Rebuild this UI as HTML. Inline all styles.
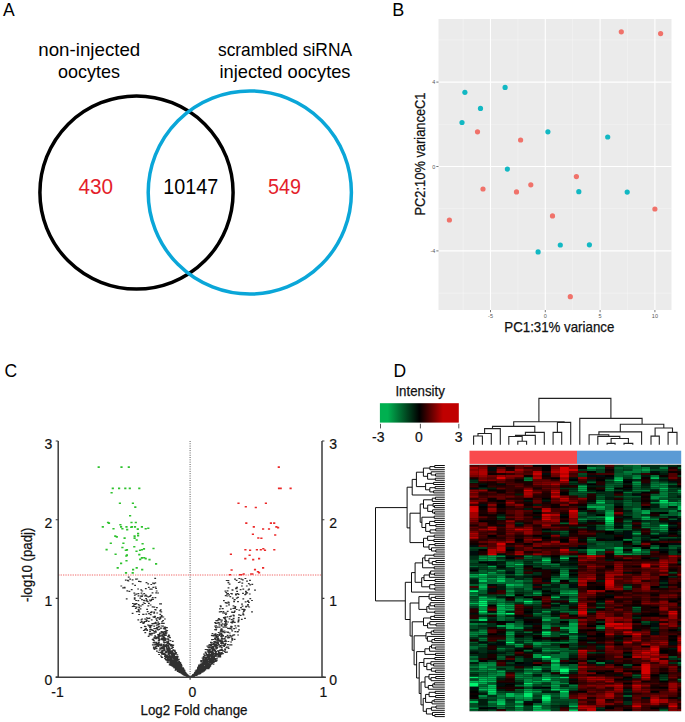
<!DOCTYPE html>
<html><head><meta charset="utf-8"><style>
html,body{margin:0;padding:0;background:#fff;}
svg{display:block;font-family:"Liberation Sans", sans-serif;}
</style></head><body>
<svg width="685" height="722" viewBox="0 0 685 722">
<rect width="685" height="722" fill="#fff"/>
<text x="3.0" y="15.8" font-size="17.5" fill="#000" text-anchor="start" >A</text>
<text x="89.3" y="55.7" font-size="19" fill="#000" text-anchor="middle" textLength="102" lengthAdjust="spacingAndGlyphs" >non-injected</text>
<text x="89.1" y="77.9" font-size="19" fill="#000" text-anchor="middle" textLength="62" lengthAdjust="spacingAndGlyphs" >oocytes</text>
<text x="285" y="55.6" font-size="19" fill="#000" text-anchor="middle" textLength="134" lengthAdjust="spacingAndGlyphs" >scrambled siRNA</text>
<text x="285" y="78.4" font-size="19" fill="#000" text-anchor="middle" textLength="131" lengthAdjust="spacingAndGlyphs" >injected oocytes</text>
<circle cx="136.5" cy="192.5" r="96.6" fill="none" stroke="#000" stroke-width="3.5"/>
<circle cx="249.8" cy="192.5" r="101.6" fill="none" stroke="#0AA6D8" stroke-width="3.5"/>
<text x="78.5" y="193.8" font-size="22" fill="#E41E2B" text-anchor="start" textLength="34.6" lengthAdjust="spacingAndGlyphs" >430</text>
<text x="163.2" y="193.9" font-size="22" fill="#000" text-anchor="start" textLength="55" lengthAdjust="spacingAndGlyphs" >10147</text>
<text x="268" y="193.8" font-size="22" fill="#E41E2B" text-anchor="start" textLength="33" lengthAdjust="spacingAndGlyphs" >549</text>
<text x="392.3" y="15.8" font-size="18" fill="#000" text-anchor="start" >B</text>
<rect x="438.5" y="19" width="233.0" height="291" fill="#EBEBEB"/>
<line x1="463.10" y1="19" x2="463.10" y2="310" stroke="#fff" stroke-width="0.55" opacity="0.5"/>
<line x1="517.90" y1="19" x2="517.90" y2="310" stroke="#fff" stroke-width="0.55" opacity="0.5"/>
<line x1="572.70" y1="19" x2="572.70" y2="310" stroke="#fff" stroke-width="0.55" opacity="0.5"/>
<line x1="627.50" y1="19" x2="627.50" y2="310" stroke="#fff" stroke-width="0.55" opacity="0.5"/>
<line x1="438.5" y1="293.10" x2="671.5" y2="293.10" stroke="#fff" stroke-width="0.55" opacity="0.5"/>
<line x1="438.5" y1="208.70" x2="671.5" y2="208.70" stroke="#fff" stroke-width="0.55" opacity="0.5"/>
<line x1="438.5" y1="124.30" x2="671.5" y2="124.30" stroke="#fff" stroke-width="0.55" opacity="0.5"/>
<line x1="438.5" y1="39.90" x2="671.5" y2="39.90" stroke="#fff" stroke-width="0.55" opacity="0.5"/>
<line x1="490.50" y1="19" x2="490.50" y2="310" stroke="#fff" stroke-width="1.1"/>
<line x1="490.50" y1="310" x2="490.50" y2="312.2" stroke="#555" stroke-width="0.8"/>
<text x="490.50" y="317.6" font-size="5.5" fill="#555" text-anchor="middle" >-5</text>
<line x1="545.30" y1="19" x2="545.30" y2="310" stroke="#fff" stroke-width="1.1"/>
<line x1="545.30" y1="310" x2="545.30" y2="312.2" stroke="#555" stroke-width="0.8"/>
<text x="545.30" y="317.6" font-size="5.5" fill="#555" text-anchor="middle" >0</text>
<line x1="600.10" y1="19" x2="600.10" y2="310" stroke="#fff" stroke-width="1.1"/>
<line x1="600.10" y1="310" x2="600.10" y2="312.2" stroke="#555" stroke-width="0.8"/>
<text x="600.10" y="317.6" font-size="5.5" fill="#555" text-anchor="middle" >5</text>
<line x1="654.90" y1="19" x2="654.90" y2="310" stroke="#fff" stroke-width="1.1"/>
<line x1="654.90" y1="310" x2="654.90" y2="312.2" stroke="#555" stroke-width="0.8"/>
<text x="654.90" y="317.6" font-size="5.5" fill="#555" text-anchor="middle" >10</text>
<line x1="438.5" y1="250.90" x2="671.5" y2="250.90" stroke="#fff" stroke-width="1.1"/>
<line x1="436.3" y1="250.90" x2="438.5" y2="250.90" stroke="#555" stroke-width="0.8"/>
<text x="435.3" y="252.90" font-size="5.5" fill="#555" text-anchor="end" >-4</text>
<line x1="438.5" y1="166.50" x2="671.5" y2="166.50" stroke="#fff" stroke-width="1.1"/>
<line x1="436.3" y1="166.50" x2="438.5" y2="166.50" stroke="#555" stroke-width="0.8"/>
<text x="435.3" y="168.50" font-size="5.5" fill="#555" text-anchor="end" >0</text>
<line x1="438.5" y1="82.10" x2="671.5" y2="82.10" stroke="#fff" stroke-width="1.1"/>
<line x1="436.3" y1="82.10" x2="438.5" y2="82.10" stroke="#555" stroke-width="0.8"/>
<text x="435.3" y="84.10" font-size="5.5" fill="#555" text-anchor="end" >4</text>
<circle cx="477.5" cy="131.8" r="2.6" fill="#F0726A"/>
<circle cx="520.6" cy="140.0" r="2.6" fill="#F0726A"/>
<circle cx="621.3" cy="31.8" r="2.6" fill="#F0726A"/>
<circle cx="660.6" cy="33.6" r="2.6" fill="#F0726A"/>
<circle cx="483.0" cy="189.0" r="2.6" fill="#F0726A"/>
<circle cx="516.5" cy="191.9" r="2.6" fill="#F0726A"/>
<circle cx="530.8" cy="184.8" r="2.6" fill="#F0726A"/>
<circle cx="449.4" cy="220.0" r="2.6" fill="#F0726A"/>
<circle cx="552.5" cy="215.9" r="2.6" fill="#F0726A"/>
<circle cx="576.4" cy="176.6" r="2.6" fill="#F0726A"/>
<circle cx="654.9" cy="209.0" r="2.6" fill="#F0726A"/>
<circle cx="570.3" cy="296.7" r="2.6" fill="#F0726A"/>
<circle cx="464.9" cy="92.3" r="2.6" fill="#12B8C3"/>
<circle cx="505.1" cy="87.4" r="2.6" fill="#12B8C3"/>
<circle cx="480.5" cy="108.4" r="2.6" fill="#12B8C3"/>
<circle cx="462.0" cy="122.5" r="2.6" fill="#12B8C3"/>
<circle cx="547.9" cy="131.8" r="2.6" fill="#12B8C3"/>
<circle cx="607.7" cy="137.0" r="2.6" fill="#12B8C3"/>
<circle cx="507.4" cy="169.1" r="2.6" fill="#12B8C3"/>
<circle cx="538.1" cy="251.9" r="2.6" fill="#12B8C3"/>
<circle cx="578.8" cy="191.7" r="2.6" fill="#12B8C3"/>
<circle cx="627.2" cy="192.1" r="2.6" fill="#12B8C3"/>
<circle cx="560.3" cy="245.0" r="2.6" fill="#12B8C3"/>
<circle cx="589.4" cy="244.8" r="2.6" fill="#12B8C3"/>
<text x="559.3" y="332.0" font-size="14.5" fill="#111" text-anchor="middle" textLength="110" lengthAdjust="spacingAndGlyphs" stroke="#111" stroke-width="0.25">PC1:31% variance</text>
<text transform="translate(425.0,154.0) rotate(-90)" x="0" y="0" font-size="14.5" fill="#111" stroke="#111" stroke-width="0.25" text-anchor="middle" textLength="123" lengthAdjust="spacingAndGlyphs">PC2:10% varianceC1</text>
<text x="4.6" y="376.7" font-size="17.5" fill="#000" text-anchor="start" >C</text>
<line x1="190.1" y1="441.0" x2="190.1" y2="677.2" stroke="#333" stroke-width="0.9" stroke-dasharray="0.9 1.4"/>
<line x1="58.2" y1="575.0" x2="322.0" y2="575.0" stroke="#F06A6A" stroke-width="1" stroke-dasharray="1.3 1.1"/>
<path d="M175.4 665.3h1.8v1.2h-1.8zM175.0 663.5h1.8v1.2h-1.8zM185.7 674.4h1.8v1.2h-1.8zM135.6 602.9h1.8v1.2h-1.8zM175.1 665.9h1.8v1.2h-1.8zM186.6 674.6h1.8v1.2h-1.8zM174.4 665.7h1.8v1.2h-1.8zM166.6 642.9h1.8v1.2h-1.8zM157.8 640.0h1.8v1.2h-1.8zM155.7 637.2h1.8v1.2h-1.8zM155.0 636.4h1.8v1.2h-1.8zM169.8 651.0h1.8v1.2h-1.8zM166.8 658.2h1.8v1.2h-1.8zM170.6 645.4h1.8v1.2h-1.8zM186.0 674.7h1.8v1.2h-1.8zM140.5 619.2h1.8v1.2h-1.8zM168.9 663.8h1.8v1.2h-1.8zM181.1 668.9h1.8v1.2h-1.8zM188.6 676.4h1.8v1.2h-1.8zM168.3 643.6h1.8v1.2h-1.8zM143.8 620.9h1.8v1.2h-1.8zM167.7 648.1h1.8v1.2h-1.8zM189.1 676.5h1.8v1.2h-1.8zM145.4 620.9h1.8v1.2h-1.8zM178.2 663.5h1.8v1.2h-1.8zM181.8 673.4h1.8v1.2h-1.8zM165.7 655.1h1.8v1.2h-1.8zM126.4 590.2h1.8v1.2h-1.8zM181.1 671.2h1.8v1.2h-1.8zM179.4 669.2h1.8v1.2h-1.8zM151.4 629.8h1.8v1.2h-1.8zM187.6 675.6h1.8v1.2h-1.8zM143.1 599.8h1.8v1.2h-1.8zM181.6 669.1h1.8v1.2h-1.8zM157.6 626.6h1.8v1.2h-1.8zM148.5 634.4h1.8v1.2h-1.8zM172.4 664.9h1.8v1.2h-1.8zM159.1 603.2h1.8v1.2h-1.8zM180.9 671.9h1.8v1.2h-1.8zM167.4 653.9h1.8v1.2h-1.8zM158.4 628.7h1.8v1.2h-1.8zM165.3 651.5h1.8v1.2h-1.8zM175.7 664.0h1.8v1.2h-1.8zM186.7 676.0h1.8v1.2h-1.8zM181.5 671.0h1.8v1.2h-1.8zM164.0 655.7h1.8v1.2h-1.8zM180.0 668.3h1.8v1.2h-1.8zM157.6 636.9h1.8v1.2h-1.8zM175.2 659.3h1.8v1.2h-1.8zM175.2 667.9h1.8v1.2h-1.8zM185.8 674.3h1.8v1.2h-1.8zM159.9 616.4h1.8v1.2h-1.8zM150.8 619.3h1.8v1.2h-1.8zM178.4 664.6h1.8v1.2h-1.8zM187.7 676.0h1.8v1.2h-1.8zM123.7 586.7h1.8v1.2h-1.8zM187.4 675.3h1.8v1.2h-1.8zM180.9 667.9h1.8v1.2h-1.8zM185.6 673.8h1.8v1.2h-1.8zM133.5 605.9h1.8v1.2h-1.8zM184.5 674.5h1.8v1.2h-1.8zM178.4 668.7h1.8v1.2h-1.8zM176.7 665.8h1.8v1.2h-1.8zM178.3 670.9h1.8v1.2h-1.8zM156.0 607.0h1.8v1.2h-1.8zM159.8 627.5h1.8v1.2h-1.8zM173.1 664.5h1.8v1.2h-1.8zM176.8 664.3h1.8v1.2h-1.8zM181.8 668.0h1.8v1.2h-1.8zM164.4 645.3h1.8v1.2h-1.8zM182.1 671.6h1.8v1.2h-1.8zM147.5 596.2h1.8v1.2h-1.8zM179.0 670.0h1.8v1.2h-1.8zM176.0 661.9h1.8v1.2h-1.8zM154.6 637.9h1.8v1.2h-1.8zM178.8 671.8h1.8v1.2h-1.8zM148.6 617.5h1.8v1.2h-1.8zM149.6 627.4h1.8v1.2h-1.8zM151.9 644.3h1.8v1.2h-1.8zM178.8 663.7h1.8v1.2h-1.8zM153.6 648.7h1.8v1.2h-1.8zM162.1 638.1h1.8v1.2h-1.8zM161.6 639.3h1.8v1.2h-1.8zM178.5 669.9h1.8v1.2h-1.8zM169.8 657.9h1.8v1.2h-1.8zM186.0 674.2h1.8v1.2h-1.8zM172.2 652.7h1.8v1.2h-1.8zM176.9 666.6h1.8v1.2h-1.8zM156.8 617.1h1.8v1.2h-1.8zM137.6 595.2h1.8v1.2h-1.8zM179.5 669.7h1.8v1.2h-1.8zM182.7 672.4h1.8v1.2h-1.8zM178.1 668.9h1.8v1.2h-1.8zM168.8 664.4h1.8v1.2h-1.8zM164.4 626.8h1.8v1.2h-1.8zM177.3 666.7h1.8v1.2h-1.8zM177.4 667.2h1.8v1.2h-1.8zM135.2 599.9h1.8v1.2h-1.8zM132.8 605.2h1.8v1.2h-1.8zM167.2 659.4h1.8v1.2h-1.8zM154.8 609.3h1.8v1.2h-1.8zM158.5 639.1h1.8v1.2h-1.8zM182.0 671.2h1.8v1.2h-1.8zM131.7 579.2h1.8v1.2h-1.8zM178.1 664.5h1.8v1.2h-1.8zM144.1 618.4h1.8v1.2h-1.8zM174.1 663.0h1.8v1.2h-1.8zM182.0 672.6h1.8v1.2h-1.8zM176.9 661.9h1.8v1.2h-1.8zM187.9 675.9h1.8v1.2h-1.8zM144.2 628.8h1.8v1.2h-1.8zM182.2 671.7h1.8v1.2h-1.8zM169.3 659.1h1.8v1.2h-1.8zM175.0 668.2h1.8v1.2h-1.8zM165.3 655.4h1.8v1.2h-1.8zM188.0 676.2h1.8v1.2h-1.8zM125.8 598.2h1.8v1.2h-1.8zM166.5 645.0h1.8v1.2h-1.8zM182.5 669.1h1.8v1.2h-1.8zM178.4 670.1h1.8v1.2h-1.8zM141.6 594.4h1.8v1.2h-1.8zM162.8 636.8h1.8v1.2h-1.8zM179.4 669.2h1.8v1.2h-1.8zM157.2 592.4h1.8v1.2h-1.8zM152.6 639.7h1.8v1.2h-1.8zM173.7 662.9h1.8v1.2h-1.8zM149.5 600.2h1.8v1.2h-1.8zM164.8 629.4h1.8v1.2h-1.8zM177.6 670.3h1.8v1.2h-1.8zM149.1 630.7h1.8v1.2h-1.8zM146.0 599.4h1.8v1.2h-1.8zM182.0 667.2h1.8v1.2h-1.8zM150.3 599.7h1.8v1.2h-1.8zM180.6 670.7h1.8v1.2h-1.8zM167.0 650.1h1.8v1.2h-1.8zM184.9 674.1h1.8v1.2h-1.8zM185.8 675.5h1.8v1.2h-1.8zM165.1 656.8h1.8v1.2h-1.8zM167.9 649.1h1.8v1.2h-1.8zM183.5 672.8h1.8v1.2h-1.8zM179.4 668.3h1.8v1.2h-1.8zM145.6 582.1h1.8v1.2h-1.8zM153.3 583.1h1.8v1.2h-1.8zM156.3 612.4h1.8v1.2h-1.8zM137.5 593.0h1.8v1.2h-1.8zM175.1 659.5h1.8v1.2h-1.8zM178.7 669.4h1.8v1.2h-1.8zM156.0 650.6h1.8v1.2h-1.8zM164.6 644.6h1.8v1.2h-1.8zM171.0 653.9h1.8v1.2h-1.8zM179.6 671.3h1.8v1.2h-1.8zM146.8 601.0h1.8v1.2h-1.8zM162.9 622.7h1.8v1.2h-1.8zM137.4 619.3h1.8v1.2h-1.8zM163.1 647.6h1.8v1.2h-1.8zM174.3 666.9h1.8v1.2h-1.8zM155.0 631.6h1.8v1.2h-1.8zM172.5 662.4h1.8v1.2h-1.8zM168.2 655.7h1.8v1.2h-1.8zM162.4 616.4h1.8v1.2h-1.8zM168.9 648.7h1.8v1.2h-1.8zM154.9 646.2h1.8v1.2h-1.8zM175.4 657.3h1.8v1.2h-1.8zM179.0 670.8h1.8v1.2h-1.8zM182.4 673.7h1.8v1.2h-1.8zM183.7 674.0h1.8v1.2h-1.8zM167.1 656.5h1.8v1.2h-1.8zM124.9 579.5h1.8v1.2h-1.8zM173.3 657.2h1.8v1.2h-1.8zM180.3 671.5h1.8v1.2h-1.8zM168.6 656.4h1.8v1.2h-1.8zM135.7 606.5h1.8v1.2h-1.8zM182.6 673.0h1.8v1.2h-1.8zM162.0 653.5h1.8v1.2h-1.8zM163.8 648.5h1.8v1.2h-1.8zM168.5 652.1h1.8v1.2h-1.8zM167.2 638.6h1.8v1.2h-1.8zM123.8 587.3h1.8v1.2h-1.8zM163.3 649.5h1.8v1.2h-1.8zM188.0 675.8h1.8v1.2h-1.8zM177.2 669.2h1.8v1.2h-1.8zM173.4 658.1h1.8v1.2h-1.8zM184.3 673.6h1.8v1.2h-1.8zM182.2 667.7h1.8v1.2h-1.8zM168.1 647.3h1.8v1.2h-1.8zM160.8 615.0h1.8v1.2h-1.8zM184.5 674.8h1.8v1.2h-1.8zM163.8 650.0h1.8v1.2h-1.8zM185.0 675.1h1.8v1.2h-1.8zM172.5 659.3h1.8v1.2h-1.8zM176.3 664.8h1.8v1.2h-1.8zM179.4 667.6h1.8v1.2h-1.8zM175.3 667.6h1.8v1.2h-1.8zM188.1 676.1h1.8v1.2h-1.8zM160.6 638.4h1.8v1.2h-1.8zM149.8 614.1h1.8v1.2h-1.8zM168.9 658.4h1.8v1.2h-1.8zM175.3 665.9h1.8v1.2h-1.8zM184.6 672.0h1.8v1.2h-1.8zM167.7 639.3h1.8v1.2h-1.8zM143.8 629.6h1.8v1.2h-1.8zM186.1 675.5h1.8v1.2h-1.8zM162.0 648.3h1.8v1.2h-1.8zM176.9 669.9h1.8v1.2h-1.8zM174.7 667.0h1.8v1.2h-1.8zM160.9 656.5h1.8v1.2h-1.8zM171.0 660.1h1.8v1.2h-1.8zM174.6 669.5h1.8v1.2h-1.8zM167.5 657.2h1.8v1.2h-1.8zM170.5 656.9h1.8v1.2h-1.8zM155.6 643.0h1.8v1.2h-1.8zM175.8 662.1h1.8v1.2h-1.8zM180.6 668.8h1.8v1.2h-1.8zM161.8 647.2h1.8v1.2h-1.8zM165.7 646.0h1.8v1.2h-1.8zM176.0 658.8h1.8v1.2h-1.8zM182.9 671.7h1.8v1.2h-1.8zM180.3 671.4h1.8v1.2h-1.8zM184.8 673.4h1.8v1.2h-1.8zM171.6 660.2h1.8v1.2h-1.8zM179.6 662.4h1.8v1.2h-1.8zM164.7 656.7h1.8v1.2h-1.8zM170.4 661.7h1.8v1.2h-1.8zM164.1 638.1h1.8v1.2h-1.8zM157.6 635.3h1.8v1.2h-1.8zM169.1 659.2h1.8v1.2h-1.8zM150.4 634.4h1.8v1.2h-1.8zM172.0 659.2h1.8v1.2h-1.8zM179.4 670.7h1.8v1.2h-1.8zM151.6 592.2h1.8v1.2h-1.8zM147.4 605.2h1.8v1.2h-1.8zM165.9 641.2h1.8v1.2h-1.8zM166.9 661.4h1.8v1.2h-1.8zM179.1 661.9h1.8v1.2h-1.8zM178.5 664.1h1.8v1.2h-1.8zM171.7 655.2h1.8v1.2h-1.8zM181.8 672.5h1.8v1.2h-1.8zM170.1 653.1h1.8v1.2h-1.8zM146.3 629.7h1.8v1.2h-1.8zM183.1 672.6h1.8v1.2h-1.8zM188.6 676.4h1.8v1.2h-1.8zM173.0 657.9h1.8v1.2h-1.8zM146.2 608.7h1.8v1.2h-1.8zM188.3 676.1h1.8v1.2h-1.8zM185.4 673.4h1.8v1.2h-1.8zM183.6 671.7h1.8v1.2h-1.8zM163.8 645.5h1.8v1.2h-1.8zM145.5 619.3h1.8v1.2h-1.8zM173.7 657.1h1.8v1.2h-1.8zM161.4 656.9h1.8v1.2h-1.8zM169.9 658.5h1.8v1.2h-1.8zM182.8 674.2h1.8v1.2h-1.8zM153.9 644.3h1.8v1.2h-1.8zM166.2 648.8h1.8v1.2h-1.8zM170.5 655.3h1.8v1.2h-1.8zM177.1 666.5h1.8v1.2h-1.8zM167.8 646.6h1.8v1.2h-1.8zM161.3 634.2h1.8v1.2h-1.8zM188.6 676.3h1.8v1.2h-1.8zM158.7 633.6h1.8v1.2h-1.8zM167.1 644.4h1.8v1.2h-1.8zM183.1 673.4h1.8v1.2h-1.8zM146.2 629.2h1.8v1.2h-1.8zM175.6 660.8h1.8v1.2h-1.8zM184.6 674.9h1.8v1.2h-1.8zM175.3 652.2h1.8v1.2h-1.8zM130.8 589.0h1.8v1.2h-1.8zM183.1 669.6h1.8v1.2h-1.8zM185.8 673.8h1.8v1.2h-1.8zM183.6 670.5h1.8v1.2h-1.8zM169.6 640.0h1.8v1.2h-1.8zM134.9 607.7h1.8v1.2h-1.8zM166.3 629.9h1.8v1.2h-1.8zM151.4 623.3h1.8v1.2h-1.8zM173.2 660.0h1.8v1.2h-1.8zM161.3 647.3h1.8v1.2h-1.8zM134.7 603.9h1.8v1.2h-1.8zM133.4 592.5h1.8v1.2h-1.8zM128.5 590.8h1.8v1.2h-1.8zM155.4 618.3h1.8v1.2h-1.8zM162.2 631.3h1.8v1.2h-1.8zM164.0 618.4h1.8v1.2h-1.8zM173.0 652.4h1.8v1.2h-1.8zM153.3 612.6h1.8v1.2h-1.8zM177.4 670.1h1.8v1.2h-1.8zM160.4 644.7h1.8v1.2h-1.8zM163.0 633.3h1.8v1.2h-1.8zM178.5 668.9h1.8v1.2h-1.8zM182.8 670.5h1.8v1.2h-1.8zM163.6 652.9h1.8v1.2h-1.8zM162.6 633.8h1.8v1.2h-1.8zM188.0 675.9h1.8v1.2h-1.8zM163.4 634.7h1.8v1.2h-1.8zM151.8 597.1h1.8v1.2h-1.8zM176.4 659.0h1.8v1.2h-1.8zM152.1 598.8h1.8v1.2h-1.8zM160.1 645.4h1.8v1.2h-1.8zM152.1 582.6h1.8v1.2h-1.8zM166.0 627.1h1.8v1.2h-1.8zM154.7 586.5h1.8v1.2h-1.8zM164.2 644.8h1.8v1.2h-1.8zM182.0 672.7h1.8v1.2h-1.8zM172.3 644.7h1.8v1.2h-1.8zM137.6 608.7h1.8v1.2h-1.8zM149.3 629.1h1.8v1.2h-1.8zM184.3 674.8h1.8v1.2h-1.8zM177.2 667.6h1.8v1.2h-1.8zM177.6 664.8h1.8v1.2h-1.8zM183.7 673.0h1.8v1.2h-1.8zM178.4 670.0h1.8v1.2h-1.8zM159.5 616.6h1.8v1.2h-1.8zM187.1 676.0h1.8v1.2h-1.8zM148.1 613.0h1.8v1.2h-1.8zM147.7 635.7h1.8v1.2h-1.8zM162.4 650.0h1.8v1.2h-1.8zM152.6 642.1h1.8v1.2h-1.8zM153.0 639.7h1.8v1.2h-1.8zM172.3 664.8h1.8v1.2h-1.8zM145.4 613.5h1.8v1.2h-1.8zM155.8 627.9h1.8v1.2h-1.8zM188.5 676.4h1.8v1.2h-1.8zM153.6 641.5h1.8v1.2h-1.8zM170.0 662.7h1.8v1.2h-1.8zM165.0 655.0h1.8v1.2h-1.8zM181.6 668.2h1.8v1.2h-1.8zM160.0 655.4h1.8v1.2h-1.8zM165.9 657.1h1.8v1.2h-1.8zM180.5 672.3h1.8v1.2h-1.8zM165.1 638.3h1.8v1.2h-1.8zM173.0 655.3h1.8v1.2h-1.8zM181.9 668.6h1.8v1.2h-1.8zM162.1 625.5h1.8v1.2h-1.8zM159.7 648.2h1.8v1.2h-1.8zM167.2 656.5h1.8v1.2h-1.8zM163.5 644.6h1.8v1.2h-1.8zM170.4 660.3h1.8v1.2h-1.8zM143.6 600.0h1.8v1.2h-1.8zM183.2 671.9h1.8v1.2h-1.8zM179.3 666.7h1.8v1.2h-1.8zM161.3 649.9h1.8v1.2h-1.8zM170.7 658.9h1.8v1.2h-1.8zM180.1 668.5h1.8v1.2h-1.8zM187.9 676.2h1.8v1.2h-1.8zM171.1 657.2h1.8v1.2h-1.8zM183.8 671.5h1.8v1.2h-1.8zM170.6 662.4h1.8v1.2h-1.8zM151.0 598.8h1.8v1.2h-1.8zM150.7 625.1h1.8v1.2h-1.8zM162.7 636.9h1.8v1.2h-1.8zM181.5 672.6h1.8v1.2h-1.8zM172.6 652.4h1.8v1.2h-1.8zM176.3 662.8h1.8v1.2h-1.8zM172.0 662.3h1.8v1.2h-1.8zM148.1 625.2h1.8v1.2h-1.8zM179.8 672.0h1.8v1.2h-1.8zM172.4 665.3h1.8v1.2h-1.8zM188.4 676.2h1.8v1.2h-1.8zM158.2 635.4h1.8v1.2h-1.8zM165.7 644.1h1.8v1.2h-1.8zM132.0 602.9h1.8v1.2h-1.8zM176.4 661.8h1.8v1.2h-1.8zM171.6 657.5h1.8v1.2h-1.8zM183.2 671.1h1.8v1.2h-1.8zM181.1 673.1h1.8v1.2h-1.8zM166.1 656.1h1.8v1.2h-1.8zM169.6 650.4h1.8v1.2h-1.8zM175.6 661.3h1.8v1.2h-1.8zM179.2 670.2h1.8v1.2h-1.8zM166.0 654.9h1.8v1.2h-1.8zM185.0 673.2h1.8v1.2h-1.8zM173.8 649.7h1.8v1.2h-1.8zM174.7 664.0h1.8v1.2h-1.8zM167.9 651.8h1.8v1.2h-1.8zM148.3 617.8h1.8v1.2h-1.8zM182.6 668.2h1.8v1.2h-1.8zM175.9 666.1h1.8v1.2h-1.8zM177.8 668.5h1.8v1.2h-1.8zM147.8 620.7h1.8v1.2h-1.8zM176.5 663.8h1.8v1.2h-1.8zM182.8 673.0h1.8v1.2h-1.8zM183.2 672.7h1.8v1.2h-1.8zM185.8 675.5h1.8v1.2h-1.8zM183.6 673.7h1.8v1.2h-1.8zM155.9 627.2h1.8v1.2h-1.8zM179.5 669.8h1.8v1.2h-1.8zM179.6 667.8h1.8v1.2h-1.8zM161.1 621.3h1.8v1.2h-1.8zM161.6 635.6h1.8v1.2h-1.8zM178.6 662.4h1.8v1.2h-1.8zM167.5 653.1h1.8v1.2h-1.8zM179.6 665.8h1.8v1.2h-1.8zM166.7 661.7h1.8v1.2h-1.8zM186.4 675.6h1.8v1.2h-1.8zM162.5 646.2h1.8v1.2h-1.8zM184.7 673.0h1.8v1.2h-1.8zM179.4 662.8h1.8v1.2h-1.8zM149.1 626.8h1.8v1.2h-1.8zM154.6 644.1h1.8v1.2h-1.8zM147.1 624.4h1.8v1.2h-1.8zM165.0 633.3h1.8v1.2h-1.8zM167.0 638.2h1.8v1.2h-1.8zM160.2 643.5h1.8v1.2h-1.8zM185.2 674.9h1.8v1.2h-1.8zM181.1 672.6h1.8v1.2h-1.8zM133.9 594.6h1.8v1.2h-1.8zM174.3 663.8h1.8v1.2h-1.8zM155.5 642.2h1.8v1.2h-1.8zM170.5 659.7h1.8v1.2h-1.8zM173.9 664.9h1.8v1.2h-1.8zM164.8 658.9h1.8v1.2h-1.8zM177.9 663.7h1.8v1.2h-1.8zM183.5 673.0h1.8v1.2h-1.8zM186.6 674.3h1.8v1.2h-1.8zM172.8 653.0h1.8v1.2h-1.8zM176.4 654.2h1.8v1.2h-1.8zM138.3 606.9h1.8v1.2h-1.8zM186.3 675.7h1.8v1.2h-1.8zM155.7 647.8h1.8v1.2h-1.8zM145.2 628.1h1.8v1.2h-1.8zM176.4 665.4h1.8v1.2h-1.8zM182.4 668.6h1.8v1.2h-1.8zM153.6 642.3h1.8v1.2h-1.8zM180.3 671.6h1.8v1.2h-1.8zM181.5 671.3h1.8v1.2h-1.8zM171.9 640.7h1.8v1.2h-1.8zM175.0 660.7h1.8v1.2h-1.8zM178.3 664.6h1.8v1.2h-1.8zM182.6 671.3h1.8v1.2h-1.8zM182.7 670.2h1.8v1.2h-1.8zM142.7 613.8h1.8v1.2h-1.8zM176.3 666.4h1.8v1.2h-1.8zM173.0 666.3h1.8v1.2h-1.8zM165.9 644.6h1.8v1.2h-1.8zM168.9 651.9h1.8v1.2h-1.8zM184.5 673.0h1.8v1.2h-1.8zM158.6 623.1h1.8v1.2h-1.8zM170.6 657.4h1.8v1.2h-1.8zM167.8 656.0h1.8v1.2h-1.8zM166.3 660.0h1.8v1.2h-1.8zM167.4 640.8h1.8v1.2h-1.8zM133.8 598.5h1.8v1.2h-1.8zM184.3 674.8h1.8v1.2h-1.8zM180.6 669.6h1.8v1.2h-1.8zM169.0 649.1h1.8v1.2h-1.8zM155.8 644.5h1.8v1.2h-1.8zM182.3 673.5h1.8v1.2h-1.8zM166.5 644.9h1.8v1.2h-1.8zM169.8 651.8h1.8v1.2h-1.8zM173.4 666.7h1.8v1.2h-1.8zM164.7 654.5h1.8v1.2h-1.8zM160.9 656.7h1.8v1.2h-1.8zM152.2 629.8h1.8v1.2h-1.8zM158.1 625.9h1.8v1.2h-1.8zM178.7 665.0h1.8v1.2h-1.8zM182.2 671.1h1.8v1.2h-1.8zM180.3 664.0h1.8v1.2h-1.8zM173.9 658.9h1.8v1.2h-1.8zM173.1 656.8h1.8v1.2h-1.8zM154.4 582.3h1.8v1.2h-1.8zM154.2 635.3h1.8v1.2h-1.8zM151.5 632.8h1.8v1.2h-1.8zM156.6 636.5h1.8v1.2h-1.8zM167.8 653.8h1.8v1.2h-1.8zM134.2 584.7h1.8v1.2h-1.8zM174.3 664.2h1.8v1.2h-1.8zM186.0 674.5h1.8v1.2h-1.8zM151.7 606.2h1.8v1.2h-1.8zM179.9 670.8h1.8v1.2h-1.8zM170.8 660.5h1.8v1.2h-1.8zM187.8 675.8h1.8v1.2h-1.8zM178.4 661.9h1.8v1.2h-1.8zM179.4 670.2h1.8v1.2h-1.8zM164.0 631.0h1.8v1.2h-1.8zM168.8 647.7h1.8v1.2h-1.8zM164.6 644.6h1.8v1.2h-1.8zM168.7 648.7h1.8v1.2h-1.8zM177.9 658.7h1.8v1.2h-1.8zM185.0 674.8h1.8v1.2h-1.8zM181.6 671.6h1.8v1.2h-1.8zM172.9 660.8h1.8v1.2h-1.8zM165.9 650.5h1.8v1.2h-1.8zM158.1 636.5h1.8v1.2h-1.8zM165.2 659.3h1.8v1.2h-1.8zM152.9 646.5h1.8v1.2h-1.8zM184.7 674.7h1.8v1.2h-1.8zM178.9 663.5h1.8v1.2h-1.8zM183.7 671.4h1.8v1.2h-1.8zM171.8 656.8h1.8v1.2h-1.8zM175.3 665.3h1.8v1.2h-1.8zM150.8 611.3h1.8v1.2h-1.8zM181.5 668.9h1.8v1.2h-1.8zM138.0 580.8h1.8v1.2h-1.8zM154.9 621.8h1.8v1.2h-1.8zM159.5 617.7h1.8v1.2h-1.8zM159.8 652.0h1.8v1.2h-1.8zM127.5 580.4h1.8v1.2h-1.8zM181.6 671.8h1.8v1.2h-1.8zM138.5 611.4h1.8v1.2h-1.8zM169.5 643.7h1.8v1.2h-1.8zM185.4 673.3h1.8v1.2h-1.8zM182.8 672.8h1.8v1.2h-1.8zM168.6 644.1h1.8v1.2h-1.8zM174.1 664.0h1.8v1.2h-1.8zM144.0 595.4h1.8v1.2h-1.8zM186.2 675.2h1.8v1.2h-1.8zM187.9 676.2h1.8v1.2h-1.8zM156.8 643.6h1.8v1.2h-1.8zM143.3 593.0h1.8v1.2h-1.8zM154.3 577.8h1.8v1.2h-1.8zM182.0 668.6h1.8v1.2h-1.8zM159.4 613.8h1.8v1.2h-1.8zM158.2 653.9h1.8v1.2h-1.8zM155.8 624.5h1.8v1.2h-1.8zM172.4 662.9h1.8v1.2h-1.8zM166.4 644.7h1.8v1.2h-1.8zM168.9 649.7h1.8v1.2h-1.8zM165.3 655.5h1.8v1.2h-1.8zM165.0 655.1h1.8v1.2h-1.8zM174.3 658.9h1.8v1.2h-1.8zM185.7 675.2h1.8v1.2h-1.8zM184.2 673.4h1.8v1.2h-1.8zM185.0 673.8h1.8v1.2h-1.8zM164.1 657.9h1.8v1.2h-1.8zM173.5 663.4h1.8v1.2h-1.8zM179.6 662.8h1.8v1.2h-1.8zM179.0 670.8h1.8v1.2h-1.8zM163.0 627.6h1.8v1.2h-1.8zM166.9 649.3h1.8v1.2h-1.8zM166.5 641.6h1.8v1.2h-1.8zM175.3 664.0h1.8v1.2h-1.8zM179.4 665.0h1.8v1.2h-1.8zM176.6 656.9h1.8v1.2h-1.8zM156.3 626.7h1.8v1.2h-1.8zM150.8 628.9h1.8v1.2h-1.8zM158.4 644.5h1.8v1.2h-1.8zM142.9 629.9h1.8v1.2h-1.8zM164.5 641.8h1.8v1.2h-1.8zM157.8 651.7h1.8v1.2h-1.8zM178.0 667.3h1.8v1.2h-1.8zM161.1 653.5h1.8v1.2h-1.8zM142.2 622.3h1.8v1.2h-1.8zM185.6 675.0h1.8v1.2h-1.8zM165.2 651.7h1.8v1.2h-1.8zM174.7 653.4h1.8v1.2h-1.8zM172.7 652.9h1.8v1.2h-1.8zM155.7 641.8h1.8v1.2h-1.8zM166.8 659.7h1.8v1.2h-1.8zM185.4 674.3h1.8v1.2h-1.8zM156.8 645.0h1.8v1.2h-1.8zM180.4 672.0h1.8v1.2h-1.8zM179.2 667.9h1.8v1.2h-1.8zM179.8 671.7h1.8v1.2h-1.8zM173.3 662.8h1.8v1.2h-1.8zM170.4 658.7h1.8v1.2h-1.8zM163.4 628.4h1.8v1.2h-1.8zM172.9 664.2h1.8v1.2h-1.8zM161.1 650.7h1.8v1.2h-1.8zM145.9 617.3h1.8v1.2h-1.8zM171.5 646.4h1.8v1.2h-1.8zM163.5 638.8h1.8v1.2h-1.8zM174.9 653.3h1.8v1.2h-1.8zM175.0 658.8h1.8v1.2h-1.8zM181.8 672.4h1.8v1.2h-1.8zM182.5 671.3h1.8v1.2h-1.8zM143.6 621.1h1.8v1.2h-1.8zM181.6 672.9h1.8v1.2h-1.8zM180.7 671.3h1.8v1.2h-1.8zM174.4 661.7h1.8v1.2h-1.8zM168.1 656.7h1.8v1.2h-1.8zM155.2 638.0h1.8v1.2h-1.8zM166.4 655.7h1.8v1.2h-1.8zM177.0 668.8h1.8v1.2h-1.8zM155.2 587.9h1.8v1.2h-1.8zM171.9 664.5h1.8v1.2h-1.8zM175.1 668.4h1.8v1.2h-1.8zM183.1 672.1h1.8v1.2h-1.8zM129.2 578.6h1.8v1.2h-1.8zM138.2 613.9h1.8v1.2h-1.8zM143.9 625.8h1.8v1.2h-1.8zM162.5 645.1h1.8v1.2h-1.8zM170.7 651.2h1.8v1.2h-1.8zM177.1 666.3h1.8v1.2h-1.8zM175.7 659.0h1.8v1.2h-1.8zM150.8 634.2h1.8v1.2h-1.8zM162.8 646.7h1.8v1.2h-1.8zM182.5 673.1h1.8v1.2h-1.8zM170.4 664.0h1.8v1.2h-1.8zM177.3 667.4h1.8v1.2h-1.8zM183.5 672.8h1.8v1.2h-1.8zM146.9 617.9h1.8v1.2h-1.8zM137.4 600.1h1.8v1.2h-1.8zM182.9 671.4h1.8v1.2h-1.8zM179.7 668.2h1.8v1.2h-1.8zM165.2 656.0h1.8v1.2h-1.8zM169.3 659.7h1.8v1.2h-1.8zM156.9 644.8h1.8v1.2h-1.8zM165.4 644.2h1.8v1.2h-1.8zM157.9 640.1h1.8v1.2h-1.8zM174.9 652.1h1.8v1.2h-1.8zM175.7 667.0h1.8v1.2h-1.8zM141.4 590.4h1.8v1.2h-1.8zM133.8 597.3h1.8v1.2h-1.8zM161.0 652.2h1.8v1.2h-1.8zM169.9 655.9h1.8v1.2h-1.8zM141.1 595.7h1.8v1.2h-1.8zM176.0 660.0h1.8v1.2h-1.8zM154.5 597.1h1.8v1.2h-1.8zM164.7 634.8h1.8v1.2h-1.8zM163.4 653.3h1.8v1.2h-1.8zM150.5 611.7h1.8v1.2h-1.8zM168.4 635.6h1.8v1.2h-1.8zM140.1 605.4h1.8v1.2h-1.8zM153.7 637.6h1.8v1.2h-1.8zM145.8 595.5h1.8v1.2h-1.8zM138.3 605.3h1.8v1.2h-1.8zM178.1 664.2h1.8v1.2h-1.8zM165.0 645.4h1.8v1.2h-1.8zM148.9 624.8h1.8v1.2h-1.8zM175.8 667.3h1.8v1.2h-1.8zM166.4 656.7h1.8v1.2h-1.8zM162.7 647.0h1.8v1.2h-1.8zM184.3 674.5h1.8v1.2h-1.8zM181.6 669.2h1.8v1.2h-1.8zM186.5 674.3h1.8v1.2h-1.8zM185.0 674.7h1.8v1.2h-1.8zM174.9 664.6h1.8v1.2h-1.8zM177.7 669.7h1.8v1.2h-1.8zM168.0 634.9h1.8v1.2h-1.8zM160.7 648.4h1.8v1.2h-1.8zM170.4 651.3h1.8v1.2h-1.8zM169.3 659.2h1.8v1.2h-1.8zM179.5 670.4h1.8v1.2h-1.8zM172.2 655.8h1.8v1.2h-1.8zM178.9 667.6h1.8v1.2h-1.8zM184.4 674.6h1.8v1.2h-1.8zM173.2 663.9h1.8v1.2h-1.8zM171.8 663.9h1.8v1.2h-1.8zM158.6 634.9h1.8v1.2h-1.8zM184.4 672.5h1.8v1.2h-1.8zM182.5 668.2h1.8v1.2h-1.8zM140.3 589.2h1.8v1.2h-1.8zM164.0 626.5h1.8v1.2h-1.8zM177.1 658.7h1.8v1.2h-1.8zM175.0 665.3h1.8v1.2h-1.8zM181.0 669.9h1.8v1.2h-1.8zM171.7 651.2h1.8v1.2h-1.8zM155.7 648.0h1.8v1.2h-1.8zM186.0 674.9h1.8v1.2h-1.8zM177.7 668.6h1.8v1.2h-1.8zM142.2 613.7h1.8v1.2h-1.8zM181.4 669.0h1.8v1.2h-1.8zM160.8 638.8h1.8v1.2h-1.8zM139.6 608.3h1.8v1.2h-1.8zM187.6 676.0h1.8v1.2h-1.8zM183.6 673.3h1.8v1.2h-1.8zM157.3 629.4h1.8v1.2h-1.8zM185.8 674.2h1.8v1.2h-1.8zM188.0 676.3h1.8v1.2h-1.8zM163.1 646.9h1.8v1.2h-1.8zM172.3 654.1h1.8v1.2h-1.8zM160.6 625.4h1.8v1.2h-1.8zM179.5 671.9h1.8v1.2h-1.8zM160.5 643.4h1.8v1.2h-1.8zM166.7 649.8h1.8v1.2h-1.8zM131.7 612.8h1.8v1.2h-1.8zM149.3 625.1h1.8v1.2h-1.8zM168.2 659.8h1.8v1.2h-1.8zM180.6 665.2h1.8v1.2h-1.8zM162.5 637.7h1.8v1.2h-1.8zM175.5 668.9h1.8v1.2h-1.8zM159.9 635.2h1.8v1.2h-1.8zM168.8 654.6h1.8v1.2h-1.8zM174.4 661.5h1.8v1.2h-1.8zM150.4 583.9h1.8v1.2h-1.8zM158.1 638.4h1.8v1.2h-1.8zM178.1 667.9h1.8v1.2h-1.8zM180.5 666.1h1.8v1.2h-1.8zM169.6 657.1h1.8v1.2h-1.8zM177.1 666.1h1.8v1.2h-1.8zM183.0 673.6h1.8v1.2h-1.8zM188.1 676.2h1.8v1.2h-1.8zM160.3 651.5h1.8v1.2h-1.8zM144.9 588.0h1.8v1.2h-1.8zM186.4 674.6h1.8v1.2h-1.8zM172.3 663.5h1.8v1.2h-1.8zM164.4 632.7h1.8v1.2h-1.8zM181.4 670.3h1.8v1.2h-1.8zM168.7 658.3h1.8v1.2h-1.8zM173.4 658.9h1.8v1.2h-1.8zM168.4 659.9h1.8v1.2h-1.8zM152.3 638.6h1.8v1.2h-1.8zM166.9 655.3h1.8v1.2h-1.8zM137.9 610.0h1.8v1.2h-1.8zM177.9 665.5h1.8v1.2h-1.8zM122.2 587.2h1.8v1.2h-1.8zM176.8 655.9h1.8v1.2h-1.8zM179.8 668.8h1.8v1.2h-1.8zM161.3 631.8h1.8v1.2h-1.8zM178.9 670.4h1.8v1.2h-1.8zM148.0 602.7h1.8v1.2h-1.8zM160.5 627.6h1.8v1.2h-1.8zM145.2 598.0h1.8v1.2h-1.8zM187.5 675.8h1.8v1.2h-1.8zM167.3 659.2h1.8v1.2h-1.8zM184.6 672.8h1.8v1.2h-1.8zM186.3 674.8h1.8v1.2h-1.8zM167.6 661.5h1.8v1.2h-1.8zM177.4 661.5h1.8v1.2h-1.8zM149.0 595.7h1.8v1.2h-1.8zM175.2 656.0h1.8v1.2h-1.8zM144.4 632.1h1.8v1.2h-1.8zM152.5 616.3h1.8v1.2h-1.8zM180.6 668.7h1.8v1.2h-1.8zM160.6 638.9h1.8v1.2h-1.8zM188.3 676.2h1.8v1.2h-1.8zM181.9 670.8h1.8v1.2h-1.8zM154.0 615.8h1.8v1.2h-1.8zM162.5 636.1h1.8v1.2h-1.8zM187.1 675.4h1.8v1.2h-1.8zM168.4 651.8h1.8v1.2h-1.8zM176.2 657.8h1.8v1.2h-1.8zM139.4 597.5h1.8v1.2h-1.8zM154.3 642.3h1.8v1.2h-1.8zM161.6 650.5h1.8v1.2h-1.8zM187.5 676.1h1.8v1.2h-1.8zM188.6 676.4h1.8v1.2h-1.8zM120.4 585.4h1.8v1.2h-1.8zM171.3 655.5h1.8v1.2h-1.8zM185.9 674.9h1.8v1.2h-1.8zM168.4 643.1h1.8v1.2h-1.8zM174.4 657.2h1.8v1.2h-1.8zM181.7 671.7h1.8v1.2h-1.8zM159.0 632.6h1.8v1.2h-1.8zM164.3 633.3h1.8v1.2h-1.8zM182.0 672.2h1.8v1.2h-1.8zM180.5 668.6h1.8v1.2h-1.8zM186.2 675.6h1.8v1.2h-1.8zM156.6 643.6h1.8v1.2h-1.8zM164.1 645.9h1.8v1.2h-1.8zM156.4 628.6h1.8v1.2h-1.8zM171.5 665.6h1.8v1.2h-1.8zM180.2 671.8h1.8v1.2h-1.8zM171.3 655.5h1.8v1.2h-1.8zM185.2 673.3h1.8v1.2h-1.8zM167.6 645.5h1.8v1.2h-1.8zM167.2 635.8h1.8v1.2h-1.8zM172.4 649.3h1.8v1.2h-1.8zM187.2 675.4h1.8v1.2h-1.8zM184.2 674.4h1.8v1.2h-1.8zM173.5 662.2h1.8v1.2h-1.8zM157.9 636.0h1.8v1.2h-1.8zM172.5 654.9h1.8v1.2h-1.8zM182.4 672.7h1.8v1.2h-1.8zM151.7 638.9h1.8v1.2h-1.8zM171.1 650.3h1.8v1.2h-1.8zM182.3 672.5h1.8v1.2h-1.8zM177.5 664.6h1.8v1.2h-1.8zM183.0 671.9h1.8v1.2h-1.8zM169.8 661.0h1.8v1.2h-1.8zM163.1 636.5h1.8v1.2h-1.8zM178.1 667.6h1.8v1.2h-1.8zM184.1 673.1h1.8v1.2h-1.8zM141.3 618.4h1.8v1.2h-1.8zM176.7 662.8h1.8v1.2h-1.8zM162.2 620.1h1.8v1.2h-1.8zM172.1 646.7h1.8v1.2h-1.8zM171.9 664.6h1.8v1.2h-1.8zM184.7 673.4h1.8v1.2h-1.8zM175.3 665.8h1.8v1.2h-1.8zM164.6 639.6h1.8v1.2h-1.8zM161.7 651.4h1.8v1.2h-1.8zM145.9 619.8h1.8v1.2h-1.8zM141.1 599.0h1.8v1.2h-1.8zM162.9 641.2h1.8v1.2h-1.8zM163.5 633.6h1.8v1.2h-1.8zM176.4 669.4h1.8v1.2h-1.8zM167.4 641.9h1.8v1.2h-1.8zM164.0 654.0h1.8v1.2h-1.8zM127.8 576.5h1.8v1.2h-1.8zM163.4 653.7h1.8v1.2h-1.8zM183.6 669.8h1.8v1.2h-1.8zM145.7 600.4h1.8v1.2h-1.8zM161.4 648.4h1.8v1.2h-1.8zM178.0 667.2h1.8v1.2h-1.8zM188.6 676.3h1.8v1.2h-1.8zM178.8 668.0h1.8v1.2h-1.8zM180.8 670.0h1.8v1.2h-1.8zM158.0 641.8h1.8v1.2h-1.8zM153.4 632.6h1.8v1.2h-1.8zM136.3 578.4h1.8v1.2h-1.8zM181.1 671.4h1.8v1.2h-1.8zM181.7 669.4h1.8v1.2h-1.8zM179.4 670.7h1.8v1.2h-1.8zM180.8 672.0h1.8v1.2h-1.8zM173.4 660.7h1.8v1.2h-1.8zM142.5 622.7h1.8v1.2h-1.8zM146.8 611.0h1.8v1.2h-1.8zM155.5 645.9h1.8v1.2h-1.8zM150.3 624.9h1.8v1.2h-1.8zM137.7 603.9h1.8v1.2h-1.8zM154.2 616.3h1.8v1.2h-1.8zM153.5 616.8h1.8v1.2h-1.8zM171.0 662.5h1.8v1.2h-1.8zM175.5 662.5h1.8v1.2h-1.8zM178.9 664.9h1.8v1.2h-1.8zM134.1 603.2h1.8v1.2h-1.8zM171.4 660.2h1.8v1.2h-1.8zM161.1 637.6h1.8v1.2h-1.8zM184.8 673.1h1.8v1.2h-1.8zM144.9 594.5h1.8v1.2h-1.8zM178.3 668.1h1.8v1.2h-1.8zM180.0 671.7h1.8v1.2h-1.8zM172.4 644.4h1.8v1.2h-1.8zM169.8 659.3h1.8v1.2h-1.8zM171.1 662.7h1.8v1.2h-1.8zM159.8 632.5h1.8v1.2h-1.8zM173.2 661.5h1.8v1.2h-1.8zM149.2 633.2h1.8v1.2h-1.8zM176.0 667.8h1.8v1.2h-1.8zM185.6 674.0h1.8v1.2h-1.8zM161.7 651.5h1.8v1.2h-1.8zM184.9 673.4h1.8v1.2h-1.8zM158.2 640.0h1.8v1.2h-1.8zM178.1 669.5h1.8v1.2h-1.8zM149.7 604.4h1.8v1.2h-1.8zM154.7 622.8h1.8v1.2h-1.8zM157.5 638.1h1.8v1.2h-1.8zM164.3 654.4h1.8v1.2h-1.8zM187.2 675.5h1.8v1.2h-1.8zM187.0 675.5h1.8v1.2h-1.8zM175.9 664.4h1.8v1.2h-1.8zM173.0 656.7h1.8v1.2h-1.8zM157.7 624.3h1.8v1.2h-1.8zM177.3 668.9h1.8v1.2h-1.8zM164.7 653.6h1.8v1.2h-1.8zM173.4 657.1h1.8v1.2h-1.8zM170.4 651.3h1.8v1.2h-1.8zM150.9 588.6h1.8v1.2h-1.8zM187.1 675.7h1.8v1.2h-1.8zM170.8 653.0h1.8v1.2h-1.8zM151.4 623.0h1.8v1.2h-1.8zM149.9 594.7h1.8v1.2h-1.8zM175.4 656.3h1.8v1.2h-1.8zM159.9 609.3h1.8v1.2h-1.8zM174.8 661.1h1.8v1.2h-1.8zM166.9 661.6h1.8v1.2h-1.8zM180.9 667.4h1.8v1.2h-1.8zM139.7 581.1h1.8v1.2h-1.8zM175.7 663.8h1.8v1.2h-1.8zM164.3 632.1h1.8v1.2h-1.8zM167.7 661.3h1.8v1.2h-1.8zM181.4 668.7h1.8v1.2h-1.8zM167.4 636.3h1.8v1.2h-1.8zM171.5 656.6h1.8v1.2h-1.8zM171.4 660.7h1.8v1.2h-1.8zM172.0 665.2h1.8v1.2h-1.8zM153.3 625.5h1.8v1.2h-1.8zM173.8 656.4h1.8v1.2h-1.8zM173.3 656.2h1.8v1.2h-1.8zM184.2 673.7h1.8v1.2h-1.8zM162.8 643.9h1.8v1.2h-1.8zM155.9 643.8h1.8v1.2h-1.8zM131.8 583.3h1.8v1.2h-1.8zM170.5 657.0h1.8v1.2h-1.8zM162.6 644.0h1.8v1.2h-1.8zM184.1 673.0h1.8v1.2h-1.8zM175.1 664.2h1.8v1.2h-1.8zM155.8 590.4h1.8v1.2h-1.8zM178.4 671.6h1.8v1.2h-1.8zM170.5 645.2h1.8v1.2h-1.8zM153.7 622.6h1.8v1.2h-1.8zM171.6 652.8h1.8v1.2h-1.8zM172.1 663.1h1.8v1.2h-1.8zM171.6 656.6h1.8v1.2h-1.8zM173.3 654.9h1.8v1.2h-1.8zM172.6 655.8h1.8v1.2h-1.8zM179.7 666.6h1.8v1.2h-1.8zM164.0 639.9h1.8v1.2h-1.8zM170.4 663.7h1.8v1.2h-1.8zM157.2 634.1h1.8v1.2h-1.8zM177.7 667.3h1.8v1.2h-1.8zM165.5 655.3h1.8v1.2h-1.8zM150.8 632.8h1.8v1.2h-1.8zM172.0 657.5h1.8v1.2h-1.8zM169.6 660.0h1.8v1.2h-1.8zM137.7 610.5h1.8v1.2h-1.8zM159.4 635.5h1.8v1.2h-1.8zM182.0 668.0h1.8v1.2h-1.8zM175.5 664.9h1.8v1.2h-1.8zM179.7 666.5h1.8v1.2h-1.8zM180.7 665.3h1.8v1.2h-1.8zM173.2 656.2h1.8v1.2h-1.8zM169.2 663.6h1.8v1.2h-1.8zM160.6 630.9h1.8v1.2h-1.8zM186.1 674.9h1.8v1.2h-1.8zM149.5 626.3h1.8v1.2h-1.8zM167.9 659.9h1.8v1.2h-1.8zM174.1 660.3h1.8v1.2h-1.8zM149.3 588.5h1.8v1.2h-1.8zM157.3 623.3h1.8v1.2h-1.8zM158.7 649.5h1.8v1.2h-1.8zM178.4 663.3h1.8v1.2h-1.8zM175.7 665.1h1.8v1.2h-1.8zM180.5 671.4h1.8v1.2h-1.8zM175.7 668.9h1.8v1.2h-1.8zM159.9 644.3h1.8v1.2h-1.8zM179.3 671.0h1.8v1.2h-1.8zM182.0 672.3h1.8v1.2h-1.8zM173.8 653.8h1.8v1.2h-1.8zM175.9 665.9h1.8v1.2h-1.8zM173.6 652.5h1.8v1.2h-1.8zM163.9 637.6h1.8v1.2h-1.8zM172.5 649.7h1.8v1.2h-1.8zM176.8 670.9h1.8v1.2h-1.8zM168.5 659.9h1.8v1.2h-1.8zM183.4 670.0h1.8v1.2h-1.8zM183.9 671.5h1.8v1.2h-1.8zM139.8 621.7h1.8v1.2h-1.8zM162.5 653.7h1.8v1.2h-1.8zM165.4 658.7h1.8v1.2h-1.8zM174.1 667.0h1.8v1.2h-1.8zM176.4 662.1h1.8v1.2h-1.8zM186.3 675.7h1.8v1.2h-1.8zM158.4 639.8h1.8v1.2h-1.8zM153.3 611.4h1.8v1.2h-1.8zM165.6 630.6h1.8v1.2h-1.8zM176.4 662.9h1.8v1.2h-1.8zM168.0 650.5h1.8v1.2h-1.8zM152.8 623.0h1.8v1.2h-1.8zM170.0 645.1h1.8v1.2h-1.8zM181.9 669.3h1.8v1.2h-1.8zM170.7 658.1h1.8v1.2h-1.8zM188.2 676.0h1.8v1.2h-1.8zM178.5 669.4h1.8v1.2h-1.8zM175.7 663.2h1.8v1.2h-1.8zM179.6 671.7h1.8v1.2h-1.8zM157.3 621.6h1.8v1.2h-1.8zM183.8 673.9h1.8v1.2h-1.8zM168.8 663.2h1.8v1.2h-1.8zM188.4 676.3h1.8v1.2h-1.8zM127.0 579.7h1.8v1.2h-1.8zM144.1 602.9h1.8v1.2h-1.8zM154.3 628.0h1.8v1.2h-1.8zM171.4 661.5h1.8v1.2h-1.8zM175.3 668.4h1.8v1.2h-1.8zM156.0 619.7h1.8v1.2h-1.8zM184.0 672.4h1.8v1.2h-1.8zM154.1 647.5h1.8v1.2h-1.8zM172.3 665.2h1.8v1.2h-1.8zM174.1 666.8h1.8v1.2h-1.8zM183.7 674.5h1.8v1.2h-1.8zM171.3 656.7h1.8v1.2h-1.8zM139.9 595.5h1.8v1.2h-1.8zM174.3 665.4h1.8v1.2h-1.8zM175.9 667.1h1.8v1.2h-1.8zM163.3 636.6h1.8v1.2h-1.8zM131.8 605.9h1.8v1.2h-1.8zM149.8 612.1h1.8v1.2h-1.8zM187.6 675.9h1.8v1.2h-1.8zM181.2 671.8h1.8v1.2h-1.8zM173.5 655.8h1.8v1.2h-1.8zM175.6 668.6h1.8v1.2h-1.8zM158.1 643.3h1.8v1.2h-1.8zM181.3 670.5h1.8v1.2h-1.8zM178.6 667.3h1.8v1.2h-1.8zM181.7 669.0h1.8v1.2h-1.8zM173.5 663.1h1.8v1.2h-1.8zM157.6 617.4h1.8v1.2h-1.8zM135.1 578.5h1.8v1.2h-1.8zM161.1 622.9h1.8v1.2h-1.8zM169.5 658.8h1.8v1.2h-1.8zM170.6 643.9h1.8v1.2h-1.8zM157.1 643.1h1.8v1.2h-1.8zM174.9 655.9h1.8v1.2h-1.8zM133.8 605.9h1.8v1.2h-1.8zM175.3 658.1h1.8v1.2h-1.8zM144.7 626.0h1.8v1.2h-1.8zM178.8 669.6h1.8v1.2h-1.8zM175.9 669.2h1.8v1.2h-1.8zM178.5 662.8h1.8v1.2h-1.8zM164.6 651.8h1.8v1.2h-1.8zM171.9 663.2h1.8v1.2h-1.8zM153.4 631.0h1.8v1.2h-1.8zM177.0 661.9h1.8v1.2h-1.8zM168.0 648.6h1.8v1.2h-1.8zM180.1 665.2h1.8v1.2h-1.8zM165.9 647.3h1.8v1.2h-1.8zM164.8 658.8h1.8v1.2h-1.8zM154.8 631.1h1.8v1.2h-1.8zM170.3 664.8h1.8v1.2h-1.8zM166.2 648.3h1.8v1.2h-1.8zM177.8 659.3h1.8v1.2h-1.8zM169.7 661.2h1.8v1.2h-1.8zM177.7 666.1h1.8v1.2h-1.8zM173.1 665.3h1.8v1.2h-1.8zM188.1 676.1h1.8v1.2h-1.8zM140.4 627.1h1.8v1.2h-1.8zM177.5 667.8h1.8v1.2h-1.8zM173.5 657.2h1.8v1.2h-1.8zM174.1 650.7h1.8v1.2h-1.8zM169.1 637.1h1.8v1.2h-1.8zM135.9 611.0h1.8v1.2h-1.8zM176.8 662.9h1.8v1.2h-1.8zM171.3 654.3h1.8v1.2h-1.8zM166.2 648.9h1.8v1.2h-1.8zM160.2 603.2h1.8v1.2h-1.8zM180.6 668.7h1.8v1.2h-1.8zM168.7 650.2h1.8v1.2h-1.8zM173.2 664.3h1.8v1.2h-1.8zM153.5 606.5h1.8v1.2h-1.8zM154.3 608.9h1.8v1.2h-1.8zM172.5 666.1h1.8v1.2h-1.8zM176.2 656.3h1.8v1.2h-1.8zM183.2 673.5h1.8v1.2h-1.8zM147.9 586.8h1.8v1.2h-1.8zM148.4 625.3h1.8v1.2h-1.8zM179.9 672.3h1.8v1.2h-1.8zM171.2 645.1h1.8v1.2h-1.8zM184.5 673.5h1.8v1.2h-1.8zM181.6 671.5h1.8v1.2h-1.8zM182.9 673.7h1.8v1.2h-1.8zM140.9 621.1h1.8v1.2h-1.8zM178.4 668.5h1.8v1.2h-1.8zM166.5 642.8h1.8v1.2h-1.8zM162.6 639.1h1.8v1.2h-1.8zM170.9 647.8h1.8v1.2h-1.8zM168.9 659.4h1.8v1.2h-1.8zM182.5 673.4h1.8v1.2h-1.8zM147.3 583.3h1.8v1.2h-1.8zM178.9 663.0h1.8v1.2h-1.8zM164.3 646.1h1.8v1.2h-1.8zM168.7 658.5h1.8v1.2h-1.8zM171.3 663.1h1.8v1.2h-1.8zM160.5 632.2h1.8v1.2h-1.8zM133.5 603.8h1.8v1.2h-1.8zM167.0 655.7h1.8v1.2h-1.8zM179.8 671.1h1.8v1.2h-1.8zM171.5 657.1h1.8v1.2h-1.8zM186.8 674.9h1.8v1.2h-1.8zM177.2 668.7h1.8v1.2h-1.8zM187.2 675.2h1.8v1.2h-1.8zM160.4 611.3h1.8v1.2h-1.8zM186.5 675.2h1.8v1.2h-1.8zM175.8 667.1h1.8v1.2h-1.8zM154.7 630.2h1.8v1.2h-1.8zM165.2 650.9h1.8v1.2h-1.8zM140.6 592.6h1.8v1.2h-1.8zM171.3 664.8h1.8v1.2h-1.8zM143.2 622.0h1.8v1.2h-1.8zM163.4 642.4h1.8v1.2h-1.8zM161.6 652.4h1.8v1.2h-1.8zM188.2 676.2h1.8v1.2h-1.8zM179.4 669.8h1.8v1.2h-1.8zM187.2 675.4h1.8v1.2h-1.8zM167.0 659.8h1.8v1.2h-1.8zM161.1 650.7h1.8v1.2h-1.8zM184.6 673.6h1.8v1.2h-1.8zM163.1 639.8h1.8v1.2h-1.8zM180.7 668.2h1.8v1.2h-1.8zM175.8 666.9h1.8v1.2h-1.8zM142.8 602.3h1.8v1.2h-1.8zM160.8 616.2h1.8v1.2h-1.8zM176.9 663.4h1.8v1.2h-1.8zM175.9 659.6h1.8v1.2h-1.8zM173.7 664.4h1.8v1.2h-1.8zM158.7 618.8h1.8v1.2h-1.8zM186.4 675.5h1.8v1.2h-1.8zM172.7 664.1h1.8v1.2h-1.8zM171.6 660.7h1.8v1.2h-1.8zM178.6 671.0h1.8v1.2h-1.8zM157.2 636.4h1.8v1.2h-1.8zM148.9 599.4h1.8v1.2h-1.8zM182.3 672.9h1.8v1.2h-1.8zM182.2 673.5h1.8v1.2h-1.8zM170.2 661.4h1.8v1.2h-1.8zM176.4 657.4h1.8v1.2h-1.8zM155.3 592.3h1.8v1.2h-1.8zM187.4 676.0h1.8v1.2h-1.8zM159.2 610.2h1.8v1.2h-1.8zM181.3 671.9h1.8v1.2h-1.8zM188.8 676.4h1.8v1.2h-1.8zM172.9 657.2h1.8v1.2h-1.8zM170.1 658.9h1.8v1.2h-1.8zM182.9 669.5h1.8v1.2h-1.8zM178.3 661.0h1.8v1.2h-1.8zM155.9 643.0h1.8v1.2h-1.8zM178.9 669.9h1.8v1.2h-1.8zM164.7 631.6h1.8v1.2h-1.8zM160.7 647.1h1.8v1.2h-1.8zM162.1 647.1h1.8v1.2h-1.8zM172.0 652.4h1.8v1.2h-1.8zM169.0 653.1h1.8v1.2h-1.8zM135.5 593.5h1.8v1.2h-1.8zM169.4 663.4h1.8v1.2h-1.8zM179.2 665.3h1.8v1.2h-1.8zM153.5 632.6h1.8v1.2h-1.8zM155.0 622.9h1.8v1.2h-1.8zM182.7 672.0h1.8v1.2h-1.8zM157.6 645.7h1.8v1.2h-1.8zM173.2 660.9h1.8v1.2h-1.8zM171.7 652.4h1.8v1.2h-1.8zM141.7 604.0h1.8v1.2h-1.8zM161.5 647.8h1.8v1.2h-1.8zM181.1 671.1h1.8v1.2h-1.8zM177.4 667.2h1.8v1.2h-1.8zM181.7 669.6h1.8v1.2h-1.8zM173.6 658.1h1.8v1.2h-1.8zM179.9 667.4h1.8v1.2h-1.8zM167.9 658.9h1.8v1.2h-1.8zM153.1 644.4h1.8v1.2h-1.8zM176.9 669.7h1.8v1.2h-1.8zM180.2 666.6h1.8v1.2h-1.8zM168.0 642.9h1.8v1.2h-1.8zM166.2 651.5h1.8v1.2h-1.8zM137.2 588.4h1.8v1.2h-1.8zM179.7 663.9h1.8v1.2h-1.8zM159.2 647.5h1.8v1.2h-1.8zM152.4 586.8h1.8v1.2h-1.8zM176.7 660.1h1.8v1.2h-1.8zM182.6 670.8h1.8v1.2h-1.8zM164.8 653.6h1.8v1.2h-1.8zM164.3 628.0h1.8v1.2h-1.8zM167.9 634.4h1.8v1.2h-1.8zM182.5 673.2h1.8v1.2h-1.8zM161.9 646.2h1.8v1.2h-1.8zM183.3 672.6h1.8v1.2h-1.8zM165.7 632.2h1.8v1.2h-1.8zM168.1 652.4h1.8v1.2h-1.8zM173.4 665.3h1.8v1.2h-1.8zM148.8 632.8h1.8v1.2h-1.8zM153.5 636.7h1.8v1.2h-1.8zM153.4 627.9h1.8v1.2h-1.8zM165.2 656.0h1.8v1.2h-1.8zM169.6 661.7h1.8v1.2h-1.8zM173.5 667.3h1.8v1.2h-1.8zM178.6 670.2h1.8v1.2h-1.8zM169.2 661.4h1.8v1.2h-1.8zM152.9 647.6h1.8v1.2h-1.8zM165.0 634.8h1.8v1.2h-1.8zM158.4 638.2h1.8v1.2h-1.8zM158.5 634.3h1.8v1.2h-1.8zM162.2 632.4h1.8v1.2h-1.8zM163.3 653.0h1.8v1.2h-1.8zM180.0 671.9h1.8v1.2h-1.8zM183.9 674.2h1.8v1.2h-1.8zM184.0 674.1h1.8v1.2h-1.8zM169.9 664.3h1.8v1.2h-1.8zM177.5 664.3h1.8v1.2h-1.8zM172.0 655.1h1.8v1.2h-1.8zM176.4 666.3h1.8v1.2h-1.8zM211.8 658.7h1.8v1.2h-1.8zM237.7 620.1h1.8v1.2h-1.8zM204.7 667.4h1.8v1.2h-1.8zM208.8 650.7h1.8v1.2h-1.8zM201.7 665.0h1.8v1.2h-1.8zM235.2 587.4h1.8v1.2h-1.8zM197.3 668.1h1.8v1.2h-1.8zM207.8 663.7h1.8v1.2h-1.8zM191.2 676.0h1.8v1.2h-1.8zM207.9 651.8h1.8v1.2h-1.8zM222.5 611.0h1.8v1.2h-1.8zM194.0 674.2h1.8v1.2h-1.8zM213.9 655.7h1.8v1.2h-1.8zM234.4 625.3h1.8v1.2h-1.8zM208.0 652.3h1.8v1.2h-1.8zM205.7 661.3h1.8v1.2h-1.8zM207.6 668.0h1.8v1.2h-1.8zM211.7 650.7h1.8v1.2h-1.8zM198.3 669.7h1.8v1.2h-1.8zM209.3 660.0h1.8v1.2h-1.8zM220.2 642.8h1.8v1.2h-1.8zM220.9 648.6h1.8v1.2h-1.8zM213.3 645.4h1.8v1.2h-1.8zM207.5 658.2h1.8v1.2h-1.8zM196.3 670.6h1.8v1.2h-1.8zM208.5 653.4h1.8v1.2h-1.8zM203.0 668.3h1.8v1.2h-1.8zM212.4 660.1h1.8v1.2h-1.8zM227.6 587.2h1.8v1.2h-1.8zM213.8 648.4h1.8v1.2h-1.8zM211.3 648.3h1.8v1.2h-1.8zM208.0 663.8h1.8v1.2h-1.8zM190.0 676.4h1.8v1.2h-1.8zM218.7 649.9h1.8v1.2h-1.8zM215.8 660.0h1.8v1.2h-1.8zM222.5 645.1h1.8v1.2h-1.8zM203.7 654.9h1.8v1.2h-1.8zM224.5 590.5h1.8v1.2h-1.8zM237.0 631.0h1.8v1.2h-1.8zM220.7 628.3h1.8v1.2h-1.8zM224.6 651.9h1.8v1.2h-1.8zM199.2 669.1h1.8v1.2h-1.8zM240.5 578.5h1.8v1.2h-1.8zM201.8 664.7h1.8v1.2h-1.8zM206.2 665.9h1.8v1.2h-1.8zM218.2 652.8h1.8v1.2h-1.8zM218.3 639.8h1.8v1.2h-1.8zM211.5 649.2h1.8v1.2h-1.8zM198.8 671.9h1.8v1.2h-1.8zM210.3 654.4h1.8v1.2h-1.8zM226.1 651.6h1.8v1.2h-1.8zM218.8 633.2h1.8v1.2h-1.8zM193.9 672.4h1.8v1.2h-1.8zM189.6 676.4h1.8v1.2h-1.8zM208.8 663.7h1.8v1.2h-1.8zM198.2 668.9h1.8v1.2h-1.8zM194.6 672.9h1.8v1.2h-1.8zM224.3 649.2h1.8v1.2h-1.8zM218.5 622.6h1.8v1.2h-1.8zM227.1 627.8h1.8v1.2h-1.8zM219.4 645.1h1.8v1.2h-1.8zM195.9 670.6h1.8v1.2h-1.8zM219.2 655.3h1.8v1.2h-1.8zM199.2 671.1h1.8v1.2h-1.8zM237.8 618.6h1.8v1.2h-1.8zM218.1 655.0h1.8v1.2h-1.8zM202.2 668.6h1.8v1.2h-1.8zM202.4 662.1h1.8v1.2h-1.8zM220.2 635.8h1.8v1.2h-1.8zM244.3 594.0h1.8v1.2h-1.8zM201.8 669.3h1.8v1.2h-1.8zM224.6 640.5h1.8v1.2h-1.8zM214.3 658.4h1.8v1.2h-1.8zM193.2 674.4h1.8v1.2h-1.8zM219.3 655.0h1.8v1.2h-1.8zM235.1 594.3h1.8v1.2h-1.8zM205.7 657.1h1.8v1.2h-1.8zM205.3 662.6h1.8v1.2h-1.8zM220.5 628.4h1.8v1.2h-1.8zM221.4 638.5h1.8v1.2h-1.8zM205.3 663.3h1.8v1.2h-1.8zM211.7 657.5h1.8v1.2h-1.8zM233.4 634.3h1.8v1.2h-1.8zM210.0 663.8h1.8v1.2h-1.8zM203.3 657.0h1.8v1.2h-1.8zM194.0 673.2h1.8v1.2h-1.8zM219.8 649.9h1.8v1.2h-1.8zM227.2 621.4h1.8v1.2h-1.8zM217.9 651.7h1.8v1.2h-1.8zM209.9 654.6h1.8v1.2h-1.8zM205.6 668.0h1.8v1.2h-1.8zM226.5 595.4h1.8v1.2h-1.8zM202.2 670.6h1.8v1.2h-1.8zM197.5 673.6h1.8v1.2h-1.8zM248.9 593.4h1.8v1.2h-1.8zM205.8 654.5h1.8v1.2h-1.8zM233.2 628.1h1.8v1.2h-1.8zM224.8 595.0h1.8v1.2h-1.8zM249.1 579.8h1.8v1.2h-1.8zM219.3 649.8h1.8v1.2h-1.8zM196.9 673.1h1.8v1.2h-1.8zM190.0 676.3h1.8v1.2h-1.8zM196.6 673.0h1.8v1.2h-1.8zM204.3 668.2h1.8v1.2h-1.8zM209.9 651.9h1.8v1.2h-1.8zM241.0 585.4h1.8v1.2h-1.8zM208.0 658.2h1.8v1.2h-1.8zM212.9 658.5h1.8v1.2h-1.8zM207.4 654.9h1.8v1.2h-1.8zM206.6 668.1h1.8v1.2h-1.8zM192.3 675.8h1.8v1.2h-1.8zM209.1 644.3h1.8v1.2h-1.8zM209.0 651.6h1.8v1.2h-1.8zM215.9 647.7h1.8v1.2h-1.8zM209.3 658.4h1.8v1.2h-1.8zM201.6 657.4h1.8v1.2h-1.8zM218.1 656.2h1.8v1.2h-1.8zM223.9 650.8h1.8v1.2h-1.8zM235.1 627.4h1.8v1.2h-1.8zM205.9 654.1h1.8v1.2h-1.8zM195.0 673.9h1.8v1.2h-1.8zM216.6 622.5h1.8v1.2h-1.8zM205.5 664.9h1.8v1.2h-1.8zM208.1 647.2h1.8v1.2h-1.8zM206.3 657.2h1.8v1.2h-1.8zM207.1 654.5h1.8v1.2h-1.8zM203.2 667.2h1.8v1.2h-1.8zM208.8 657.6h1.8v1.2h-1.8zM197.9 666.0h1.8v1.2h-1.8zM193.3 675.1h1.8v1.2h-1.8zM210.9 655.5h1.8v1.2h-1.8zM224.2 624.9h1.8v1.2h-1.8zM207.5 662.6h1.8v1.2h-1.8zM235.7 579.8h1.8v1.2h-1.8zM220.9 646.8h1.8v1.2h-1.8zM218.1 654.3h1.8v1.2h-1.8zM199.7 663.6h1.8v1.2h-1.8zM209.4 654.1h1.8v1.2h-1.8zM200.0 667.9h1.8v1.2h-1.8zM233.0 615.4h1.8v1.2h-1.8zM204.9 656.7h1.8v1.2h-1.8zM193.2 674.4h1.8v1.2h-1.8zM214.2 622.1h1.8v1.2h-1.8zM192.8 674.3h1.8v1.2h-1.8zM242.1 592.8h1.8v1.2h-1.8zM211.1 639.1h1.8v1.2h-1.8zM215.0 641.3h1.8v1.2h-1.8zM213.2 645.4h1.8v1.2h-1.8zM220.8 634.5h1.8v1.2h-1.8zM225.2 602.2h1.8v1.2h-1.8zM213.8 648.4h1.8v1.2h-1.8zM194.4 672.1h1.8v1.2h-1.8zM194.3 674.7h1.8v1.2h-1.8zM221.1 637.4h1.8v1.2h-1.8zM199.6 667.0h1.8v1.2h-1.8zM192.8 675.3h1.8v1.2h-1.8zM209.1 654.8h1.8v1.2h-1.8zM200.6 666.6h1.8v1.2h-1.8zM204.9 660.5h1.8v1.2h-1.8zM200.8 670.7h1.8v1.2h-1.8zM199.0 672.0h1.8v1.2h-1.8zM213.9 644.9h1.8v1.2h-1.8zM194.7 673.7h1.8v1.2h-1.8zM196.1 673.8h1.8v1.2h-1.8zM212.0 656.0h1.8v1.2h-1.8zM219.4 656.2h1.8v1.2h-1.8zM231.6 621.0h1.8v1.2h-1.8zM199.3 672.0h1.8v1.2h-1.8zM212.1 652.3h1.8v1.2h-1.8zM199.3 665.2h1.8v1.2h-1.8zM196.7 670.0h1.8v1.2h-1.8zM196.4 674.0h1.8v1.2h-1.8zM232.6 605.3h1.8v1.2h-1.8zM192.9 675.2h1.8v1.2h-1.8zM222.5 626.5h1.8v1.2h-1.8zM193.2 675.5h1.8v1.2h-1.8zM215.7 646.7h1.8v1.2h-1.8zM190.9 676.1h1.8v1.2h-1.8zM200.2 669.4h1.8v1.2h-1.8zM214.8 641.7h1.8v1.2h-1.8zM215.4 636.5h1.8v1.2h-1.8zM228.0 602.2h1.8v1.2h-1.8zM217.8 631.9h1.8v1.2h-1.8zM205.1 654.5h1.8v1.2h-1.8zM193.0 673.8h1.8v1.2h-1.8zM214.3 650.8h1.8v1.2h-1.8zM212.5 658.8h1.8v1.2h-1.8zM241.5 608.7h1.8v1.2h-1.8zM194.2 673.7h1.8v1.2h-1.8zM205.2 657.9h1.8v1.2h-1.8zM202.2 666.2h1.8v1.2h-1.8zM212.6 663.6h1.8v1.2h-1.8zM204.9 666.7h1.8v1.2h-1.8zM196.9 669.9h1.8v1.2h-1.8zM203.1 667.4h1.8v1.2h-1.8zM209.3 659.7h1.8v1.2h-1.8zM210.2 647.1h1.8v1.2h-1.8zM207.9 649.5h1.8v1.2h-1.8zM193.4 674.6h1.8v1.2h-1.8zM218.5 653.2h1.8v1.2h-1.8zM203.8 663.0h1.8v1.2h-1.8zM214.9 626.9h1.8v1.2h-1.8zM201.1 663.4h1.8v1.2h-1.8zM190.2 676.3h1.8v1.2h-1.8zM209.5 664.3h1.8v1.2h-1.8zM237.9 616.9h1.8v1.2h-1.8zM198.6 669.3h1.8v1.2h-1.8zM212.2 652.4h1.8v1.2h-1.8zM223.7 640.8h1.8v1.2h-1.8zM190.8 676.0h1.8v1.2h-1.8zM214.9 658.0h1.8v1.2h-1.8zM204.1 667.9h1.8v1.2h-1.8zM222.9 616.9h1.8v1.2h-1.8zM203.2 653.6h1.8v1.2h-1.8zM213.0 655.7h1.8v1.2h-1.8zM206.4 649.0h1.8v1.2h-1.8zM221.0 619.5h1.8v1.2h-1.8zM212.7 643.9h1.8v1.2h-1.8zM233.9 599.0h1.8v1.2h-1.8zM212.7 656.8h1.8v1.2h-1.8zM230.2 625.7h1.8v1.2h-1.8zM206.5 645.6h1.8v1.2h-1.8zM204.0 668.0h1.8v1.2h-1.8zM219.4 654.2h1.8v1.2h-1.8zM199.5 668.2h1.8v1.2h-1.8zM195.2 674.2h1.8v1.2h-1.8zM199.5 664.6h1.8v1.2h-1.8zM195.5 672.3h1.8v1.2h-1.8zM217.9 618.1h1.8v1.2h-1.8zM212.9 654.3h1.8v1.2h-1.8zM201.4 665.8h1.8v1.2h-1.8zM210.2 643.7h1.8v1.2h-1.8zM215.3 625.2h1.8v1.2h-1.8zM210.5 645.1h1.8v1.2h-1.8zM204.9 662.0h1.8v1.2h-1.8zM203.6 667.0h1.8v1.2h-1.8zM218.8 611.2h1.8v1.2h-1.8zM226.7 590.3h1.8v1.2h-1.8zM203.5 668.1h1.8v1.2h-1.8zM202.6 665.0h1.8v1.2h-1.8zM215.4 620.0h1.8v1.2h-1.8zM199.3 666.3h1.8v1.2h-1.8zM221.0 637.5h1.8v1.2h-1.8zM197.8 668.9h1.8v1.2h-1.8zM213.3 643.6h1.8v1.2h-1.8zM208.7 655.9h1.8v1.2h-1.8zM208.3 667.1h1.8v1.2h-1.8zM232.6 621.6h1.8v1.2h-1.8zM210.2 652.0h1.8v1.2h-1.8zM218.8 655.9h1.8v1.2h-1.8zM203.4 665.7h1.8v1.2h-1.8zM215.8 639.6h1.8v1.2h-1.8zM211.3 663.0h1.8v1.2h-1.8zM222.6 631.4h1.8v1.2h-1.8zM224.5 617.0h1.8v1.2h-1.8zM204.8 658.1h1.8v1.2h-1.8zM227.0 644.0h1.8v1.2h-1.8zM198.3 671.9h1.8v1.2h-1.8zM239.7 589.1h1.8v1.2h-1.8zM231.4 638.3h1.8v1.2h-1.8zM193.0 675.3h1.8v1.2h-1.8zM220.3 611.0h1.8v1.2h-1.8zM228.7 632.4h1.8v1.2h-1.8zM204.3 656.4h1.8v1.2h-1.8zM196.1 671.6h1.8v1.2h-1.8zM230.6 644.2h1.8v1.2h-1.8zM224.4 616.4h1.8v1.2h-1.8zM216.3 647.0h1.8v1.2h-1.8zM211.7 654.0h1.8v1.2h-1.8zM205.8 665.8h1.8v1.2h-1.8zM195.2 672.6h1.8v1.2h-1.8zM200.9 671.2h1.8v1.2h-1.8zM208.6 661.7h1.8v1.2h-1.8zM195.1 673.7h1.8v1.2h-1.8zM211.9 657.5h1.8v1.2h-1.8zM193.8 674.3h1.8v1.2h-1.8zM198.5 672.9h1.8v1.2h-1.8zM195.0 672.0h1.8v1.2h-1.8zM216.4 653.3h1.8v1.2h-1.8zM194.9 673.0h1.8v1.2h-1.8zM198.1 673.1h1.8v1.2h-1.8zM201.7 663.2h1.8v1.2h-1.8zM215.6 634.9h1.8v1.2h-1.8zM221.2 642.1h1.8v1.2h-1.8zM206.8 662.9h1.8v1.2h-1.8zM203.4 661.9h1.8v1.2h-1.8zM210.6 662.8h1.8v1.2h-1.8zM203.2 664.1h1.8v1.2h-1.8zM214.9 635.1h1.8v1.2h-1.8zM209.2 643.9h1.8v1.2h-1.8zM216.4 645.1h1.8v1.2h-1.8zM192.5 674.3h1.8v1.2h-1.8zM216.9 641.8h1.8v1.2h-1.8zM215.4 628.4h1.8v1.2h-1.8zM209.0 654.3h1.8v1.2h-1.8zM219.4 633.6h1.8v1.2h-1.8zM197.7 672.4h1.8v1.2h-1.8zM206.6 662.8h1.8v1.2h-1.8zM197.3 669.0h1.8v1.2h-1.8zM210.0 657.5h1.8v1.2h-1.8zM205.4 664.8h1.8v1.2h-1.8zM210.8 656.8h1.8v1.2h-1.8zM197.6 673.3h1.8v1.2h-1.8zM192.2 675.2h1.8v1.2h-1.8zM200.6 664.7h1.8v1.2h-1.8zM246.3 592.3h1.8v1.2h-1.8zM224.6 639.5h1.8v1.2h-1.8zM243.9 609.4h1.8v1.2h-1.8zM199.5 670.4h1.8v1.2h-1.8zM208.7 655.1h1.8v1.2h-1.8zM216.8 638.3h1.8v1.2h-1.8zM210.4 651.9h1.8v1.2h-1.8zM195.7 673.3h1.8v1.2h-1.8zM207.4 650.9h1.8v1.2h-1.8zM197.5 672.7h1.8v1.2h-1.8zM219.5 649.3h1.8v1.2h-1.8zM204.1 660.3h1.8v1.2h-1.8zM190.5 676.3h1.8v1.2h-1.8zM219.2 641.0h1.8v1.2h-1.8zM218.3 655.1h1.8v1.2h-1.8zM221.8 641.2h1.8v1.2h-1.8zM204.4 669.1h1.8v1.2h-1.8zM218.5 618.8h1.8v1.2h-1.8zM225.5 626.6h1.8v1.2h-1.8zM195.3 672.9h1.8v1.2h-1.8zM213.3 641.1h1.8v1.2h-1.8zM220.9 644.4h1.8v1.2h-1.8zM210.2 646.8h1.8v1.2h-1.8zM200.4 661.3h1.8v1.2h-1.8zM254.1 589.5h1.8v1.2h-1.8zM205.6 664.7h1.8v1.2h-1.8zM212.0 652.9h1.8v1.2h-1.8zM194.2 674.0h1.8v1.2h-1.8zM205.1 664.1h1.8v1.2h-1.8zM223.4 643.5h1.8v1.2h-1.8zM201.2 666.9h1.8v1.2h-1.8zM235.1 588.0h1.8v1.2h-1.8zM206.7 666.9h1.8v1.2h-1.8zM195.4 672.4h1.8v1.2h-1.8zM245.0 590.7h1.8v1.2h-1.8zM219.2 619.2h1.8v1.2h-1.8zM193.9 674.5h1.8v1.2h-1.8zM209.1 649.1h1.8v1.2h-1.8zM202.7 663.5h1.8v1.2h-1.8zM205.4 665.8h1.8v1.2h-1.8zM203.8 661.9h1.8v1.2h-1.8zM251.1 611.3h1.8v1.2h-1.8zM200.7 665.9h1.8v1.2h-1.8zM202.7 657.4h1.8v1.2h-1.8zM217.5 653.1h1.8v1.2h-1.8zM219.9 639.4h1.8v1.2h-1.8zM216.5 645.0h1.8v1.2h-1.8zM208.2 660.3h1.8v1.2h-1.8zM194.4 674.6h1.8v1.2h-1.8zM220.6 624.3h1.8v1.2h-1.8zM207.7 657.3h1.8v1.2h-1.8zM225.0 613.9h1.8v1.2h-1.8zM213.9 653.0h1.8v1.2h-1.8zM237.2 634.4h1.8v1.2h-1.8zM210.2 655.3h1.8v1.2h-1.8zM205.4 663.6h1.8v1.2h-1.8zM214.3 625.5h1.8v1.2h-1.8zM212.4 647.5h1.8v1.2h-1.8zM204.4 668.2h1.8v1.2h-1.8zM194.7 670.6h1.8v1.2h-1.8zM206.9 654.3h1.8v1.2h-1.8zM233.7 638.8h1.8v1.2h-1.8zM212.4 653.7h1.8v1.2h-1.8zM190.8 676.2h1.8v1.2h-1.8zM211.5 661.3h1.8v1.2h-1.8zM199.3 665.8h1.8v1.2h-1.8zM196.4 671.1h1.8v1.2h-1.8zM215.8 645.3h1.8v1.2h-1.8zM238.4 609.5h1.8v1.2h-1.8zM193.8 673.8h1.8v1.2h-1.8zM213.5 656.1h1.8v1.2h-1.8zM202.4 666.2h1.8v1.2h-1.8zM200.5 669.7h1.8v1.2h-1.8zM206.0 666.9h1.8v1.2h-1.8zM201.1 670.5h1.8v1.2h-1.8zM199.0 666.1h1.8v1.2h-1.8zM205.9 662.2h1.8v1.2h-1.8zM194.5 673.7h1.8v1.2h-1.8zM214.8 643.6h1.8v1.2h-1.8zM203.9 667.7h1.8v1.2h-1.8zM227.5 640.9h1.8v1.2h-1.8zM212.7 635.4h1.8v1.2h-1.8zM220.6 633.3h1.8v1.2h-1.8zM212.4 659.4h1.8v1.2h-1.8zM204.7 651.7h1.8v1.2h-1.8zM223.6 624.3h1.8v1.2h-1.8zM223.9 612.5h1.8v1.2h-1.8zM197.7 669.4h1.8v1.2h-1.8zM190.9 676.1h1.8v1.2h-1.8zM196.6 671.2h1.8v1.2h-1.8zM202.2 665.3h1.8v1.2h-1.8zM227.2 637.3h1.8v1.2h-1.8zM242.6 614.2h1.8v1.2h-1.8zM237.3 625.3h1.8v1.2h-1.8zM195.5 672.1h1.8v1.2h-1.8zM197.3 673.3h1.8v1.2h-1.8zM195.7 674.2h1.8v1.2h-1.8zM204.0 660.5h1.8v1.2h-1.8zM192.0 675.8h1.8v1.2h-1.8zM194.1 674.5h1.8v1.2h-1.8zM215.2 660.6h1.8v1.2h-1.8zM215.2 643.9h1.8v1.2h-1.8zM215.2 629.4h1.8v1.2h-1.8zM198.8 671.2h1.8v1.2h-1.8zM225.7 605.4h1.8v1.2h-1.8zM241.1 603.5h1.8v1.2h-1.8zM197.0 672.9h1.8v1.2h-1.8zM230.7 626.6h1.8v1.2h-1.8zM243.3 609.5h1.8v1.2h-1.8zM202.5 670.2h1.8v1.2h-1.8zM238.4 577.9h1.8v1.2h-1.8zM214.2 629.0h1.8v1.2h-1.8zM197.7 671.2h1.8v1.2h-1.8zM221.3 640.3h1.8v1.2h-1.8zM210.3 647.4h1.8v1.2h-1.8zM197.9 670.6h1.8v1.2h-1.8zM207.7 664.8h1.8v1.2h-1.8zM203.2 659.2h1.8v1.2h-1.8zM198.8 670.2h1.8v1.2h-1.8zM231.3 637.7h1.8v1.2h-1.8zM210.1 645.1h1.8v1.2h-1.8zM194.5 672.9h1.8v1.2h-1.8zM214.0 643.2h1.8v1.2h-1.8zM227.5 580.1h1.8v1.2h-1.8zM218.7 626.6h1.8v1.2h-1.8zM213.8 641.5h1.8v1.2h-1.8zM219.1 653.0h1.8v1.2h-1.8zM221.9 631.4h1.8v1.2h-1.8zM218.2 651.8h1.8v1.2h-1.8zM227.1 631.6h1.8v1.2h-1.8zM198.1 672.0h1.8v1.2h-1.8zM212.5 649.2h1.8v1.2h-1.8zM194.4 673.9h1.8v1.2h-1.8zM204.1 662.9h1.8v1.2h-1.8zM229.4 596.1h1.8v1.2h-1.8zM207.9 665.1h1.8v1.2h-1.8zM220.0 645.3h1.8v1.2h-1.8zM230.2 641.4h1.8v1.2h-1.8zM199.6 670.3h1.8v1.2h-1.8zM217.2 638.0h1.8v1.2h-1.8zM202.9 666.9h1.8v1.2h-1.8zM222.9 638.2h1.8v1.2h-1.8zM200.3 668.9h1.8v1.2h-1.8zM224.0 620.8h1.8v1.2h-1.8zM217.8 654.1h1.8v1.2h-1.8zM232.4 620.2h1.8v1.2h-1.8zM224.4 643.6h1.8v1.2h-1.8zM217.4 643.5h1.8v1.2h-1.8zM196.4 670.5h1.8v1.2h-1.8zM202.7 661.2h1.8v1.2h-1.8zM212.0 657.4h1.8v1.2h-1.8zM213.9 658.9h1.8v1.2h-1.8zM189.8 676.4h1.8v1.2h-1.8zM198.1 671.8h1.8v1.2h-1.8zM199.0 666.7h1.8v1.2h-1.8zM230.3 592.9h1.8v1.2h-1.8zM213.2 657.3h1.8v1.2h-1.8zM209.0 659.7h1.8v1.2h-1.8zM213.2 660.2h1.8v1.2h-1.8zM210.3 644.0h1.8v1.2h-1.8zM210.8 653.7h1.8v1.2h-1.8zM231.3 622.3h1.8v1.2h-1.8zM198.5 667.5h1.8v1.2h-1.8zM207.8 649.3h1.8v1.2h-1.8zM206.6 666.1h1.8v1.2h-1.8zM222.1 635.5h1.8v1.2h-1.8zM247.2 600.2h1.8v1.2h-1.8zM228.7 628.0h1.8v1.2h-1.8zM208.2 650.0h1.8v1.2h-1.8zM200.6 659.9h1.8v1.2h-1.8zM208.3 658.2h1.8v1.2h-1.8zM236.1 586.8h1.8v1.2h-1.8zM196.4 669.6h1.8v1.2h-1.8zM223.6 630.4h1.8v1.2h-1.8zM212.6 660.7h1.8v1.2h-1.8zM202.8 658.3h1.8v1.2h-1.8zM190.7 676.2h1.8v1.2h-1.8zM229.2 644.2h1.8v1.2h-1.8zM197.4 671.3h1.8v1.2h-1.8zM222.2 642.8h1.8v1.2h-1.8zM196.1 671.8h1.8v1.2h-1.8zM199.6 670.1h1.8v1.2h-1.8zM192.5 675.1h1.8v1.2h-1.8zM234.0 607.7h1.8v1.2h-1.8zM197.9 666.6h1.8v1.2h-1.8zM211.1 656.1h1.8v1.2h-1.8zM248.0 601.7h1.8v1.2h-1.8zM210.9 657.3h1.8v1.2h-1.8zM199.6 669.6h1.8v1.2h-1.8zM202.9 667.3h1.8v1.2h-1.8zM219.7 605.2h1.8v1.2h-1.8zM242.4 598.2h1.8v1.2h-1.8zM216.8 637.8h1.8v1.2h-1.8zM211.8 647.3h1.8v1.2h-1.8zM208.2 661.0h1.8v1.2h-1.8zM231.5 589.3h1.8v1.2h-1.8zM213.1 648.5h1.8v1.2h-1.8zM220.3 652.4h1.8v1.2h-1.8zM198.1 665.2h1.8v1.2h-1.8zM210.6 642.4h1.8v1.2h-1.8zM208.7 660.2h1.8v1.2h-1.8zM220.9 638.1h1.8v1.2h-1.8zM213.2 660.9h1.8v1.2h-1.8zM196.5 673.4h1.8v1.2h-1.8zM202.2 668.0h1.8v1.2h-1.8zM191.4 675.6h1.8v1.2h-1.8zM195.3 670.8h1.8v1.2h-1.8zM224.5 636.6h1.8v1.2h-1.8zM214.3 649.9h1.8v1.2h-1.8zM235.0 593.5h1.8v1.2h-1.8zM218.8 639.8h1.8v1.2h-1.8zM208.1 644.5h1.8v1.2h-1.8zM201.4 664.4h1.8v1.2h-1.8zM200.0 668.7h1.8v1.2h-1.8zM207.8 657.9h1.8v1.2h-1.8zM195.2 672.1h1.8v1.2h-1.8zM222.1 612.4h1.8v1.2h-1.8zM214.8 641.7h1.8v1.2h-1.8zM213.3 635.2h1.8v1.2h-1.8zM203.4 659.3h1.8v1.2h-1.8zM215.1 653.0h1.8v1.2h-1.8zM206.5 660.3h1.8v1.2h-1.8zM201.0 671.6h1.8v1.2h-1.8zM220.8 642.6h1.8v1.2h-1.8zM202.9 666.9h1.8v1.2h-1.8zM191.6 675.9h1.8v1.2h-1.8zM215.1 648.2h1.8v1.2h-1.8zM198.8 666.4h1.8v1.2h-1.8zM203.5 668.3h1.8v1.2h-1.8zM200.8 669.3h1.8v1.2h-1.8zM209.9 654.3h1.8v1.2h-1.8zM221.0 648.8h1.8v1.2h-1.8zM211.1 653.8h1.8v1.2h-1.8zM211.6 632.9h1.8v1.2h-1.8zM197.0 668.8h1.8v1.2h-1.8zM205.3 652.8h1.8v1.2h-1.8zM223.0 600.1h1.8v1.2h-1.8zM206.9 650.4h1.8v1.2h-1.8zM210.2 662.1h1.8v1.2h-1.8zM198.6 668.0h1.8v1.2h-1.8zM201.9 663.5h1.8v1.2h-1.8zM227.4 646.5h1.8v1.2h-1.8zM206.2 660.6h1.8v1.2h-1.8zM203.1 664.1h1.8v1.2h-1.8zM214.9 652.3h1.8v1.2h-1.8zM199.6 667.8h1.8v1.2h-1.8zM231.9 597.5h1.8v1.2h-1.8zM242.3 613.8h1.8v1.2h-1.8zM196.8 670.7h1.8v1.2h-1.8zM199.7 669.5h1.8v1.2h-1.8zM213.4 658.4h1.8v1.2h-1.8zM245.0 593.2h1.8v1.2h-1.8zM216.5 633.9h1.8v1.2h-1.8zM247.9 583.1h1.8v1.2h-1.8zM217.5 650.6h1.8v1.2h-1.8zM224.7 639.9h1.8v1.2h-1.8zM201.6 664.1h1.8v1.2h-1.8zM200.9 667.0h1.8v1.2h-1.8zM211.0 655.2h1.8v1.2h-1.8zM214.9 655.5h1.8v1.2h-1.8zM195.9 673.8h1.8v1.2h-1.8zM206.4 659.3h1.8v1.2h-1.8zM195.3 672.8h1.8v1.2h-1.8zM197.5 669.2h1.8v1.2h-1.8zM221.6 608.1h1.8v1.2h-1.8zM212.8 634.4h1.8v1.2h-1.8zM194.1 673.5h1.8v1.2h-1.8zM192.3 674.3h1.8v1.2h-1.8zM206.4 656.6h1.8v1.2h-1.8zM214.5 644.6h1.8v1.2h-1.8zM230.0 608.6h1.8v1.2h-1.8zM211.8 657.2h1.8v1.2h-1.8zM231.3 630.3h1.8v1.2h-1.8zM206.6 660.6h1.8v1.2h-1.8zM197.0 673.4h1.8v1.2h-1.8zM192.4 675.4h1.8v1.2h-1.8zM211.6 650.2h1.8v1.2h-1.8zM197.4 667.9h1.8v1.2h-1.8zM193.2 673.9h1.8v1.2h-1.8zM232.5 618.4h1.8v1.2h-1.8zM211.4 642.3h1.8v1.2h-1.8zM191.3 675.8h1.8v1.2h-1.8zM225.3 621.1h1.8v1.2h-1.8zM192.9 674.5h1.8v1.2h-1.8zM239.8 614.7h1.8v1.2h-1.8zM201.1 665.4h1.8v1.2h-1.8zM203.5 660.4h1.8v1.2h-1.8zM197.0 668.0h1.8v1.2h-1.8zM221.5 629.5h1.8v1.2h-1.8zM206.6 655.6h1.8v1.2h-1.8zM208.3 646.2h1.8v1.2h-1.8zM232.8 607.7h1.8v1.2h-1.8zM190.2 676.2h1.8v1.2h-1.8zM219.6 652.5h1.8v1.2h-1.8zM215.5 635.5h1.8v1.2h-1.8zM236.6 631.2h1.8v1.2h-1.8zM196.0 673.8h1.8v1.2h-1.8zM222.5 631.0h1.8v1.2h-1.8zM223.6 632.0h1.8v1.2h-1.8zM216.4 643.2h1.8v1.2h-1.8zM205.9 666.0h1.8v1.2h-1.8zM217.2 642.3h1.8v1.2h-1.8zM197.9 667.1h1.8v1.2h-1.8zM193.5 674.9h1.8v1.2h-1.8zM228.2 637.0h1.8v1.2h-1.8zM209.8 651.6h1.8v1.2h-1.8zM210.4 646.9h1.8v1.2h-1.8zM227.2 631.9h1.8v1.2h-1.8zM203.3 669.7h1.8v1.2h-1.8zM205.1 659.3h1.8v1.2h-1.8zM203.4 662.0h1.8v1.2h-1.8zM195.0 673.3h1.8v1.2h-1.8zM223.3 645.7h1.8v1.2h-1.8zM202.7 669.6h1.8v1.2h-1.8zM225.4 612.5h1.8v1.2h-1.8zM208.0 663.4h1.8v1.2h-1.8zM197.2 672.9h1.8v1.2h-1.8zM216.3 642.6h1.8v1.2h-1.8zM242.4 588.6h1.8v1.2h-1.8zM201.4 664.5h1.8v1.2h-1.8zM199.3 672.4h1.8v1.2h-1.8zM198.0 673.2h1.8v1.2h-1.8zM207.7 655.9h1.8v1.2h-1.8zM208.3 658.7h1.8v1.2h-1.8zM198.2 670.5h1.8v1.2h-1.8zM233.2 601.1h1.8v1.2h-1.8zM218.6 654.2h1.8v1.2h-1.8zM189.8 676.4h1.8v1.2h-1.8zM214.2 633.8h1.8v1.2h-1.8zM191.0 676.0h1.8v1.2h-1.8zM214.7 659.4h1.8v1.2h-1.8zM190.8 675.7h1.8v1.2h-1.8zM191.5 675.2h1.8v1.2h-1.8zM201.8 666.8h1.8v1.2h-1.8zM204.7 648.9h1.8v1.2h-1.8zM197.7 670.5h1.8v1.2h-1.8zM230.8 626.0h1.8v1.2h-1.8zM227.2 592.9h1.8v1.2h-1.8zM204.5 667.6h1.8v1.2h-1.8zM189.9 676.4h1.8v1.2h-1.8zM209.7 645.4h1.8v1.2h-1.8zM213.4 660.3h1.8v1.2h-1.8zM223.8 638.0h1.8v1.2h-1.8zM206.1 661.4h1.8v1.2h-1.8zM198.8 671.4h1.8v1.2h-1.8zM193.0 674.6h1.8v1.2h-1.8zM226.8 610.8h1.8v1.2h-1.8zM216.6 639.6h1.8v1.2h-1.8zM192.0 674.3h1.8v1.2h-1.8zM206.9 666.6h1.8v1.2h-1.8zM201.6 661.2h1.8v1.2h-1.8zM211.7 660.6h1.8v1.2h-1.8zM224.7 602.0h1.8v1.2h-1.8zM227.5 582.0h1.8v1.2h-1.8zM199.0 672.3h1.8v1.2h-1.8zM202.0 667.3h1.8v1.2h-1.8zM216.1 653.4h1.8v1.2h-1.8zM199.4 668.0h1.8v1.2h-1.8zM191.4 676.0h1.8v1.2h-1.8zM199.9 672.2h1.8v1.2h-1.8zM225.8 579.9h1.8v1.2h-1.8zM205.3 667.3h1.8v1.2h-1.8zM214.5 655.3h1.8v1.2h-1.8zM202.7 656.4h1.8v1.2h-1.8zM196.9 672.5h1.8v1.2h-1.8zM200.9 667.1h1.8v1.2h-1.8zM225.4 631.4h1.8v1.2h-1.8zM213.7 644.0h1.8v1.2h-1.8zM197.3 670.7h1.8v1.2h-1.8zM192.9 674.9h1.8v1.2h-1.8zM227.9 636.3h1.8v1.2h-1.8zM221.0 651.9h1.8v1.2h-1.8zM211.6 646.3h1.8v1.2h-1.8zM226.0 646.6h1.8v1.2h-1.8zM217.2 642.3h1.8v1.2h-1.8zM191.4 675.3h1.8v1.2h-1.8zM216.8 626.5h1.8v1.2h-1.8zM228.6 618.2h1.8v1.2h-1.8zM216.7 620.0h1.8v1.2h-1.8zM197.0 669.3h1.8v1.2h-1.8zM217.3 640.4h1.8v1.2h-1.8zM226.6 592.9h1.8v1.2h-1.8zM220.8 625.4h1.8v1.2h-1.8zM202.8 668.5h1.8v1.2h-1.8zM230.8 619.1h1.8v1.2h-1.8zM200.0 670.3h1.8v1.2h-1.8zM224.1 626.3h1.8v1.2h-1.8zM231.1 593.2h1.8v1.2h-1.8zM195.6 674.5h1.8v1.2h-1.8zM201.5 662.8h1.8v1.2h-1.8zM195.1 674.3h1.8v1.2h-1.8zM198.0 671.1h1.8v1.2h-1.8zM212.5 647.4h1.8v1.2h-1.8zM209.2 655.0h1.8v1.2h-1.8zM207.2 665.5h1.8v1.2h-1.8zM210.9 634.7h1.8v1.2h-1.8zM244.1 617.8h1.8v1.2h-1.8zM214.7 633.2h1.8v1.2h-1.8zM197.0 672.2h1.8v1.2h-1.8zM226.1 593.5h1.8v1.2h-1.8zM234.4 606.0h1.8v1.2h-1.8zM204.1 666.9h1.8v1.2h-1.8zM225.0 636.1h1.8v1.2h-1.8zM206.0 664.1h1.8v1.2h-1.8zM204.4 669.3h1.8v1.2h-1.8zM216.1 646.8h1.8v1.2h-1.8zM229.3 634.8h1.8v1.2h-1.8zM197.5 668.7h1.8v1.2h-1.8zM222.0 653.0h1.8v1.2h-1.8zM199.5 670.2h1.8v1.2h-1.8zM215.9 622.6h1.8v1.2h-1.8zM224.7 642.7h1.8v1.2h-1.8zM217.0 641.7h1.8v1.2h-1.8zM207.7 656.7h1.8v1.2h-1.8zM196.7 672.2h1.8v1.2h-1.8zM243.0 608.8h1.8v1.2h-1.8zM212.4 659.4h1.8v1.2h-1.8zM232.8 617.7h1.8v1.2h-1.8zM196.2 673.6h1.8v1.2h-1.8zM223.5 617.7h1.8v1.2h-1.8zM234.1 578.5h1.8v1.2h-1.8zM200.5 670.0h1.8v1.2h-1.8zM209.4 664.2h1.8v1.2h-1.8zM231.4 635.2h1.8v1.2h-1.8zM229.6 627.7h1.8v1.2h-1.8zM192.2 674.9h1.8v1.2h-1.8zM224.8 622.3h1.8v1.2h-1.8zM249.4 598.0h1.8v1.2h-1.8zM198.9 668.4h1.8v1.2h-1.8zM220.7 652.5h1.8v1.2h-1.8zM209.2 661.9h1.8v1.2h-1.8zM219.8 640.3h1.8v1.2h-1.8zM199.4 670.2h1.8v1.2h-1.8zM210.2 661.6h1.8v1.2h-1.8zM204.8 662.1h1.8v1.2h-1.8zM201.6 667.9h1.8v1.2h-1.8zM212.4 638.9h1.8v1.2h-1.8zM209.7 660.2h1.8v1.2h-1.8zM197.5 671.1h1.8v1.2h-1.8zM192.9 675.5h1.8v1.2h-1.8zM232.5 614.6h1.8v1.2h-1.8zM200.1 664.9h1.8v1.2h-1.8zM195.8 672.6h1.8v1.2h-1.8zM193.1 674.2h1.8v1.2h-1.8zM194.2 674.4h1.8v1.2h-1.8zM189.3 676.5h1.8v1.2h-1.8zM214.9 654.3h1.8v1.2h-1.8zM211.7 646.0h1.8v1.2h-1.8zM197.8 668.3h1.8v1.2h-1.8zM199.1 670.0h1.8v1.2h-1.8zM206.3 661.0h1.8v1.2h-1.8zM205.7 661.0h1.8v1.2h-1.8zM211.6 661.8h1.8v1.2h-1.8zM197.5 672.0h1.8v1.2h-1.8zM199.2 670.1h1.8v1.2h-1.8zM232.4 634.6h1.8v1.2h-1.8zM206.0 663.4h1.8v1.2h-1.8zM216.1 658.3h1.8v1.2h-1.8zM224.3 618.6h1.8v1.2h-1.8zM215.0 622.9h1.8v1.2h-1.8zM233.3 599.4h1.8v1.2h-1.8zM198.7 667.4h1.8v1.2h-1.8zM226.6 616.3h1.8v1.2h-1.8zM213.6 649.7h1.8v1.2h-1.8zM219.7 631.2h1.8v1.2h-1.8zM213.5 655.6h1.8v1.2h-1.8zM225.0 624.8h1.8v1.2h-1.8zM210.0 641.8h1.8v1.2h-1.8zM194.8 674.1h1.8v1.2h-1.8zM202.6 664.3h1.8v1.2h-1.8zM206.6 653.9h1.8v1.2h-1.8zM232.0 611.7h1.8v1.2h-1.8zM207.4 662.5h1.8v1.2h-1.8zM201.3 663.0h1.8v1.2h-1.8zM196.3 671.1h1.8v1.2h-1.8zM208.7 665.3h1.8v1.2h-1.8zM251.1 599.9h1.8v1.2h-1.8zM197.3 670.6h1.8v1.2h-1.8zM210.6 644.3h1.8v1.2h-1.8zM243.8 609.1h1.8v1.2h-1.8zM197.5 669.7h1.8v1.2h-1.8zM248.2 588.5h1.8v1.2h-1.8zM226.0 623.6h1.8v1.2h-1.8zM198.1 664.6h1.8v1.2h-1.8zM232.4 607.9h1.8v1.2h-1.8zM194.8 674.0h1.8v1.2h-1.8zM196.7 670.8h1.8v1.2h-1.8zM200.3 671.1h1.8v1.2h-1.8zM209.0 654.3h1.8v1.2h-1.8zM207.9 665.0h1.8v1.2h-1.8zM228.2 594.2h1.8v1.2h-1.8zM215.0 646.5h1.8v1.2h-1.8zM228.7 583.6h1.8v1.2h-1.8zM209.3 651.3h1.8v1.2h-1.8zM200.3 664.9h1.8v1.2h-1.8zM195.5 671.9h1.8v1.2h-1.8zM219.1 646.3h1.8v1.2h-1.8zM189.8 676.4h1.8v1.2h-1.8zM209.4 659.9h1.8v1.2h-1.8zM212.0 651.4h1.8v1.2h-1.8zM206.5 661.0h1.8v1.2h-1.8zM244.7 601.2h1.8v1.2h-1.8zM210.5 658.9h1.8v1.2h-1.8zM201.6 665.3h1.8v1.2h-1.8zM207.1 654.9h1.8v1.2h-1.8zM202.6 669.2h1.8v1.2h-1.8zM193.7 675.1h1.8v1.2h-1.8zM190.4 676.1h1.8v1.2h-1.8zM195.6 672.8h1.8v1.2h-1.8zM218.5 652.3h1.8v1.2h-1.8zM236.7 593.0h1.8v1.2h-1.8zM229.1 616.1h1.8v1.2h-1.8zM198.8 671.5h1.8v1.2h-1.8zM199.2 673.0h1.8v1.2h-1.8zM198.1 672.9h1.8v1.2h-1.8zM219.2 652.3h1.8v1.2h-1.8zM191.6 675.5h1.8v1.2h-1.8zM194.9 672.1h1.8v1.2h-1.8zM197.2 669.8h1.8v1.2h-1.8zM200.5 668.6h1.8v1.2h-1.8zM202.3 658.9h1.8v1.2h-1.8zM212.9 661.9h1.8v1.2h-1.8zM198.6 671.0h1.8v1.2h-1.8zM202.8 656.0h1.8v1.2h-1.8zM199.2 667.6h1.8v1.2h-1.8zM198.4 671.1h1.8v1.2h-1.8zM207.7 662.7h1.8v1.2h-1.8zM247.1 605.4h1.8v1.2h-1.8zM199.9 664.4h1.8v1.2h-1.8zM231.3 639.5h1.8v1.2h-1.8zM216.9 650.2h1.8v1.2h-1.8zM205.3 662.0h1.8v1.2h-1.8zM189.8 676.4h1.8v1.2h-1.8zM204.3 667.6h1.8v1.2h-1.8zM222.1 650.2h1.8v1.2h-1.8zM211.6 647.9h1.8v1.2h-1.8zM217.2 636.2h1.8v1.2h-1.8zM222.2 635.1h1.8v1.2h-1.8zM196.9 673.2h1.8v1.2h-1.8zM202.4 665.3h1.8v1.2h-1.8zM209.1 655.2h1.8v1.2h-1.8zM224.4 644.6h1.8v1.2h-1.8zM192.9 675.7h1.8v1.2h-1.8zM191.6 675.9h1.8v1.2h-1.8zM227.7 636.2h1.8v1.2h-1.8zM211.5 654.4h1.8v1.2h-1.8zM204.1 666.2h1.8v1.2h-1.8zM217.0 619.5h1.8v1.2h-1.8zM199.4 667.0h1.8v1.2h-1.8zM245.1 606.3h1.8v1.2h-1.8zM218.6 646.3h1.8v1.2h-1.8zM217.7 653.3h1.8v1.2h-1.8zM193.3 673.7h1.8v1.2h-1.8zM197.1 669.2h1.8v1.2h-1.8zM212.7 646.6h1.8v1.2h-1.8zM233.3 611.7h1.8v1.2h-1.8zM192.8 675.7h1.8v1.2h-1.8zM194.6 672.9h1.8v1.2h-1.8zM192.7 674.9h1.8v1.2h-1.8zM194.9 674.5h1.8v1.2h-1.8zM234.3 607.2h1.8v1.2h-1.8zM205.1 663.1h1.8v1.2h-1.8zM204.6 662.6h1.8v1.2h-1.8zM202.4 662.9h1.8v1.2h-1.8zM227.7 647.9h1.8v1.2h-1.8zM210.7 655.6h1.8v1.2h-1.8zM203.7 664.1h1.8v1.2h-1.8zM194.5 672.8h1.8v1.2h-1.8zM244.5 577.9h1.8v1.2h-1.8zM197.3 668.1h1.8v1.2h-1.8zM193.7 673.2h1.8v1.2h-1.8zM206.3 659.9h1.8v1.2h-1.8zM225.1 619.7h1.8v1.2h-1.8zM220.5 641.5h1.8v1.2h-1.8zM208.5 666.3h1.8v1.2h-1.8zM208.4 656.3h1.8v1.2h-1.8zM196.5 671.1h1.8v1.2h-1.8zM206.7 665.7h1.8v1.2h-1.8zM230.3 621.7h1.8v1.2h-1.8zM236.2 590.8h1.8v1.2h-1.8zM202.6 665.6h1.8v1.2h-1.8zM192.7 675.5h1.8v1.2h-1.8zM225.3 591.9h1.8v1.2h-1.8zM210.9 650.8h1.8v1.2h-1.8zM214.2 638.0h1.8v1.2h-1.8zM195.8 671.3h1.8v1.2h-1.8zM232.9 614.9h1.8v1.2h-1.8zM209.9 658.4h1.8v1.2h-1.8zM249.3 584.3h1.8v1.2h-1.8zM198.6 669.2h1.8v1.2h-1.8zM218.6 634.8h1.8v1.2h-1.8zM233.9 621.8h1.8v1.2h-1.8zM237.1 601.1h1.8v1.2h-1.8zM198.3 665.4h1.8v1.2h-1.8zM200.1 670.3h1.8v1.2h-1.8zM202.0 667.6h1.8v1.2h-1.8zM239.0 581.4h1.8v1.2h-1.8zM202.1 670.0h1.8v1.2h-1.8zM209.0 660.8h1.8v1.2h-1.8zM237.7 593.8h1.8v1.2h-1.8zM217.5 639.1h1.8v1.2h-1.8zM245.3 605.8h1.8v1.2h-1.8zM219.9 606.1h1.8v1.2h-1.8zM210.9 658.1h1.8v1.2h-1.8zM197.9 666.5h1.8v1.2h-1.8zM210.2 650.8h1.8v1.2h-1.8zM201.8 671.2h1.8v1.2h-1.8zM193.6 673.4h1.8v1.2h-1.8zM204.2 663.3h1.8v1.2h-1.8zM229.4 627.5h1.8v1.2h-1.8zM207.9 653.9h1.8v1.2h-1.8zM211.9 634.9h1.8v1.2h-1.8zM212.5 649.3h1.8v1.2h-1.8zM217.7 634.4h1.8v1.2h-1.8zM216.5 656.2h1.8v1.2h-1.8zM215.8 637.3h1.8v1.2h-1.8zM204.1 668.1h1.8v1.2h-1.8zM192.1 674.2h1.8v1.2h-1.8zM246.1 580.5h1.8v1.2h-1.8zM228.1 604.3h1.8v1.2h-1.8zM233.9 610.5h1.8v1.2h-1.8zM216.7 654.6h1.8v1.2h-1.8zM221.9 608.0h1.8v1.2h-1.8zM202.2 662.9h1.8v1.2h-1.8zM213.7 660.4h1.8v1.2h-1.8zM211.5 653.3h1.8v1.2h-1.8zM230.1 636.2h1.8v1.2h-1.8zM237.7 625.6h1.8v1.2h-1.8zM221.7 623.2h1.8v1.2h-1.8zM195.6 673.1h1.8v1.2h-1.8zM197.6 671.3h1.8v1.2h-1.8zM197.9 673.5h1.8v1.2h-1.8zM201.8 666.6h1.8v1.2h-1.8zM193.0 674.5h1.8v1.2h-1.8zM213.9 641.0h1.8v1.2h-1.8zM208.9 649.9h1.8v1.2h-1.8zM199.9 672.1h1.8v1.2h-1.8zM194.1 672.1h1.8v1.2h-1.8zM198.9 670.4h1.8v1.2h-1.8zM201.3 670.2h1.8v1.2h-1.8zM218.2 644.2h1.8v1.2h-1.8zM231.0 611.6h1.8v1.2h-1.8zM237.9 581.9h1.8v1.2h-1.8zM220.5 636.0h1.8v1.2h-1.8zM197.2 669.8h1.8v1.2h-1.8zM214.9 651.2h1.8v1.2h-1.8zM190.5 676.2h1.8v1.2h-1.8zM197.3 670.5h1.8v1.2h-1.8zM242.3 612.4h1.8v1.2h-1.8zM192.5 674.9h1.8v1.2h-1.8zM240.1 607.1h1.8v1.2h-1.8zM221.4 634.2h1.8v1.2h-1.8zM205.7 660.6h1.8v1.2h-1.8zM217.9 644.3h1.8v1.2h-1.8zM192.0 675.4h1.8v1.2h-1.8zM211.5 648.9h1.8v1.2h-1.8zM200.9 664.0h1.8v1.2h-1.8zM210.1 657.5h1.8v1.2h-1.8zM195.4 672.2h1.8v1.2h-1.8zM196.3 673.2h1.8v1.2h-1.8zM209.1 647.4h1.8v1.2h-1.8zM198.7 673.0h1.8v1.2h-1.8zM205.6 666.0h1.8v1.2h-1.8zM214.0 637.5h1.8v1.2h-1.8zM210.2 650.8h1.8v1.2h-1.8zM223.7 644.3h1.8v1.2h-1.8zM230.7 628.6h1.8v1.2h-1.8zM235.7 588.1h1.8v1.2h-1.8zM209.1 659.1h1.8v1.2h-1.8zM201.8 657.6h1.8v1.2h-1.8zM197.0 670.1h1.8v1.2h-1.8zM219.7 631.4h1.8v1.2h-1.8zM198.8 672.9h1.8v1.2h-1.8zM195.8 674.3h1.8v1.2h-1.8zM197.6 671.0h1.8v1.2h-1.8zM193.3 675.1h1.8v1.2h-1.8zM200.7 670.1h1.8v1.2h-1.8zM226.7 634.8h1.8v1.2h-1.8zM207.5 651.6h1.8v1.2h-1.8zM224.1 648.6h1.8v1.2h-1.8zM214.7 651.8h1.8v1.2h-1.8zM199.8 665.6h1.8v1.2h-1.8zM219.0 608.3h1.8v1.2h-1.8zM197.8 666.8h1.8v1.2h-1.8zM213.4 645.6h1.8v1.2h-1.8zM203.0 670.3h1.8v1.2h-1.8zM202.8 660.4h1.8v1.2h-1.8zM220.8 637.9h1.8v1.2h-1.8zM199.8 668.9h1.8v1.2h-1.8zM199.4 668.0h1.8v1.2h-1.8zM197.2 667.6h1.8v1.2h-1.8zM201.7 666.1h1.8v1.2h-1.8zM230.4 625.8h1.8v1.2h-1.8zM196.4 672.9h1.8v1.2h-1.8zM218.5 624.2h1.8v1.2h-1.8zM191.0 675.6h1.8v1.2h-1.8zM195.6 669.6h1.8v1.2h-1.8zM192.4 675.5h1.8v1.2h-1.8zM205.4 652.9h1.8v1.2h-1.8zM246.9 600.9h1.8v1.2h-1.8zM205.7 666.3h1.8v1.2h-1.8zM194.3 674.9h1.8v1.2h-1.8zM234.4 631.0h1.8v1.2h-1.8zM217.6 621.9h1.8v1.2h-1.8zM199.9 670.0h1.8v1.2h-1.8zM223.6 644.2h1.8v1.2h-1.8zM221.8 630.9h1.8v1.2h-1.8zM241.4 582.6h1.8v1.2h-1.8zM196.5 670.9h1.8v1.2h-1.8zM200.3 670.2h1.8v1.2h-1.8zM227.1 637.4h1.8v1.2h-1.8zM220.5 621.3h1.8v1.2h-1.8zM225.5 647.1h1.8v1.2h-1.8zM203.4 662.9h1.8v1.2h-1.8zM199.7 665.2h1.8v1.2h-1.8zM197.4 673.2h1.8v1.2h-1.8zM211.2 659.9h1.8v1.2h-1.8zM210.8 648.1h1.8v1.2h-1.8zM202.1 668.6h1.8v1.2h-1.8zM202.5 670.0h1.8v1.2h-1.8zM202.8 666.2h1.8v1.2h-1.8zM210.9 655.4h1.8v1.2h-1.8zM205.9 666.3h1.8v1.2h-1.8zM209.4 651.7h1.8v1.2h-1.8zM217.8 638.4h1.8v1.2h-1.8zM219.9 629.5h1.8v1.2h-1.8zM202.6 665.3h1.8v1.2h-1.8zM194.9 672.0h1.8v1.2h-1.8zM196.6 670.3h1.8v1.2h-1.8zM196.8 669.0h1.8v1.2h-1.8zM215.4 641.4h1.8v1.2h-1.8zM207.6 666.8h1.8v1.2h-1.8zM235.9 597.6h1.8v1.2h-1.8zM227.2 636.2h1.8v1.2h-1.8zM220.4 632.8h1.8v1.2h-1.8zM199.5 666.8h1.8v1.2h-1.8zM206.6 658.7h1.8v1.2h-1.8zM210.9 659.9h1.8v1.2h-1.8zM241.6 605.6h1.8v1.2h-1.8zM192.3 675.5h1.8v1.2h-1.8zM201.1 668.5h1.8v1.2h-1.8zM214.4 635.3h1.8v1.2h-1.8zM202.0 670.0h1.8v1.2h-1.8zM248.3 606.4h1.8v1.2h-1.8zM207.4 646.9h1.8v1.2h-1.8zM226.1 602.5h1.8v1.2h-1.8zM204.8 665.5h1.8v1.2h-1.8zM201.6 663.1h1.8v1.2h-1.8zM209.4 665.5h1.8v1.2h-1.8zM238.1 629.3h1.8v1.2h-1.8zM193.6 674.2h1.8v1.2h-1.8zM210.5 658.5h1.8v1.2h-1.8zM217.9 644.2h1.8v1.2h-1.8zM215.0 645.5h1.8v1.2h-1.8zM202.9 670.6h1.8v1.2h-1.8zM194.0 673.8h1.8v1.2h-1.8zM203.2 666.4h1.8v1.2h-1.8zM241.9 579.3h1.8v1.2h-1.8zM209.2 662.2h1.8v1.2h-1.8zM231.7 589.5h1.8v1.2h-1.8zM210.5 651.0h1.8v1.2h-1.8zM225.1 640.7h1.8v1.2h-1.8zM220.4 630.5h1.8v1.2h-1.8zM247.1 604.0h1.8v1.2h-1.8zM220.5 653.6h1.8v1.2h-1.8zM195.3 674.4h1.8v1.2h-1.8zM200.6 668.6h1.8v1.2h-1.8zM197.9 672.8h1.8v1.2h-1.8zM230.3 615.5h1.8v1.2h-1.8zM204.7 666.2h1.8v1.2h-1.8zM204.8 661.5h1.8v1.2h-1.8zM191.4 675.7h1.8v1.2h-1.8zM218.6 651.8h1.8v1.2h-1.8zM207.2 660.6h1.8v1.2h-1.8zM204.0 660.7h1.8v1.2h-1.8zM251.4 583.8h1.8v1.2h-1.8zM207.7 651.8h1.8v1.2h-1.8zM211.4 635.0h1.8v1.2h-1.8zM210.2 655.5h1.8v1.2h-1.8zM200.1 660.2h1.8v1.2h-1.8zM235.8 608.9h1.8v1.2h-1.8zM212.8 642.7h1.8v1.2h-1.8zM199.1 665.7h1.8v1.2h-1.8zM208.5 654.1h1.8v1.2h-1.8zM198.6 667.8h1.8v1.2h-1.8zM224.3 623.2h1.8v1.2h-1.8zM198.8 671.7h1.8v1.2h-1.8zM208.2 655.5h1.8v1.2h-1.8zM190.1 676.2h1.8v1.2h-1.8zM202.6 665.0h1.8v1.2h-1.8zM192.6 673.9h1.8v1.2h-1.8zM237.4 621.3h1.8v1.2h-1.8zM221.6 649.7h1.8v1.2h-1.8zM211.8 648.8h1.8v1.2h-1.8zM221.8 642.1h1.8v1.2h-1.8zM215.2 651.0h1.8v1.2h-1.8zM211.5 643.9h1.8v1.2h-1.8zM196.8 672.7h1.8v1.2h-1.8zM197.1 673.1h1.8v1.2h-1.8zM189.2 676.5h1.8v1.2h-1.8zM192.1 675.5h1.8v1.2h-1.8zM245.9 585.4h1.8v1.2h-1.8zM237.1 596.7h1.8v1.2h-1.8zM192.2 675.8h1.8v1.2h-1.8zM216.4 635.8h1.8v1.2h-1.8zM242.9 610.8h1.8v1.2h-1.8zM210.7 662.1h1.8v1.2h-1.8zM227.5 601.4h1.8v1.2h-1.8zM204.7 662.9h1.8v1.2h-1.8zM210.9 653.0h1.8v1.2h-1.8zM216.5 641.4h1.8v1.2h-1.8zM211.4 655.6h1.8v1.2h-1.8zM198.1 668.4h1.8v1.2h-1.8zM214.4 660.9h1.8v1.2h-1.8zM193.0 674.8h1.8v1.2h-1.8zM196.6 671.6h1.8v1.2h-1.8zM203.7 666.1h1.8v1.2h-1.8zM204.0 661.6h1.8v1.2h-1.8zM191.1 676.0h1.8v1.2h-1.8zM207.5 654.5h1.8v1.2h-1.8zM214.6 639.1h1.8v1.2h-1.8zM207.2 663.6h1.8v1.2h-1.8zM205.0 664.4h1.8v1.2h-1.8zM207.1 665.1h1.8v1.2h-1.8zM240.9 618.8h1.8v1.2h-1.8zM208.4 661.9h1.8v1.2h-1.8zM211.3 646.9h1.8v1.2h-1.8zM238.1 614.3h1.8v1.2h-1.8zM247.5 589.4h1.8v1.2h-1.8zM212.9 660.3h1.8v1.2h-1.8zM245.4 591.9h1.8v1.2h-1.8zM207.1 655.2h1.8v1.2h-1.8zM202.4 659.5h1.8v1.2h-1.8zM199.9 670.5h1.8v1.2h-1.8zM205.5 661.2h1.8v1.2h-1.8zM199.9 666.9h1.8v1.2h-1.8zM204.7 651.4h1.8v1.2h-1.8zM193.5 673.7h1.8v1.2h-1.8zM194.2 673.2h1.8v1.2h-1.8zM209.9 660.9h1.8v1.2h-1.8zM215.5 636.6h1.8v1.2h-1.8zM209.8 654.9h1.8v1.2h-1.8zM195.5 674.7h1.8v1.2h-1.8zM197.1 666.7h1.8v1.2h-1.8zM206.8 656.6h1.8v1.2h-1.8z" fill="#303030"/>
<path d="M97.6 466.3h2.2v1.6h-2.2zM120.4 466.3h2.2v1.6h-2.2zM127.7 466.3h2.2v1.6h-2.2zM111.7 487.6h2.2v1.6h-2.2zM118.0 487.6h2.2v1.6h-2.2zM124.2 487.6h2.2v1.6h-2.2zM128.7 487.6h2.2v1.6h-2.2zM138.2 487.6h2.2v1.6h-2.2zM110.5 492.0h2.2v1.6h-2.2zM118.8 502.4h2.2v1.6h-2.2zM131.8 502.4h2.2v1.6h-2.2zM134.2 506.3h2.2v1.6h-2.2zM129.0 515.0h2.2v1.6h-2.2zM106.9 521.7h2.2v1.6h-2.2zM107.9 522.3h2.2v1.6h-2.2zM130.4 521.7h2.2v1.6h-2.2zM134.7 521.7h2.2v1.6h-2.2zM101.7 526.1h2.2v1.6h-2.2zM119.3 524.0h2.2v1.6h-2.2zM120.0 526.1h2.2v1.6h-2.2zM125.4 526.1h2.2v1.6h-2.2zM130.1 526.4h2.2v1.6h-2.2zM130.8 526.1h2.2v1.6h-2.2zM133.9 526.1h2.2v1.6h-2.2zM140.8 526.1h2.2v1.6h-2.2zM112.4 528.0h2.2v1.6h-2.2zM121.3 528.0h2.2v1.6h-2.2zM126.1 528.8h2.2v1.6h-2.2zM136.7 528.3h2.2v1.6h-2.2zM144.6 528.0h2.2v1.6h-2.2zM147.2 527.5h2.2v1.6h-2.2zM137.0 532.8h2.2v1.6h-2.2zM114.2 535.3h2.2v1.6h-2.2zM115.7 536.1h2.2v1.6h-2.2zM133.5 535.3h2.2v1.6h-2.2zM137.0 534.9h2.2v1.6h-2.2zM123.5 537.3h2.2v1.6h-2.2zM133.5 537.3h2.2v1.6h-2.2zM135.6 539.2h2.2v1.6h-2.2zM109.7 542.4h2.2v1.6h-2.2zM122.3 542.4h2.2v1.6h-2.2zM141.5 542.9h2.2v1.6h-2.2zM133.2 546.0h2.2v1.6h-2.2zM121.3 546.7h2.2v1.6h-2.2zM105.5 548.8h2.2v1.6h-2.2zM124.7 549.4h2.2v1.6h-2.2zM125.9 549.1h2.2v1.6h-2.2zM135.4 550.5h2.2v1.6h-2.2zM138.9 549.4h2.2v1.6h-2.2zM140.8 548.9h2.2v1.6h-2.2zM142.9 548.1h2.2v1.6h-2.2zM152.4 547.7h2.2v1.6h-2.2zM114.5 553.4h2.2v1.6h-2.2zM125.8 554.3h2.2v1.6h-2.2zM125.2 555.2h2.2v1.6h-2.2zM138.2 553.8h2.2v1.6h-2.2zM139.1 558.6h2.2v1.6h-2.2zM140.8 557.1h2.2v1.6h-2.2zM143.1 556.9h2.2v1.6h-2.2zM144.6 557.8h2.2v1.6h-2.2zM148.4 558.8h2.2v1.6h-2.2zM125.4 560.0h2.2v1.6h-2.2zM155.0 563.1h2.2v1.6h-2.2zM120.0 562.6h2.2v1.6h-2.2zM116.6 567.1h2.2v1.6h-2.2zM135.6 567.1h2.2v1.6h-2.2zM132.0 568.8h2.2v1.6h-2.2zM141.1 568.8h2.2v1.6h-2.2zM124.9 572.1h2.2v1.6h-2.2zM131.6 572.1h2.2v1.6h-2.2z" fill="#2EC22E"/>
<path d="M277.7 466.3h2.2v1.6h-2.2zM277.9 487.6h2.2v1.6h-2.2zM279.6 487.6h2.2v1.6h-2.2zM289.5 487.6h2.2v1.6h-2.2zM237.4 502.4h2.2v1.6h-2.2zM244.7 506.0h2.2v1.6h-2.2zM254.7 506.7h2.2v1.6h-2.2zM264.8 502.4h2.2v1.6h-2.2zM245.2 522.3h2.2v1.6h-2.2zM269.8 522.3h2.2v1.6h-2.2zM273.1 522.3h2.2v1.6h-2.2zM252.7 526.1h2.2v1.6h-2.2zM262.0 528.2h2.2v1.6h-2.2zM267.9 528.2h2.2v1.6h-2.2zM275.3 526.1h2.2v1.6h-2.2zM277.0 526.8h2.2v1.6h-2.2zM251.8 533.4h2.2v1.6h-2.2zM274.1 534.2h2.2v1.6h-2.2zM257.2 537.2h2.2v1.6h-2.2zM260.3 537.4h2.2v1.6h-2.2zM244.3 548.9h2.2v1.6h-2.2zM249.0 549.4h2.2v1.6h-2.2zM255.8 548.9h2.2v1.6h-2.2zM259.7 548.9h2.2v1.6h-2.2zM262.2 547.9h2.2v1.6h-2.2zM263.9 549.4h2.2v1.6h-2.2zM273.2 548.9h2.2v1.6h-2.2zM229.8 553.4h2.2v1.6h-2.2zM248.5 554.5h2.2v1.6h-2.2zM244.2 557.8h2.2v1.6h-2.2zM252.1 558.8h2.2v1.6h-2.2zM258.0 557.8h2.2v1.6h-2.2zM230.5 569.2h2.2v1.6h-2.2zM253.9 568.8h2.2v1.6h-2.2zM262.0 567.1h2.2v1.6h-2.2zM256.8 570.9h2.2v1.6h-2.2zM258.0 571.8h2.2v1.6h-2.2zM228.8 573.9h2.2v1.6h-2.2zM239.0 573.9h2.2v1.6h-2.2zM240.2 573.9h2.2v1.6h-2.2zM242.6 573.2h2.2v1.6h-2.2zM250.1 573.2h2.2v1.6h-2.2zM251.3 573.2h2.2v1.6h-2.2z" fill="#EC2828"/>
<path d="M58.2 441.0V677.2M322.0 441.0V677.2M55.7 677.2H325.9" stroke="#3c3c3c" stroke-width="1.5" fill="none"/>
<path d="M55.7 677.20H58.2M322.0 677.20H324.4" stroke="#3c3c3c" stroke-width="1.2"/>
<text x="52.2" y="685.00" font-size="14" fill="#111" text-anchor="end" stroke="#111" stroke-width="0.2">0</text>
<text x="329.2" y="685.00" font-size="14" fill="#111" text-anchor="start" stroke="#111" stroke-width="0.2">0</text>
<path d="M55.7 598.47H58.2M322.0 598.47H324.4" stroke="#3c3c3c" stroke-width="1.2"/>
<text x="52.2" y="606.27" font-size="14" fill="#111" text-anchor="end" stroke="#111" stroke-width="0.2">1</text>
<text x="329.2" y="606.27" font-size="14" fill="#111" text-anchor="start" stroke="#111" stroke-width="0.2">1</text>
<path d="M55.7 519.74H58.2M322.0 519.74H324.4" stroke="#3c3c3c" stroke-width="1.2"/>
<text x="52.2" y="527.54" font-size="14" fill="#111" text-anchor="end" stroke="#111" stroke-width="0.2">2</text>
<text x="329.2" y="527.54" font-size="14" fill="#111" text-anchor="start" stroke="#111" stroke-width="0.2">2</text>
<path d="M55.7 441.01H58.2M322.0 441.01H324.4" stroke="#3c3c3c" stroke-width="1.2"/>
<text x="52.2" y="448.81" font-size="14" fill="#111" text-anchor="end" stroke="#111" stroke-width="0.2">3</text>
<text x="329.2" y="448.81" font-size="14" fill="#111" text-anchor="start" stroke="#111" stroke-width="0.2">3</text>
<path d="M190.1 677.2V679.8" stroke="#3c3c3c" stroke-width="1.2"/>
<text x="57.5" y="696.7" font-size="14" fill="#111" text-anchor="middle" stroke="#111" stroke-width="0.2">-1</text>
<text x="192.3" y="696.7" font-size="14" fill="#111" text-anchor="middle" stroke="#111" stroke-width="0.2">0</text>
<text x="323.4" y="696.7" font-size="14" fill="#111" text-anchor="middle" stroke="#111" stroke-width="0.2">1</text>
<text x="194" y="714.6" font-size="14" fill="#111" text-anchor="middle" textLength="107" lengthAdjust="spacingAndGlyphs" stroke="#111" stroke-width="0.25">Log2 Fold change</text>
<text transform="translate(32.3,564.8) rotate(-90)" x="0" y="0" font-size="14" fill="#111" stroke="#111" stroke-width="0.25" text-anchor="middle" textLength="74.5" lengthAdjust="spacingAndGlyphs">-log10 (padj)</text>
<text x="393.5" y="376.7" font-size="17.5" fill="#000" text-anchor="start" >D</text>
<text x="395.4" y="396.2" font-size="14" fill="#111" text-anchor="start" textLength="49.5" lengthAdjust="spacingAndGlyphs" stroke="#111" stroke-width="0.25">Intensity</text>
<defs><linearGradient id="lg" x1="0" x2="1" y1="0" y2="0"><stop offset="0" stop-color="#00B050"/><stop offset="0.1" stop-color="#00B050"/><stop offset="0.5" stop-color="#000"/><stop offset="0.8" stop-color="#C00000"/><stop offset="1" stop-color="#C00000"/></linearGradient></defs>
<rect x="379.9" y="403.2" width="78.9" height="19.4" fill="url(#lg)"/>
<path d="M380.5 423.8V428.4M420.4 423.8V428.4M458.8 423.8V428.4" stroke="#444" stroke-width="0.9"/>
<text x="378.2" y="442.1" font-size="14" fill="#111" text-anchor="middle" stroke="#111" stroke-width="0.2">-3</text>
<text x="418.8" y="442.1" font-size="14" fill="#111" text-anchor="middle" stroke="#111" stroke-width="0.2">0</text>
<text x="458.7" y="442.1" font-size="14" fill="#111" text-anchor="middle" stroke="#111" stroke-width="0.2">3</text>
<path d="M473.6 444.2L473.6 436.0M482.4 444.2L482.4 436.0M473.6 436.0L482.4 436.0M478.0 436.0L478.0 433.5M491.3 444.2L491.3 433.5M478.0 433.5L491.3 433.5M484.6 433.5L484.6 428.6M500.3 444.2L500.3 428.6M484.6 428.6L500.3 428.6M517.8 444.2L517.8 441.3M526.6 444.2L526.6 441.3M517.8 441.3L526.6 441.3M508.8 444.2L508.8 436.5M522.2 441.3L522.2 436.5M508.8 436.5L522.2 436.5M515.5 436.5L515.5 435.4M535.3 444.2L535.3 435.4M515.5 435.4L535.3 435.4M525.4 435.4L525.4 432.4M544.3 444.2L544.3 432.4M525.4 432.4L544.3 432.4M492.5 428.6L492.5 426.4M534.8 432.4L534.8 426.4M492.5 426.4L534.8 426.4M553.1 444.2L553.1 432.4M561.7 444.2L561.7 432.4M553.1 432.4L561.7 432.4M557.4 432.4L557.4 422.4M570.7 444.2L570.7 422.4M557.4 422.4L570.7 422.4M513.7 426.4L513.7 421.7M564.1 422.4L564.1 421.7M513.7 421.7L564.1 421.7M607.1 444.2L607.1 443.4M615.1 444.2L615.1 443.4M607.1 443.4L615.1 443.4M624.0 444.2L624.0 443.4M632.8 444.2L632.8 443.4M624.0 443.4L632.8 443.4M611.1 443.4L611.1 438.5M628.4 443.4L628.4 438.5M611.1 438.5L628.4 438.5M597.8 444.2L597.8 436.4M619.8 438.5L619.8 436.4M597.8 436.4L619.8 436.4M589.1 444.2L589.1 434.8M608.8 436.4L608.8 434.8M589.1 434.8L608.8 434.8M598.9 434.8L598.9 431.9M641.6 444.2L641.6 431.9M598.9 431.9L641.6 431.9M651.0 444.2L651.0 436.1M659.3 444.2L659.3 436.1M651.0 436.1L659.3 436.1M668.1 444.2L668.1 432.4M677.0 444.2L677.0 432.4M668.1 432.4L677.0 432.4M655.1 436.1L655.1 428.0M672.5 432.4L672.5 428.0M655.1 428.0L672.5 428.0M620.3 431.9L620.3 424.3M663.8 428.0L663.8 424.3M620.3 424.3L663.8 424.3M579.8 444.2L579.8 418.4M642.1 424.3L642.1 418.4M579.8 418.4L642.1 418.4M538.9 421.7L538.9 398.4M610.9 418.4L610.9 398.4M538.9 398.4L610.9 398.4" stroke="#222" stroke-width="1.1" fill="none" stroke-linecap="square"/>
<rect x="469.5" y="450.7" width="107.5" height="13.2" fill="#F94A4D"/>
<rect x="577" y="450.7" width="104.2" height="13.2" fill="#5B9BD5"/>
<clipPath id="hc"><rect x="469.5" y="464.8" width="211.7" height="246.5"/></clipPath>
<filter id="hb" x="-0.05" y="-0.05" width="1.1" height="1.1"><feGaussianBlur stdDeviation="0.35 0.55"/></filter>
<g clip-path="url(#hc)"><g filter="url(#hb)">
<rect x="465" y="460" width="225" height="256" fill="#000"/>
<path d="M605.1 516.15h9.04v2.08h-9.04zM605.1 518.21h9.04v2.08h-9.04zM469.5 590.10h9.04v2.08h-9.04zM478.5 600.38h9.04v2.08h-9.04zM523.7 600.38h9.04v2.08h-9.04zM478.5 604.48h9.04v2.08h-9.04zM505.7 612.70h9.04v2.08h-9.04zM505.7 641.46h9.04v2.08h-9.04zM541.8 655.84h9.04v2.08h-9.04zM559.9 668.16h9.04v2.08h-9.04zM559.9 670.22h9.04v2.08h-9.04zM541.8 678.43h9.04v2.08h-9.04zM469.5 682.54h9.04v2.08h-9.04zM469.5 684.60h9.04v2.08h-9.04zM541.8 696.92h9.04v2.08h-9.04z" fill="#00f570"/>
<path d="M659.3 499.72h9.04v2.08h-9.04zM605.1 520.26h9.04v2.08h-9.04zM659.3 524.37h9.04v2.08h-9.04zM478.5 602.43h9.04v2.08h-9.04zM478.5 610.65h9.04v2.08h-9.04zM541.8 631.19h9.04v2.08h-9.04zM469.5 676.38h9.04v2.08h-9.04zM523.7 682.54h9.04v2.08h-9.04zM487.6 690.76h9.04v2.08h-9.04zM559.9 690.76h9.04v2.08h-9.04zM523.7 692.81h9.04v2.08h-9.04zM523.7 694.87h9.04v2.08h-9.04z" fill="#00e569"/>
<path d="M614.1 479.18h9.04v2.08h-9.04zM659.3 501.77h9.04v2.08h-9.04zM541.8 559.29h9.04v2.08h-9.04zM478.5 573.67h9.04v2.08h-9.04zM478.5 618.86h9.04v2.08h-9.04zM550.9 659.95h9.04v2.08h-9.04zM559.9 676.38h9.04v2.08h-9.04zM487.6 688.70h9.04v2.08h-9.04zM541.8 698.97h9.04v2.08h-9.04zM532.8 705.14h9.04v2.08h-9.04z" fill="#00d662"/>
<path d="M596.1 501.77h9.04v2.08h-9.04zM632.2 549.02h9.04v2.08h-9.04zM559.9 557.24h9.04v2.08h-9.04zM514.7 563.40h9.04v2.08h-9.04zM478.5 579.83h9.04v2.08h-9.04zM496.6 579.83h9.04v2.08h-9.04zM496.6 604.48h9.04v2.08h-9.04zM496.6 612.70h9.04v2.08h-9.04zM568.9 631.19h9.04v2.08h-9.04zM541.8 633.24h9.04v2.08h-9.04zM532.8 668.16h9.04v2.08h-9.04zM478.5 680.49h9.04v2.08h-9.04zM487.6 684.60h9.04v2.08h-9.04zM550.9 688.70h9.04v2.08h-9.04zM487.6 692.81h9.04v2.08h-9.04zM541.8 694.87h9.04v2.08h-9.04zM496.6 703.08h9.04v2.08h-9.04zM514.7 705.14h9.04v2.08h-9.04zM568.9 709.25h9.04v2.08h-9.04z" fill="#00c75b"/>
<path d="M650.3 477.12h9.04v2.08h-9.04zM659.3 487.40h9.04v2.08h-9.04zM668.4 501.77h9.04v2.08h-9.04zM677.4 505.88h9.04v2.08h-9.04zM677.4 507.94h9.04v2.08h-9.04zM641.3 516.15h9.04v2.08h-9.04zM605.1 522.32h9.04v2.08h-9.04zM614.1 546.97h9.04v2.08h-9.04zM496.6 577.78h9.04v2.08h-9.04zM505.7 583.94h9.04v2.08h-9.04zM478.5 586.00h9.04v2.08h-9.04zM568.9 592.16h9.04v2.08h-9.04zM478.5 596.27h9.04v2.08h-9.04zM550.9 596.27h9.04v2.08h-9.04zM469.5 602.43h9.04v2.08h-9.04zM496.6 610.65h9.04v2.08h-9.04zM550.9 664.05h9.04v2.08h-9.04zM487.6 676.38h9.04v2.08h-9.04zM478.5 678.43h9.04v2.08h-9.04zM469.5 680.49h9.04v2.08h-9.04zM487.6 680.49h9.04v2.08h-9.04zM487.6 686.65h9.04v2.08h-9.04zM478.5 688.70h9.04v2.08h-9.04zM523.7 690.76h9.04v2.08h-9.04zM505.7 692.81h9.04v2.08h-9.04zM505.7 694.87h9.04v2.08h-9.04zM469.5 701.03h9.04v2.08h-9.04zM496.6 701.03h9.04v2.08h-9.04zM514.7 701.03h9.04v2.08h-9.04zM568.9 705.14h9.04v2.08h-9.04zM532.8 709.25h9.04v2.08h-9.04zM541.8 709.25h9.04v2.08h-9.04z" fill="#00b754"/>
<path d="M614.1 477.12h9.04v2.08h-9.04zM578.0 485.34h9.04v2.08h-9.04zM578.0 489.45h9.04v2.08h-9.04zM677.4 489.45h9.04v2.08h-9.04zM587.0 505.88h9.04v2.08h-9.04zM596.1 505.88h9.04v2.08h-9.04zM605.1 512.05h9.04v2.08h-9.04zM641.3 512.05h9.04v2.08h-9.04zM605.1 528.48h9.04v2.08h-9.04zM659.3 528.48h9.04v2.08h-9.04zM632.2 532.59h9.04v2.08h-9.04zM587.0 549.02h9.04v2.08h-9.04zM614.1 551.08h9.04v2.08h-9.04zM587.0 553.13h9.04v2.08h-9.04zM487.6 565.45h9.04v2.08h-9.04zM559.9 573.67h9.04v2.08h-9.04zM469.5 575.73h9.04v2.08h-9.04zM478.5 577.78h9.04v2.08h-9.04zM532.8 592.16h9.04v2.08h-9.04zM559.9 592.16h9.04v2.08h-9.04zM478.5 598.32h9.04v2.08h-9.04zM487.6 598.32h9.04v2.08h-9.04zM568.9 600.38h9.04v2.08h-9.04zM505.7 604.48h9.04v2.08h-9.04zM496.6 606.54h9.04v2.08h-9.04zM496.6 608.59h9.04v2.08h-9.04zM505.7 608.59h9.04v2.08h-9.04zM541.8 618.86h9.04v2.08h-9.04zM568.9 622.97h9.04v2.08h-9.04zM505.7 625.02h9.04v2.08h-9.04zM505.7 627.08h9.04v2.08h-9.04zM559.9 627.08h9.04v2.08h-9.04zM568.9 627.08h9.04v2.08h-9.04zM568.9 629.13h9.04v2.08h-9.04zM505.7 633.24h9.04v2.08h-9.04zM514.7 643.51h9.04v2.08h-9.04zM478.5 666.11h9.04v2.08h-9.04zM550.9 666.11h9.04v2.08h-9.04zM487.6 668.16h9.04v2.08h-9.04zM550.9 668.16h9.04v2.08h-9.04zM496.6 670.22h9.04v2.08h-9.04zM523.7 672.27h9.04v2.08h-9.04zM559.9 672.27h9.04v2.08h-9.04zM478.5 676.38h9.04v2.08h-9.04zM541.8 676.38h9.04v2.08h-9.04zM532.8 680.49h9.04v2.08h-9.04zM478.5 682.54h9.04v2.08h-9.04zM523.7 684.60h9.04v2.08h-9.04zM550.9 684.60h9.04v2.08h-9.04zM532.8 707.19h9.04v2.08h-9.04z" fill="#00a84d"/>
<path d="M641.3 468.91h9.04v2.08h-9.04zM632.2 477.12h9.04v2.08h-9.04zM632.2 481.23h9.04v2.08h-9.04zM659.3 483.29h9.04v2.08h-9.04zM578.0 487.40h9.04v2.08h-9.04zM596.1 499.72h9.04v2.08h-9.04zM677.4 501.77h9.04v2.08h-9.04zM668.4 503.83h9.04v2.08h-9.04zM641.3 509.99h9.04v2.08h-9.04zM605.1 514.10h9.04v2.08h-9.04zM641.3 518.21h9.04v2.08h-9.04zM605.1 524.37h9.04v2.08h-9.04zM659.3 526.42h9.04v2.08h-9.04zM596.1 549.02h9.04v2.08h-9.04zM587.0 551.08h9.04v2.08h-9.04zM614.1 553.13h9.04v2.08h-9.04zM623.2 553.13h9.04v2.08h-9.04zM487.6 555.18h9.04v2.08h-9.04zM478.5 557.24h9.04v2.08h-9.04zM487.6 559.29h9.04v2.08h-9.04zM487.6 571.62h9.04v2.08h-9.04zM469.5 573.67h9.04v2.08h-9.04zM478.5 575.73h9.04v2.08h-9.04zM487.6 577.78h9.04v2.08h-9.04zM550.9 579.83h9.04v2.08h-9.04zM478.5 583.94h9.04v2.08h-9.04zM514.7 583.94h9.04v2.08h-9.04zM505.7 594.21h9.04v2.08h-9.04zM496.6 602.43h9.04v2.08h-9.04zM523.7 602.43h9.04v2.08h-9.04zM478.5 606.54h9.04v2.08h-9.04zM478.5 608.59h9.04v2.08h-9.04zM541.8 610.65h9.04v2.08h-9.04zM496.6 625.02h9.04v2.08h-9.04zM568.9 625.02h9.04v2.08h-9.04zM514.7 627.08h9.04v2.08h-9.04zM541.8 627.08h9.04v2.08h-9.04zM478.5 631.19h9.04v2.08h-9.04zM505.7 631.19h9.04v2.08h-9.04zM532.8 641.46h9.04v2.08h-9.04zM532.8 643.51h9.04v2.08h-9.04zM541.8 649.67h9.04v2.08h-9.04zM532.8 653.78h9.04v2.08h-9.04zM532.8 655.84h9.04v2.08h-9.04zM550.9 657.89h9.04v2.08h-9.04zM487.6 678.43h9.04v2.08h-9.04zM541.8 680.49h9.04v2.08h-9.04zM523.7 688.70h9.04v2.08h-9.04zM559.9 688.70h9.04v2.08h-9.04zM532.8 690.76h9.04v2.08h-9.04zM559.9 692.81h9.04v2.08h-9.04zM514.7 694.87h9.04v2.08h-9.04zM559.9 694.87h9.04v2.08h-9.04zM523.7 696.92h9.04v2.08h-9.04zM496.6 698.97h9.04v2.08h-9.04zM541.8 701.03h9.04v2.08h-9.04zM469.5 707.19h9.04v2.08h-9.04z" fill="#009946"/>
<path d="M587.0 466.85h9.04v2.08h-9.04zM632.2 483.29h9.04v2.08h-9.04zM650.3 485.34h9.04v2.08h-9.04zM605.1 487.40h9.04v2.08h-9.04zM659.3 489.45h9.04v2.08h-9.04zM677.4 491.50h9.04v2.08h-9.04zM650.3 495.61h9.04v2.08h-9.04zM659.3 495.61h9.04v2.08h-9.04zM650.3 497.67h9.04v2.08h-9.04zM650.3 501.77h9.04v2.08h-9.04zM659.3 503.83h9.04v2.08h-9.04zM677.4 503.83h9.04v2.08h-9.04zM596.1 507.94h9.04v2.08h-9.04zM605.1 509.99h9.04v2.08h-9.04zM677.4 514.10h9.04v2.08h-9.04zM578.0 518.21h9.04v2.08h-9.04zM623.2 538.75h9.04v2.08h-9.04zM614.1 549.02h9.04v2.08h-9.04zM632.2 551.08h9.04v2.08h-9.04zM496.6 555.18h9.04v2.08h-9.04zM487.6 557.24h9.04v2.08h-9.04zM541.8 557.24h9.04v2.08h-9.04zM541.8 561.35h9.04v2.08h-9.04zM505.7 565.45h9.04v2.08h-9.04zM496.6 569.56h9.04v2.08h-9.04zM559.9 571.62h9.04v2.08h-9.04zM514.7 573.67h9.04v2.08h-9.04zM496.6 575.73h9.04v2.08h-9.04zM559.9 575.73h9.04v2.08h-9.04zM514.7 579.83h9.04v2.08h-9.04zM478.5 588.05h9.04v2.08h-9.04zM505.7 590.10h9.04v2.08h-9.04zM568.9 590.10h9.04v2.08h-9.04zM469.5 594.21h9.04v2.08h-9.04zM568.9 598.32h9.04v2.08h-9.04zM505.7 606.54h9.04v2.08h-9.04zM478.5 612.70h9.04v2.08h-9.04zM505.7 622.97h9.04v2.08h-9.04zM541.8 625.02h9.04v2.08h-9.04zM596.1 627.08h9.04v2.08h-9.04zM469.5 633.24h9.04v2.08h-9.04zM559.9 633.24h9.04v2.08h-9.04zM568.9 635.30h9.04v2.08h-9.04zM505.7 637.35h9.04v2.08h-9.04zM505.7 639.40h9.04v2.08h-9.04zM541.8 641.46h9.04v2.08h-9.04zM559.9 641.46h9.04v2.08h-9.04zM514.7 645.57h9.04v2.08h-9.04zM550.9 649.67h9.04v2.08h-9.04zM541.8 657.89h9.04v2.08h-9.04zM469.5 659.95h9.04v2.08h-9.04zM478.5 664.05h9.04v2.08h-9.04zM487.6 664.05h9.04v2.08h-9.04zM559.9 666.11h9.04v2.08h-9.04zM478.5 668.16h9.04v2.08h-9.04zM523.7 668.16h9.04v2.08h-9.04zM568.9 668.16h9.04v2.08h-9.04zM550.9 670.22h9.04v2.08h-9.04zM496.6 672.27h9.04v2.08h-9.04zM487.6 674.32h9.04v2.08h-9.04zM496.6 674.32h9.04v2.08h-9.04zM514.7 676.38h9.04v2.08h-9.04zM550.9 676.38h9.04v2.08h-9.04zM523.7 678.43h9.04v2.08h-9.04zM523.7 680.49h9.04v2.08h-9.04zM550.9 680.49h9.04v2.08h-9.04zM550.9 682.54h9.04v2.08h-9.04zM559.9 682.54h9.04v2.08h-9.04zM478.5 686.65h9.04v2.08h-9.04zM550.9 686.65h9.04v2.08h-9.04zM478.5 694.87h9.04v2.08h-9.04zM514.7 696.92h9.04v2.08h-9.04zM487.6 701.03h9.04v2.08h-9.04zM514.7 709.25h9.04v2.08h-9.04z" fill="#00893f"/>
<path d="M641.3 466.85h9.04v2.08h-9.04zM659.3 466.85h9.04v2.08h-9.04zM632.2 468.91h9.04v2.08h-9.04zM623.2 470.96h9.04v2.08h-9.04zM632.2 470.96h9.04v2.08h-9.04zM632.2 475.07h9.04v2.08h-9.04zM523.7 479.18h9.04v2.08h-9.04zM650.3 483.29h9.04v2.08h-9.04zM659.3 485.34h9.04v2.08h-9.04zM605.1 489.45h9.04v2.08h-9.04zM632.2 489.45h9.04v2.08h-9.04zM641.3 489.45h9.04v2.08h-9.04zM623.2 491.50h9.04v2.08h-9.04zM659.3 491.50h9.04v2.08h-9.04zM659.3 493.56h9.04v2.08h-9.04zM659.3 505.88h9.04v2.08h-9.04zM632.2 507.94h9.04v2.08h-9.04zM668.4 509.99h9.04v2.08h-9.04zM677.4 512.05h9.04v2.08h-9.04zM596.1 516.15h9.04v2.08h-9.04zM650.3 518.21h9.04v2.08h-9.04zM641.3 522.32h9.04v2.08h-9.04zM623.2 524.37h9.04v2.08h-9.04zM605.1 526.42h9.04v2.08h-9.04zM641.3 526.42h9.04v2.08h-9.04zM650.3 528.48h9.04v2.08h-9.04zM650.3 532.59h9.04v2.08h-9.04zM587.0 538.75h9.04v2.08h-9.04zM650.3 546.97h9.04v2.08h-9.04zM632.2 553.13h9.04v2.08h-9.04zM478.5 555.18h9.04v2.08h-9.04zM523.7 555.18h9.04v2.08h-9.04zM478.5 559.29h9.04v2.08h-9.04zM505.7 561.35h9.04v2.08h-9.04zM505.7 563.40h9.04v2.08h-9.04zM541.8 563.40h9.04v2.08h-9.04zM550.9 563.40h9.04v2.08h-9.04zM514.7 567.51h9.04v2.08h-9.04zM559.9 569.56h9.04v2.08h-9.04zM487.6 573.67h9.04v2.08h-9.04zM496.6 573.67h9.04v2.08h-9.04zM550.9 577.78h9.04v2.08h-9.04zM559.9 577.78h9.04v2.08h-9.04zM505.7 586.00h9.04v2.08h-9.04zM559.9 590.10h9.04v2.08h-9.04zM568.9 594.21h9.04v2.08h-9.04zM496.6 598.32h9.04v2.08h-9.04zM514.7 598.32h9.04v2.08h-9.04zM496.6 600.38h9.04v2.08h-9.04zM514.7 600.38h9.04v2.08h-9.04zM532.8 600.38h9.04v2.08h-9.04zM487.6 612.70h9.04v2.08h-9.04zM532.8 612.70h9.04v2.08h-9.04zM496.6 614.75h9.04v2.08h-9.04zM478.5 616.81h9.04v2.08h-9.04zM541.8 616.81h9.04v2.08h-9.04zM550.9 616.81h9.04v2.08h-9.04zM469.5 622.97h9.04v2.08h-9.04zM478.5 629.13h9.04v2.08h-9.04zM469.5 631.19h9.04v2.08h-9.04zM478.5 633.24h9.04v2.08h-9.04zM505.7 635.30h9.04v2.08h-9.04zM541.8 635.30h9.04v2.08h-9.04zM478.5 637.35h9.04v2.08h-9.04zM568.9 637.35h9.04v2.08h-9.04zM523.7 641.46h9.04v2.08h-9.04zM550.9 641.46h9.04v2.08h-9.04zM505.7 643.51h9.04v2.08h-9.04zM541.8 643.51h9.04v2.08h-9.04zM496.6 647.62h9.04v2.08h-9.04zM541.8 647.62h9.04v2.08h-9.04zM487.6 662.00h9.04v2.08h-9.04zM550.9 662.00h9.04v2.08h-9.04zM596.1 662.00h9.04v2.08h-9.04zM469.5 666.11h9.04v2.08h-9.04zM532.8 666.11h9.04v2.08h-9.04zM469.5 670.22h9.04v2.08h-9.04zM478.5 670.22h9.04v2.08h-9.04zM487.6 672.27h9.04v2.08h-9.04zM514.7 674.32h9.04v2.08h-9.04zM541.8 674.32h9.04v2.08h-9.04zM523.7 676.38h9.04v2.08h-9.04zM677.4 678.43h9.04v2.08h-9.04zM532.8 682.54h9.04v2.08h-9.04zM568.9 684.60h9.04v2.08h-9.04zM514.7 692.81h9.04v2.08h-9.04zM496.6 694.87h9.04v2.08h-9.04zM523.7 698.97h9.04v2.08h-9.04zM541.8 703.08h9.04v2.08h-9.04zM496.6 705.14h9.04v2.08h-9.04zM514.7 707.19h9.04v2.08h-9.04z" fill="#007a38"/>
<path d="M632.2 464.80h9.04v2.08h-9.04zM632.2 466.85h9.04v2.08h-9.04zM641.3 470.96h9.04v2.08h-9.04zM623.2 473.02h9.04v2.08h-9.04zM650.3 475.07h9.04v2.08h-9.04zM523.7 477.12h9.04v2.08h-9.04zM614.1 481.23h9.04v2.08h-9.04zM650.3 481.23h9.04v2.08h-9.04zM605.1 485.34h9.04v2.08h-9.04zM632.2 485.34h9.04v2.08h-9.04zM650.3 487.40h9.04v2.08h-9.04zM677.4 499.72h9.04v2.08h-9.04zM623.2 501.77h9.04v2.08h-9.04zM587.0 503.83h9.04v2.08h-9.04zM596.1 503.83h9.04v2.08h-9.04zM605.1 503.83h9.04v2.08h-9.04zM632.2 509.99h9.04v2.08h-9.04zM587.0 516.15h9.04v2.08h-9.04zM623.2 520.26h9.04v2.08h-9.04zM650.3 526.42h9.04v2.08h-9.04zM614.1 528.48h9.04v2.08h-9.04zM623.2 528.48h9.04v2.08h-9.04zM659.3 530.53h9.04v2.08h-9.04zM632.2 540.80h9.04v2.08h-9.04zM632.2 546.97h9.04v2.08h-9.04zM641.3 551.08h9.04v2.08h-9.04zM559.9 555.18h9.04v2.08h-9.04zM514.7 561.35h9.04v2.08h-9.04zM532.8 561.35h9.04v2.08h-9.04zM469.5 565.45h9.04v2.08h-9.04zM514.7 565.45h9.04v2.08h-9.04zM514.7 569.56h9.04v2.08h-9.04zM514.7 571.62h9.04v2.08h-9.04zM505.7 577.78h9.04v2.08h-9.04zM487.6 579.83h9.04v2.08h-9.04zM505.7 579.83h9.04v2.08h-9.04zM478.5 581.89h9.04v2.08h-9.04zM487.6 581.89h9.04v2.08h-9.04zM496.6 581.89h9.04v2.08h-9.04zM505.7 581.89h9.04v2.08h-9.04zM514.7 581.89h9.04v2.08h-9.04zM514.7 586.00h9.04v2.08h-9.04zM523.7 588.05h9.04v2.08h-9.04zM469.5 592.16h9.04v2.08h-9.04zM505.7 592.16h9.04v2.08h-9.04zM532.8 594.21h9.04v2.08h-9.04zM559.9 594.21h9.04v2.08h-9.04zM469.5 600.38h9.04v2.08h-9.04zM487.6 600.38h9.04v2.08h-9.04zM505.7 602.43h9.04v2.08h-9.04zM469.5 604.48h9.04v2.08h-9.04zM632.2 606.54h9.04v2.08h-9.04zM559.9 610.65h9.04v2.08h-9.04zM568.9 610.65h9.04v2.08h-9.04zM541.8 614.75h9.04v2.08h-9.04zM496.6 616.81h9.04v2.08h-9.04zM496.6 618.86h9.04v2.08h-9.04zM568.9 618.86h9.04v2.08h-9.04zM568.9 620.92h9.04v2.08h-9.04zM478.5 622.97h9.04v2.08h-9.04zM514.7 625.02h9.04v2.08h-9.04zM523.7 631.19h9.04v2.08h-9.04zM469.5 635.30h9.04v2.08h-9.04zM478.5 639.40h9.04v2.08h-9.04zM523.7 639.40h9.04v2.08h-9.04zM568.9 639.40h9.04v2.08h-9.04zM568.9 641.46h9.04v2.08h-9.04zM478.5 643.51h9.04v2.08h-9.04zM469.5 645.57h9.04v2.08h-9.04zM532.8 645.57h9.04v2.08h-9.04zM469.5 647.62h9.04v2.08h-9.04zM523.7 649.67h9.04v2.08h-9.04zM559.9 651.73h9.04v2.08h-9.04zM550.9 653.78h9.04v2.08h-9.04zM559.9 653.78h9.04v2.08h-9.04zM469.5 655.84h9.04v2.08h-9.04zM550.9 655.84h9.04v2.08h-9.04zM559.9 655.84h9.04v2.08h-9.04zM478.5 662.00h9.04v2.08h-9.04zM677.4 662.00h9.04v2.08h-9.04zM487.6 666.11h9.04v2.08h-9.04zM487.6 670.22h9.04v2.08h-9.04zM523.7 670.22h9.04v2.08h-9.04zM532.8 670.22h9.04v2.08h-9.04zM541.8 672.27h9.04v2.08h-9.04zM478.5 674.32h9.04v2.08h-9.04zM523.7 674.32h9.04v2.08h-9.04zM532.8 676.38h9.04v2.08h-9.04zM532.8 678.43h9.04v2.08h-9.04zM550.9 678.43h9.04v2.08h-9.04zM478.5 684.60h9.04v2.08h-9.04zM514.7 684.60h9.04v2.08h-9.04zM532.8 688.70h9.04v2.08h-9.04zM541.8 692.81h9.04v2.08h-9.04zM496.6 696.92h9.04v2.08h-9.04zM559.9 696.92h9.04v2.08h-9.04zM514.7 698.97h9.04v2.08h-9.04zM514.7 703.08h9.04v2.08h-9.04zM568.9 703.08h9.04v2.08h-9.04zM487.6 705.14h9.04v2.08h-9.04zM496.6 707.19h9.04v2.08h-9.04zM659.3 709.25h9.04v2.08h-9.04z" fill="#006b31"/>
<path d="M623.2 464.80h9.04v2.08h-9.04zM596.1 466.85h9.04v2.08h-9.04zM614.1 466.85h9.04v2.08h-9.04zM677.4 466.85h9.04v2.08h-9.04zM587.0 468.91h9.04v2.08h-9.04zM614.1 473.02h9.04v2.08h-9.04zM614.1 475.07h9.04v2.08h-9.04zM605.1 479.18h9.04v2.08h-9.04zM587.0 481.23h9.04v2.08h-9.04zM605.1 483.29h9.04v2.08h-9.04zM614.1 483.29h9.04v2.08h-9.04zM668.4 483.29h9.04v2.08h-9.04zM632.2 487.40h9.04v2.08h-9.04zM578.0 491.50h9.04v2.08h-9.04zM587.0 491.50h9.04v2.08h-9.04zM668.4 491.50h9.04v2.08h-9.04zM650.3 493.56h9.04v2.08h-9.04zM596.1 495.61h9.04v2.08h-9.04zM623.2 495.61h9.04v2.08h-9.04zM632.2 495.61h9.04v2.08h-9.04zM659.3 497.67h9.04v2.08h-9.04zM623.2 499.72h9.04v2.08h-9.04zM623.2 503.83h9.04v2.08h-9.04zM605.1 505.88h9.04v2.08h-9.04zM605.1 507.94h9.04v2.08h-9.04zM578.0 512.05h9.04v2.08h-9.04zM632.2 512.05h9.04v2.08h-9.04zM668.4 512.05h9.04v2.08h-9.04zM632.2 514.10h9.04v2.08h-9.04zM659.3 514.10h9.04v2.08h-9.04zM668.4 514.10h9.04v2.08h-9.04zM632.2 516.15h9.04v2.08h-9.04zM587.0 518.21h9.04v2.08h-9.04zM668.4 518.21h9.04v2.08h-9.04zM559.9 522.32h9.04v2.08h-9.04zM596.1 524.37h9.04v2.08h-9.04zM641.3 524.37h9.04v2.08h-9.04zM623.2 526.42h9.04v2.08h-9.04zM559.9 530.53h9.04v2.08h-9.04zM632.2 530.53h9.04v2.08h-9.04zM632.2 536.70h9.04v2.08h-9.04zM632.2 538.75h9.04v2.08h-9.04zM650.3 538.75h9.04v2.08h-9.04zM596.1 542.86h9.04v2.08h-9.04zM605.1 546.97h9.04v2.08h-9.04zM668.4 546.97h9.04v2.08h-9.04zM568.9 555.18h9.04v2.08h-9.04zM523.7 557.24h9.04v2.08h-9.04zM496.6 559.29h9.04v2.08h-9.04zM559.9 559.29h9.04v2.08h-9.04zM550.9 565.45h9.04v2.08h-9.04zM487.6 567.51h9.04v2.08h-9.04zM559.9 567.51h9.04v2.08h-9.04zM478.5 569.56h9.04v2.08h-9.04zM478.5 571.62h9.04v2.08h-9.04zM487.6 575.73h9.04v2.08h-9.04zM523.7 579.83h9.04v2.08h-9.04zM568.9 579.83h9.04v2.08h-9.04zM469.5 583.94h9.04v2.08h-9.04zM523.7 583.94h9.04v2.08h-9.04zM559.9 583.94h9.04v2.08h-9.04zM523.7 586.00h9.04v2.08h-9.04zM559.9 586.00h9.04v2.08h-9.04zM623.2 586.00h9.04v2.08h-9.04zM505.7 588.05h9.04v2.08h-9.04zM478.5 590.10h9.04v2.08h-9.04zM532.8 590.10h9.04v2.08h-9.04zM478.5 592.16h9.04v2.08h-9.04zM523.7 594.21h9.04v2.08h-9.04zM487.6 596.27h9.04v2.08h-9.04zM568.9 596.27h9.04v2.08h-9.04zM469.5 598.32h9.04v2.08h-9.04zM523.7 598.32h9.04v2.08h-9.04zM487.6 602.43h9.04v2.08h-9.04zM532.8 602.43h9.04v2.08h-9.04zM550.9 602.43h9.04v2.08h-9.04zM559.9 604.48h9.04v2.08h-9.04zM596.1 606.54h9.04v2.08h-9.04zM550.9 608.59h9.04v2.08h-9.04zM568.9 612.70h9.04v2.08h-9.04zM505.7 616.81h9.04v2.08h-9.04zM469.5 618.86h9.04v2.08h-9.04zM514.7 622.97h9.04v2.08h-9.04zM541.8 622.97h9.04v2.08h-9.04zM596.1 625.02h9.04v2.08h-9.04zM469.5 641.46h9.04v2.08h-9.04zM478.5 645.57h9.04v2.08h-9.04zM550.9 647.62h9.04v2.08h-9.04zM559.9 647.62h9.04v2.08h-9.04zM559.9 649.67h9.04v2.08h-9.04zM568.9 649.67h9.04v2.08h-9.04zM541.8 653.78h9.04v2.08h-9.04zM496.6 655.84h9.04v2.08h-9.04zM568.9 664.05h9.04v2.08h-9.04zM541.8 666.11h9.04v2.08h-9.04zM568.9 666.11h9.04v2.08h-9.04zM478.5 672.27h9.04v2.08h-9.04zM514.7 672.27h9.04v2.08h-9.04zM532.8 672.27h9.04v2.08h-9.04zM632.2 674.32h9.04v2.08h-9.04zM514.7 678.43h9.04v2.08h-9.04zM487.6 682.54h9.04v2.08h-9.04zM541.8 684.60h9.04v2.08h-9.04zM559.9 686.65h9.04v2.08h-9.04zM568.9 686.65h9.04v2.08h-9.04zM514.7 688.70h9.04v2.08h-9.04zM496.6 692.81h9.04v2.08h-9.04zM532.8 692.81h9.04v2.08h-9.04zM550.9 694.87h9.04v2.08h-9.04zM623.2 694.87h9.04v2.08h-9.04zM478.5 696.92h9.04v2.08h-9.04zM505.7 696.92h9.04v2.08h-9.04zM487.6 703.08h9.04v2.08h-9.04zM532.8 703.08h9.04v2.08h-9.04zM505.7 705.14h9.04v2.08h-9.04zM541.8 705.14h9.04v2.08h-9.04zM541.8 707.19h9.04v2.08h-9.04zM568.9 707.19h9.04v2.08h-9.04zM469.5 709.25h9.04v2.08h-9.04zM505.7 709.25h9.04v2.08h-9.04z" fill="#005b2a"/>
<path d="M623.2 466.85h9.04v2.08h-9.04zM614.1 468.91h9.04v2.08h-9.04zM650.3 468.91h9.04v2.08h-9.04zM659.3 468.91h9.04v2.08h-9.04zM614.1 470.96h9.04v2.08h-9.04zM578.0 473.02h9.04v2.08h-9.04zM623.2 475.07h9.04v2.08h-9.04zM659.3 481.23h9.04v2.08h-9.04zM614.1 485.34h9.04v2.08h-9.04zM668.4 487.40h9.04v2.08h-9.04zM568.9 491.50h9.04v2.08h-9.04zM632.2 491.50h9.04v2.08h-9.04zM568.9 493.56h9.04v2.08h-9.04zM578.0 493.56h9.04v2.08h-9.04zM677.4 493.56h9.04v2.08h-9.04zM596.1 497.67h9.04v2.08h-9.04zM668.4 497.67h9.04v2.08h-9.04zM677.4 497.67h9.04v2.08h-9.04zM605.1 499.72h9.04v2.08h-9.04zM605.1 501.77h9.04v2.08h-9.04zM632.2 501.77h9.04v2.08h-9.04zM632.2 503.83h9.04v2.08h-9.04zM632.2 505.88h9.04v2.08h-9.04zM587.0 507.94h9.04v2.08h-9.04zM623.2 507.94h9.04v2.08h-9.04zM650.3 509.99h9.04v2.08h-9.04zM659.3 509.99h9.04v2.08h-9.04zM578.0 514.10h9.04v2.08h-9.04zM496.6 516.15h9.04v2.08h-9.04zM659.3 516.15h9.04v2.08h-9.04zM596.1 518.21h9.04v2.08h-9.04zM578.0 520.26h9.04v2.08h-9.04zM650.3 524.37h9.04v2.08h-9.04zM578.0 526.42h9.04v2.08h-9.04zM596.1 526.42h9.04v2.08h-9.04zM596.1 528.48h9.04v2.08h-9.04zM559.9 532.59h9.04v2.08h-9.04zM587.0 536.70h9.04v2.08h-9.04zM659.3 536.70h9.04v2.08h-9.04zM668.4 536.70h9.04v2.08h-9.04zM587.0 540.80h9.04v2.08h-9.04zM596.1 540.80h9.04v2.08h-9.04zM605.1 542.86h9.04v2.08h-9.04zM632.2 542.86h9.04v2.08h-9.04zM596.1 544.91h9.04v2.08h-9.04zM605.1 544.91h9.04v2.08h-9.04zM650.3 544.91h9.04v2.08h-9.04zM668.4 544.91h9.04v2.08h-9.04zM677.4 544.91h9.04v2.08h-9.04zM587.0 546.97h9.04v2.08h-9.04zM596.1 546.97h9.04v2.08h-9.04zM578.0 549.02h9.04v2.08h-9.04zM641.3 549.02h9.04v2.08h-9.04zM641.3 553.13h9.04v2.08h-9.04zM532.8 555.18h9.04v2.08h-9.04zM532.8 557.24h9.04v2.08h-9.04zM469.5 559.29h9.04v2.08h-9.04zM514.7 559.29h9.04v2.08h-9.04zM469.5 561.35h9.04v2.08h-9.04zM478.5 565.45h9.04v2.08h-9.04zM532.8 565.45h9.04v2.08h-9.04zM568.9 567.51h9.04v2.08h-9.04zM487.6 569.56h9.04v2.08h-9.04zM496.6 571.62h9.04v2.08h-9.04zM668.4 571.62h9.04v2.08h-9.04zM505.7 573.67h9.04v2.08h-9.04zM550.9 575.73h9.04v2.08h-9.04zM523.7 577.78h9.04v2.08h-9.04zM568.9 577.78h9.04v2.08h-9.04zM541.8 583.94h9.04v2.08h-9.04zM559.9 588.05h9.04v2.08h-9.04zM523.7 590.10h9.04v2.08h-9.04zM496.6 594.21h9.04v2.08h-9.04zM469.5 596.27h9.04v2.08h-9.04zM550.9 598.32h9.04v2.08h-9.04zM505.7 600.38h9.04v2.08h-9.04zM596.1 602.43h9.04v2.08h-9.04zM559.9 606.54h9.04v2.08h-9.04zM541.8 608.59h9.04v2.08h-9.04zM559.9 608.59h9.04v2.08h-9.04zM632.2 608.59h9.04v2.08h-9.04zM541.8 612.70h9.04v2.08h-9.04zM532.8 614.75h9.04v2.08h-9.04zM505.7 618.86h9.04v2.08h-9.04zM550.9 618.86h9.04v2.08h-9.04zM559.9 618.86h9.04v2.08h-9.04zM514.7 620.92h9.04v2.08h-9.04zM541.8 620.92h9.04v2.08h-9.04zM550.9 620.92h9.04v2.08h-9.04zM641.3 620.92h9.04v2.08h-9.04zM469.5 625.02h9.04v2.08h-9.04zM550.9 625.02h9.04v2.08h-9.04zM469.5 627.08h9.04v2.08h-9.04zM559.9 629.13h9.04v2.08h-9.04zM550.9 631.19h9.04v2.08h-9.04zM550.9 633.24h9.04v2.08h-9.04zM550.9 635.30h9.04v2.08h-9.04zM523.7 637.35h9.04v2.08h-9.04zM496.6 639.40h9.04v2.08h-9.04zM514.7 639.40h9.04v2.08h-9.04zM541.8 645.57h9.04v2.08h-9.04zM550.9 645.57h9.04v2.08h-9.04zM568.9 645.57h9.04v2.08h-9.04zM505.7 647.62h9.04v2.08h-9.04zM496.6 649.67h9.04v2.08h-9.04zM541.8 651.73h9.04v2.08h-9.04zM568.9 651.73h9.04v2.08h-9.04zM505.7 653.78h9.04v2.08h-9.04zM668.4 655.84h9.04v2.08h-9.04zM469.5 657.89h9.04v2.08h-9.04zM496.6 657.89h9.04v2.08h-9.04zM514.7 657.89h9.04v2.08h-9.04zM514.7 659.95h9.04v2.08h-9.04zM469.5 664.05h9.04v2.08h-9.04zM623.2 664.05h9.04v2.08h-9.04zM496.6 666.11h9.04v2.08h-9.04zM505.7 666.11h9.04v2.08h-9.04zM469.5 668.16h9.04v2.08h-9.04zM505.7 668.16h9.04v2.08h-9.04zM550.9 674.32h9.04v2.08h-9.04zM469.5 678.43h9.04v2.08h-9.04zM559.9 678.43h9.04v2.08h-9.04zM659.3 678.43h9.04v2.08h-9.04zM559.9 680.49h9.04v2.08h-9.04zM532.8 684.60h9.04v2.08h-9.04zM523.7 686.65h9.04v2.08h-9.04zM541.8 688.70h9.04v2.08h-9.04zM568.9 688.70h9.04v2.08h-9.04zM478.5 690.76h9.04v2.08h-9.04zM496.6 690.76h9.04v2.08h-9.04zM514.7 690.76h9.04v2.08h-9.04zM550.9 692.81h9.04v2.08h-9.04zM487.6 696.92h9.04v2.08h-9.04zM532.8 696.92h9.04v2.08h-9.04zM469.5 698.97h9.04v2.08h-9.04zM550.9 698.97h9.04v2.08h-9.04zM559.9 698.97h9.04v2.08h-9.04zM568.9 698.97h9.04v2.08h-9.04zM568.9 701.03h9.04v2.08h-9.04zM469.5 703.08h9.04v2.08h-9.04zM505.7 703.08h9.04v2.08h-9.04zM550.9 703.08h9.04v2.08h-9.04zM469.5 705.14h9.04v2.08h-9.04zM487.6 709.25h9.04v2.08h-9.04zM523.7 709.25h9.04v2.08h-9.04z" fill="#004c23"/>
<path d="M596.1 464.80h9.04v2.08h-9.04zM614.1 464.80h9.04v2.08h-9.04zM659.3 464.80h9.04v2.08h-9.04zM596.1 468.91h9.04v2.08h-9.04zM623.2 468.91h9.04v2.08h-9.04zM596.1 470.96h9.04v2.08h-9.04zM632.2 473.02h9.04v2.08h-9.04zM578.0 475.07h9.04v2.08h-9.04zM677.4 475.07h9.04v2.08h-9.04zM623.2 477.12h9.04v2.08h-9.04zM650.3 479.18h9.04v2.08h-9.04zM469.5 481.23h9.04v2.08h-9.04zM568.9 481.23h9.04v2.08h-9.04zM605.1 481.23h9.04v2.08h-9.04zM641.3 487.40h9.04v2.08h-9.04zM677.4 487.40h9.04v2.08h-9.04zM568.9 489.45h9.04v2.08h-9.04zM614.1 489.45h9.04v2.08h-9.04zM668.4 489.45h9.04v2.08h-9.04zM596.1 493.56h9.04v2.08h-9.04zM623.2 493.56h9.04v2.08h-9.04zM668.4 493.56h9.04v2.08h-9.04zM578.0 495.61h9.04v2.08h-9.04zM614.1 495.61h9.04v2.08h-9.04zM668.4 495.61h9.04v2.08h-9.04zM623.2 497.67h9.04v2.08h-9.04zM668.4 499.72h9.04v2.08h-9.04zM623.2 505.88h9.04v2.08h-9.04zM650.3 507.94h9.04v2.08h-9.04zM659.3 507.94h9.04v2.08h-9.04zM668.4 507.94h9.04v2.08h-9.04zM596.1 509.99h9.04v2.08h-9.04zM623.2 514.10h9.04v2.08h-9.04zM641.3 514.10h9.04v2.08h-9.04zM578.0 516.15h9.04v2.08h-9.04zM650.3 516.15h9.04v2.08h-9.04zM677.4 516.15h9.04v2.08h-9.04zM632.2 518.21h9.04v2.08h-9.04zM650.3 520.26h9.04v2.08h-9.04zM623.2 522.32h9.04v2.08h-9.04zM650.3 522.32h9.04v2.08h-9.04zM659.3 522.32h9.04v2.08h-9.04zM550.9 530.53h9.04v2.08h-9.04zM614.1 530.53h9.04v2.08h-9.04zM650.3 530.53h9.04v2.08h-9.04zM677.4 530.53h9.04v2.08h-9.04zM632.2 534.64h9.04v2.08h-9.04zM605.1 540.80h9.04v2.08h-9.04zM614.1 540.80h9.04v2.08h-9.04zM614.1 542.86h9.04v2.08h-9.04zM587.0 544.91h9.04v2.08h-9.04zM614.1 544.91h9.04v2.08h-9.04zM469.5 546.97h9.04v2.08h-9.04zM478.5 546.97h9.04v2.08h-9.04zM623.2 546.97h9.04v2.08h-9.04zM596.1 551.08h9.04v2.08h-9.04zM668.4 551.08h9.04v2.08h-9.04zM596.1 553.13h9.04v2.08h-9.04zM668.4 553.13h9.04v2.08h-9.04zM523.7 559.29h9.04v2.08h-9.04zM532.8 559.29h9.04v2.08h-9.04zM469.5 563.40h9.04v2.08h-9.04zM478.5 563.40h9.04v2.08h-9.04zM523.7 563.40h9.04v2.08h-9.04zM532.8 563.40h9.04v2.08h-9.04zM541.8 565.45h9.04v2.08h-9.04zM559.9 565.45h9.04v2.08h-9.04zM478.5 567.51h9.04v2.08h-9.04zM541.8 567.51h9.04v2.08h-9.04zM550.9 567.51h9.04v2.08h-9.04zM469.5 571.62h9.04v2.08h-9.04zM523.7 573.67h9.04v2.08h-9.04zM469.5 577.78h9.04v2.08h-9.04zM523.7 581.89h9.04v2.08h-9.04zM550.9 581.89h9.04v2.08h-9.04zM514.7 588.05h9.04v2.08h-9.04zM550.9 588.05h9.04v2.08h-9.04zM568.9 588.05h9.04v2.08h-9.04zM623.2 588.05h9.04v2.08h-9.04zM514.7 590.10h9.04v2.08h-9.04zM523.7 592.16h9.04v2.08h-9.04zM478.5 594.21h9.04v2.08h-9.04zM487.6 594.21h9.04v2.08h-9.04zM550.9 594.21h9.04v2.08h-9.04zM514.7 596.27h9.04v2.08h-9.04zM559.9 598.32h9.04v2.08h-9.04zM532.8 604.48h9.04v2.08h-9.04zM469.5 606.54h9.04v2.08h-9.04zM550.9 606.54h9.04v2.08h-9.04zM532.8 608.59h9.04v2.08h-9.04zM587.0 610.65h9.04v2.08h-9.04zM632.2 610.65h9.04v2.08h-9.04zM523.7 625.02h9.04v2.08h-9.04zM559.9 625.02h9.04v2.08h-9.04zM478.5 627.08h9.04v2.08h-9.04zM505.7 629.13h9.04v2.08h-9.04zM514.7 629.13h9.04v2.08h-9.04zM541.8 629.13h9.04v2.08h-9.04zM532.8 633.24h9.04v2.08h-9.04zM568.9 633.24h9.04v2.08h-9.04zM514.7 637.35h9.04v2.08h-9.04zM541.8 639.40h9.04v2.08h-9.04zM587.0 641.46h9.04v2.08h-9.04zM469.5 643.51h9.04v2.08h-9.04zM568.9 643.51h9.04v2.08h-9.04zM505.7 651.73h9.04v2.08h-9.04zM587.0 651.73h9.04v2.08h-9.04zM496.6 653.78h9.04v2.08h-9.04zM559.9 657.89h9.04v2.08h-9.04zM677.4 657.89h9.04v2.08h-9.04zM541.8 659.95h9.04v2.08h-9.04zM587.0 659.95h9.04v2.08h-9.04zM505.7 662.00h9.04v2.08h-9.04zM559.9 664.05h9.04v2.08h-9.04zM677.4 664.05h9.04v2.08h-9.04zM514.7 668.16h9.04v2.08h-9.04zM541.8 668.16h9.04v2.08h-9.04zM568.9 670.22h9.04v2.08h-9.04zM469.5 672.27h9.04v2.08h-9.04zM496.6 676.38h9.04v2.08h-9.04zM632.2 676.38h9.04v2.08h-9.04zM659.3 676.38h9.04v2.08h-9.04zM514.7 680.49h9.04v2.08h-9.04zM541.8 682.54h9.04v2.08h-9.04zM505.7 690.76h9.04v2.08h-9.04zM532.8 694.87h9.04v2.08h-9.04zM550.9 696.92h9.04v2.08h-9.04zM487.6 698.97h9.04v2.08h-9.04zM505.7 701.03h9.04v2.08h-9.04zM550.9 701.03h9.04v2.08h-9.04zM559.9 701.03h9.04v2.08h-9.04zM559.9 703.08h9.04v2.08h-9.04zM478.5 705.14h9.04v2.08h-9.04zM523.7 705.14h9.04v2.08h-9.04zM505.7 707.19h9.04v2.08h-9.04zM523.7 707.19h9.04v2.08h-9.04zM550.9 707.19h9.04v2.08h-9.04zM550.9 709.25h9.04v2.08h-9.04z" fill="#003d1c"/>
<path d="M587.0 464.80h9.04v2.08h-9.04zM641.3 464.80h9.04v2.08h-9.04zM650.3 464.80h9.04v2.08h-9.04zM668.4 464.80h9.04v2.08h-9.04zM650.3 466.85h9.04v2.08h-9.04zM578.0 468.91h9.04v2.08h-9.04zM659.3 470.96h9.04v2.08h-9.04zM659.3 477.12h9.04v2.08h-9.04zM469.5 479.18h9.04v2.08h-9.04zM632.2 479.18h9.04v2.08h-9.04zM568.9 483.29h9.04v2.08h-9.04zM578.0 483.29h9.04v2.08h-9.04zM641.3 485.34h9.04v2.08h-9.04zM478.5 487.40h9.04v2.08h-9.04zM559.9 487.40h9.04v2.08h-9.04zM568.9 487.40h9.04v2.08h-9.04zM596.1 491.50h9.04v2.08h-9.04zM605.1 491.50h9.04v2.08h-9.04zM605.1 493.56h9.04v2.08h-9.04zM605.1 495.61h9.04v2.08h-9.04zM632.2 497.67h9.04v2.08h-9.04zM614.1 499.72h9.04v2.08h-9.04zM632.2 499.72h9.04v2.08h-9.04zM650.3 499.72h9.04v2.08h-9.04zM587.0 501.77h9.04v2.08h-9.04zM614.1 501.77h9.04v2.08h-9.04zM677.4 509.99h9.04v2.08h-9.04zM596.1 512.05h9.04v2.08h-9.04zM623.2 512.05h9.04v2.08h-9.04zM587.0 514.10h9.04v2.08h-9.04zM496.6 518.21h9.04v2.08h-9.04zM623.2 518.21h9.04v2.08h-9.04zM596.1 520.26h9.04v2.08h-9.04zM641.3 520.26h9.04v2.08h-9.04zM514.7 522.32h9.04v2.08h-9.04zM668.4 524.37h9.04v2.08h-9.04zM541.8 530.53h9.04v2.08h-9.04zM659.3 532.59h9.04v2.08h-9.04zM677.4 532.59h9.04v2.08h-9.04zM559.9 534.64h9.04v2.08h-9.04zM641.3 536.70h9.04v2.08h-9.04zM677.4 536.70h9.04v2.08h-9.04zM587.0 542.86h9.04v2.08h-9.04zM659.3 546.97h9.04v2.08h-9.04zM677.4 546.97h9.04v2.08h-9.04zM469.5 549.02h9.04v2.08h-9.04zM568.9 549.02h9.04v2.08h-9.04zM605.1 549.02h9.04v2.08h-9.04zM668.4 549.02h9.04v2.08h-9.04zM578.0 551.08h9.04v2.08h-9.04zM623.2 551.08h9.04v2.08h-9.04zM677.4 553.13h9.04v2.08h-9.04zM469.5 555.18h9.04v2.08h-9.04zM469.5 557.24h9.04v2.08h-9.04zM496.6 557.24h9.04v2.08h-9.04zM505.7 559.29h9.04v2.08h-9.04zM523.7 561.35h9.04v2.08h-9.04zM559.9 561.35h9.04v2.08h-9.04zM677.4 561.35h9.04v2.08h-9.04zM496.6 563.40h9.04v2.08h-9.04zM568.9 565.45h9.04v2.08h-9.04zM505.7 567.51h9.04v2.08h-9.04zM505.7 569.56h9.04v2.08h-9.04zM532.8 571.62h9.04v2.08h-9.04zM532.8 573.67h9.04v2.08h-9.04zM514.7 575.73h9.04v2.08h-9.04zM668.4 575.73h9.04v2.08h-9.04zM514.7 577.78h9.04v2.08h-9.04zM659.3 581.89h9.04v2.08h-9.04zM496.6 583.94h9.04v2.08h-9.04zM659.3 586.00h9.04v2.08h-9.04zM469.5 588.05h9.04v2.08h-9.04zM541.8 588.05h9.04v2.08h-9.04zM550.9 590.10h9.04v2.08h-9.04zM514.7 592.16h9.04v2.08h-9.04zM514.7 602.43h9.04v2.08h-9.04zM568.9 602.43h9.04v2.08h-9.04zM523.7 604.48h9.04v2.08h-9.04zM532.8 606.54h9.04v2.08h-9.04zM568.9 608.59h9.04v2.08h-9.04zM505.7 610.65h9.04v2.08h-9.04zM532.8 610.65h9.04v2.08h-9.04zM478.5 614.75h9.04v2.08h-9.04zM505.7 614.75h9.04v2.08h-9.04zM487.6 616.81h9.04v2.08h-9.04zM632.2 616.81h9.04v2.08h-9.04zM514.7 618.86h9.04v2.08h-9.04zM596.1 620.92h9.04v2.08h-9.04zM487.6 622.97h9.04v2.08h-9.04zM550.9 622.97h9.04v2.08h-9.04zM641.3 622.97h9.04v2.08h-9.04zM478.5 625.02h9.04v2.08h-9.04zM487.6 625.02h9.04v2.08h-9.04zM496.6 627.08h9.04v2.08h-9.04zM650.3 627.08h9.04v2.08h-9.04zM677.4 627.08h9.04v2.08h-9.04zM469.5 629.13h9.04v2.08h-9.04zM596.1 629.13h9.04v2.08h-9.04zM514.7 631.19h9.04v2.08h-9.04zM559.9 631.19h9.04v2.08h-9.04zM478.5 635.30h9.04v2.08h-9.04zM523.7 635.30h9.04v2.08h-9.04zM578.0 635.30h9.04v2.08h-9.04zM469.5 637.35h9.04v2.08h-9.04zM559.9 639.40h9.04v2.08h-9.04zM487.6 641.46h9.04v2.08h-9.04zM514.7 641.46h9.04v2.08h-9.04zM523.7 643.51h9.04v2.08h-9.04zM550.9 643.51h9.04v2.08h-9.04zM496.6 645.57h9.04v2.08h-9.04zM505.7 645.57h9.04v2.08h-9.04zM596.1 645.57h9.04v2.08h-9.04zM478.5 647.62h9.04v2.08h-9.04zM532.8 647.62h9.04v2.08h-9.04zM568.9 647.62h9.04v2.08h-9.04zM469.5 649.67h9.04v2.08h-9.04zM478.5 649.67h9.04v2.08h-9.04zM505.7 649.67h9.04v2.08h-9.04zM478.5 651.73h9.04v2.08h-9.04zM532.8 651.73h9.04v2.08h-9.04zM550.9 651.73h9.04v2.08h-9.04zM596.1 651.73h9.04v2.08h-9.04zM469.5 653.78h9.04v2.08h-9.04zM568.9 653.78h9.04v2.08h-9.04zM514.7 655.84h9.04v2.08h-9.04zM532.8 657.89h9.04v2.08h-9.04zM668.4 657.89h9.04v2.08h-9.04zM487.6 659.95h9.04v2.08h-9.04zM668.4 662.00h9.04v2.08h-9.04zM541.8 664.05h9.04v2.08h-9.04zM523.7 666.11h9.04v2.08h-9.04zM496.6 668.16h9.04v2.08h-9.04zM505.7 670.22h9.04v2.08h-9.04zM514.7 670.22h9.04v2.08h-9.04zM469.5 674.32h9.04v2.08h-9.04zM659.3 674.32h9.04v2.08h-9.04zM677.4 680.49h9.04v2.08h-9.04zM559.9 684.60h9.04v2.08h-9.04zM623.2 690.76h9.04v2.08h-9.04zM487.6 694.87h9.04v2.08h-9.04zM505.7 698.97h9.04v2.08h-9.04zM623.2 701.03h9.04v2.08h-9.04zM623.2 703.08h9.04v2.08h-9.04zM550.9 705.14h9.04v2.08h-9.04zM596.1 707.19h9.04v2.08h-9.04zM478.5 709.25h9.04v2.08h-9.04z" fill="#002d15"/>
<path d="M677.4 464.80h9.04v2.08h-9.04zM677.4 468.91h9.04v2.08h-9.04zM659.3 473.02h9.04v2.08h-9.04zM641.3 475.07h9.04v2.08h-9.04zM587.0 479.18h9.04v2.08h-9.04zM659.3 479.18h9.04v2.08h-9.04zM668.4 481.23h9.04v2.08h-9.04zM623.2 483.29h9.04v2.08h-9.04zM641.3 483.29h9.04v2.08h-9.04zM587.0 485.34h9.04v2.08h-9.04zM596.1 485.34h9.04v2.08h-9.04zM668.4 485.34h9.04v2.08h-9.04zM487.6 487.40h9.04v2.08h-9.04zM587.0 489.45h9.04v2.08h-9.04zM623.2 489.45h9.04v2.08h-9.04zM650.3 489.45h9.04v2.08h-9.04zM514.7 493.56h9.04v2.08h-9.04zM677.4 495.61h9.04v2.08h-9.04zM605.1 497.67h9.04v2.08h-9.04zM523.7 499.72h9.04v2.08h-9.04zM541.8 499.72h9.04v2.08h-9.04zM532.8 503.83h9.04v2.08h-9.04zM614.1 503.83h9.04v2.08h-9.04zM650.3 503.83h9.04v2.08h-9.04zM578.0 505.88h9.04v2.08h-9.04zM650.3 505.88h9.04v2.08h-9.04zM668.4 505.88h9.04v2.08h-9.04zM523.7 507.94h9.04v2.08h-9.04zM641.3 507.94h9.04v2.08h-9.04zM532.8 509.99h9.04v2.08h-9.04zM578.0 509.99h9.04v2.08h-9.04zM623.2 509.99h9.04v2.08h-9.04zM587.0 512.05h9.04v2.08h-9.04zM496.6 514.10h9.04v2.08h-9.04zM614.1 516.15h9.04v2.08h-9.04zM578.0 522.32h9.04v2.08h-9.04zM587.0 524.37h9.04v2.08h-9.04zM614.1 524.37h9.04v2.08h-9.04zM568.9 526.42h9.04v2.08h-9.04zM632.2 528.48h9.04v2.08h-9.04zM550.9 532.59h9.04v2.08h-9.04zM596.1 532.59h9.04v2.08h-9.04zM614.1 532.59h9.04v2.08h-9.04zM596.1 534.64h9.04v2.08h-9.04zM605.1 534.64h9.04v2.08h-9.04zM641.3 534.64h9.04v2.08h-9.04zM596.1 536.70h9.04v2.08h-9.04zM605.1 536.70h9.04v2.08h-9.04zM641.3 538.75h9.04v2.08h-9.04zM659.3 538.75h9.04v2.08h-9.04zM623.2 544.91h9.04v2.08h-9.04zM650.3 549.02h9.04v2.08h-9.04zM541.8 555.18h9.04v2.08h-9.04zM650.3 557.24h9.04v2.08h-9.04zM550.9 559.29h9.04v2.08h-9.04zM605.1 559.29h9.04v2.08h-9.04zM496.6 561.35h9.04v2.08h-9.04zM568.9 561.35h9.04v2.08h-9.04zM559.9 563.40h9.04v2.08h-9.04zM469.5 567.51h9.04v2.08h-9.04zM496.6 567.51h9.04v2.08h-9.04zM523.7 569.56h9.04v2.08h-9.04zM568.9 571.62h9.04v2.08h-9.04zM550.9 573.67h9.04v2.08h-9.04zM505.7 575.73h9.04v2.08h-9.04zM523.7 575.73h9.04v2.08h-9.04zM568.9 575.73h9.04v2.08h-9.04zM469.5 579.83h9.04v2.08h-9.04zM596.1 579.83h9.04v2.08h-9.04zM469.5 581.89h9.04v2.08h-9.04zM568.9 581.89h9.04v2.08h-9.04zM550.9 583.94h9.04v2.08h-9.04zM623.2 583.94h9.04v2.08h-9.04zM496.6 586.00h9.04v2.08h-9.04zM541.8 586.00h9.04v2.08h-9.04zM550.9 586.00h9.04v2.08h-9.04zM496.6 588.05h9.04v2.08h-9.04zM541.8 592.16h9.04v2.08h-9.04zM496.6 596.27h9.04v2.08h-9.04zM559.9 596.27h9.04v2.08h-9.04zM568.9 604.48h9.04v2.08h-9.04zM596.1 604.48h9.04v2.08h-9.04zM587.0 608.59h9.04v2.08h-9.04zM550.9 610.65h9.04v2.08h-9.04zM550.9 614.75h9.04v2.08h-9.04zM523.7 616.81h9.04v2.08h-9.04zM532.8 616.81h9.04v2.08h-9.04zM487.6 618.86h9.04v2.08h-9.04zM469.5 620.92h9.04v2.08h-9.04zM478.5 620.92h9.04v2.08h-9.04zM650.3 620.92h9.04v2.08h-9.04zM559.9 622.97h9.04v2.08h-9.04zM523.7 627.08h9.04v2.08h-9.04zM650.3 629.13h9.04v2.08h-9.04zM677.4 629.13h9.04v2.08h-9.04zM514.7 633.24h9.04v2.08h-9.04zM523.7 633.24h9.04v2.08h-9.04zM559.9 635.30h9.04v2.08h-9.04zM532.8 639.40h9.04v2.08h-9.04zM614.1 639.40h9.04v2.08h-9.04zM578.0 645.57h9.04v2.08h-9.04zM596.1 647.62h9.04v2.08h-9.04zM668.4 647.62h9.04v2.08h-9.04zM487.6 649.67h9.04v2.08h-9.04zM496.6 651.73h9.04v2.08h-9.04zM478.5 653.78h9.04v2.08h-9.04zM623.2 653.78h9.04v2.08h-9.04zM478.5 655.84h9.04v2.08h-9.04zM568.9 655.84h9.04v2.08h-9.04zM523.7 657.89h9.04v2.08h-9.04zM523.7 659.95h9.04v2.08h-9.04zM568.9 659.95h9.04v2.08h-9.04zM605.1 659.95h9.04v2.08h-9.04zM469.5 662.00h9.04v2.08h-9.04zM505.7 664.05h9.04v2.08h-9.04zM596.1 664.05h9.04v2.08h-9.04zM623.2 666.11h9.04v2.08h-9.04zM677.4 668.16h9.04v2.08h-9.04zM541.8 670.22h9.04v2.08h-9.04zM568.9 672.27h9.04v2.08h-9.04zM532.8 674.32h9.04v2.08h-9.04zM559.9 674.32h9.04v2.08h-9.04zM496.6 678.43h9.04v2.08h-9.04zM514.7 682.54h9.04v2.08h-9.04zM496.6 688.70h9.04v2.08h-9.04zM623.2 688.70h9.04v2.08h-9.04zM541.8 690.76h9.04v2.08h-9.04zM550.9 690.76h9.04v2.08h-9.04zM478.5 692.81h9.04v2.08h-9.04zM677.4 696.92h9.04v2.08h-9.04zM478.5 698.97h9.04v2.08h-9.04zM532.8 698.97h9.04v2.08h-9.04zM478.5 701.03h9.04v2.08h-9.04zM478.5 703.08h9.04v2.08h-9.04zM559.9 705.14h9.04v2.08h-9.04zM659.3 707.19h9.04v2.08h-9.04zM596.1 709.25h9.04v2.08h-9.04z" fill="#001e0e"/>
<path d="M487.6 466.85h9.04v2.08h-9.04zM487.6 468.91h9.04v2.08h-9.04zM650.3 470.96h9.04v2.08h-9.04zM541.8 473.02h9.04v2.08h-9.04zM587.0 475.07h9.04v2.08h-9.04zM596.1 475.07h9.04v2.08h-9.04zM568.9 477.12h9.04v2.08h-9.04zM605.1 477.12h9.04v2.08h-9.04zM623.2 479.18h9.04v2.08h-9.04zM478.5 483.29h9.04v2.08h-9.04zM496.6 483.29h9.04v2.08h-9.04zM469.5 487.40h9.04v2.08h-9.04zM623.2 487.40h9.04v2.08h-9.04zM632.2 493.56h9.04v2.08h-9.04zM587.0 499.72h9.04v2.08h-9.04zM478.5 503.83h9.04v2.08h-9.04zM559.9 514.10h9.04v2.08h-9.04zM532.8 516.15h9.04v2.08h-9.04zM623.2 516.15h9.04v2.08h-9.04zM668.4 516.15h9.04v2.08h-9.04zM677.4 518.21h9.04v2.08h-9.04zM587.0 520.26h9.04v2.08h-9.04zM632.2 520.26h9.04v2.08h-9.04zM659.3 520.26h9.04v2.08h-9.04zM668.4 520.26h9.04v2.08h-9.04zM677.4 520.26h9.04v2.08h-9.04zM614.1 522.32h9.04v2.08h-9.04zM496.6 524.37h9.04v2.08h-9.04zM514.7 524.37h9.04v2.08h-9.04zM632.2 524.37h9.04v2.08h-9.04zM587.0 526.42h9.04v2.08h-9.04zM614.1 526.42h9.04v2.08h-9.04zM668.4 526.42h9.04v2.08h-9.04zM587.0 528.48h9.04v2.08h-9.04zM677.4 528.48h9.04v2.08h-9.04zM623.2 530.53h9.04v2.08h-9.04zM668.4 530.53h9.04v2.08h-9.04zM623.2 532.59h9.04v2.08h-9.04zM541.8 534.64h9.04v2.08h-9.04zM623.2 534.64h9.04v2.08h-9.04zM650.3 534.64h9.04v2.08h-9.04zM659.3 534.64h9.04v2.08h-9.04zM677.4 534.64h9.04v2.08h-9.04zM623.2 536.70h9.04v2.08h-9.04zM578.0 538.75h9.04v2.08h-9.04zM605.1 538.75h9.04v2.08h-9.04zM668.4 538.75h9.04v2.08h-9.04zM677.4 538.75h9.04v2.08h-9.04zM668.4 542.86h9.04v2.08h-9.04zM677.4 542.86h9.04v2.08h-9.04zM469.5 544.91h9.04v2.08h-9.04zM578.0 544.91h9.04v2.08h-9.04zM505.7 546.97h9.04v2.08h-9.04zM568.9 546.97h9.04v2.08h-9.04zM659.3 549.02h9.04v2.08h-9.04zM677.4 549.02h9.04v2.08h-9.04zM469.5 551.08h9.04v2.08h-9.04zM469.5 553.13h9.04v2.08h-9.04zM496.6 553.13h9.04v2.08h-9.04zM505.7 555.18h9.04v2.08h-9.04zM514.7 555.18h9.04v2.08h-9.04zM550.9 557.24h9.04v2.08h-9.04zM568.9 559.29h9.04v2.08h-9.04zM487.6 561.35h9.04v2.08h-9.04zM487.6 563.40h9.04v2.08h-9.04zM568.9 563.40h9.04v2.08h-9.04zM496.6 565.45h9.04v2.08h-9.04zM550.9 569.56h9.04v2.08h-9.04zM505.7 571.62h9.04v2.08h-9.04zM623.2 571.62h9.04v2.08h-9.04zM541.8 579.83h9.04v2.08h-9.04zM659.3 579.83h9.04v2.08h-9.04zM487.6 583.94h9.04v2.08h-9.04zM532.8 583.94h9.04v2.08h-9.04zM568.9 583.94h9.04v2.08h-9.04zM659.3 583.94h9.04v2.08h-9.04zM568.9 586.00h9.04v2.08h-9.04zM487.6 588.05h9.04v2.08h-9.04zM532.8 588.05h9.04v2.08h-9.04zM487.6 590.10h9.04v2.08h-9.04zM550.9 592.16h9.04v2.08h-9.04zM605.1 594.21h9.04v2.08h-9.04zM596.1 600.38h9.04v2.08h-9.04zM559.9 602.43h9.04v2.08h-9.04zM550.9 604.48h9.04v2.08h-9.04zM677.4 604.48h9.04v2.08h-9.04zM523.7 608.59h9.04v2.08h-9.04zM487.6 610.65h9.04v2.08h-9.04zM469.5 612.70h9.04v2.08h-9.04zM523.7 612.70h9.04v2.08h-9.04zM550.9 612.70h9.04v2.08h-9.04zM632.2 614.75h9.04v2.08h-9.04zM514.7 616.81h9.04v2.08h-9.04zM505.7 620.92h9.04v2.08h-9.04zM523.7 622.97h9.04v2.08h-9.04zM532.8 622.97h9.04v2.08h-9.04zM650.3 622.97h9.04v2.08h-9.04zM677.4 622.97h9.04v2.08h-9.04zM650.3 625.02h9.04v2.08h-9.04zM632.2 629.13h9.04v2.08h-9.04zM532.8 631.19h9.04v2.08h-9.04zM650.3 631.19h9.04v2.08h-9.04zM496.6 633.24h9.04v2.08h-9.04zM578.0 633.24h9.04v2.08h-9.04zM650.3 633.24h9.04v2.08h-9.04zM614.1 635.30h9.04v2.08h-9.04zM578.0 637.35h9.04v2.08h-9.04zM550.9 639.40h9.04v2.08h-9.04zM478.5 641.46h9.04v2.08h-9.04zM496.6 641.46h9.04v2.08h-9.04zM668.4 641.46h9.04v2.08h-9.04zM487.6 643.51h9.04v2.08h-9.04zM496.6 643.51h9.04v2.08h-9.04zM596.1 643.51h9.04v2.08h-9.04zM668.4 643.51h9.04v2.08h-9.04zM514.7 647.62h9.04v2.08h-9.04zM532.8 649.67h9.04v2.08h-9.04zM469.5 651.73h9.04v2.08h-9.04zM487.6 651.73h9.04v2.08h-9.04zM523.7 651.73h9.04v2.08h-9.04zM505.7 659.95h9.04v2.08h-9.04zM532.8 659.95h9.04v2.08h-9.04zM677.4 659.95h9.04v2.08h-9.04zM523.7 662.00h9.04v2.08h-9.04zM559.9 662.00h9.04v2.08h-9.04zM587.0 662.00h9.04v2.08h-9.04zM605.1 662.00h9.04v2.08h-9.04zM514.7 664.05h9.04v2.08h-9.04zM523.7 664.05h9.04v2.08h-9.04zM587.0 670.22h9.04v2.08h-9.04zM677.4 670.22h9.04v2.08h-9.04zM614.1 674.32h9.04v2.08h-9.04zM568.9 678.43h9.04v2.08h-9.04zM623.2 678.43h9.04v2.08h-9.04zM496.6 682.54h9.04v2.08h-9.04zM505.7 682.54h9.04v2.08h-9.04zM496.6 684.60h9.04v2.08h-9.04zM469.5 686.65h9.04v2.08h-9.04zM532.8 686.65h9.04v2.08h-9.04zM469.5 688.70h9.04v2.08h-9.04zM623.2 692.81h9.04v2.08h-9.04zM623.2 696.92h9.04v2.08h-9.04zM641.3 696.92h9.04v2.08h-9.04zM623.2 698.97h9.04v2.08h-9.04zM523.7 701.03h9.04v2.08h-9.04zM532.8 701.03h9.04v2.08h-9.04zM487.6 707.19h9.04v2.08h-9.04z" fill="#000f07"/>
<path d="M505.7 466.85h9.04v2.08h-9.04zM605.1 468.91h9.04v2.08h-9.04zM668.4 470.96h9.04v2.08h-9.04zM677.4 470.96h9.04v2.08h-9.04zM487.6 473.02h9.04v2.08h-9.04zM650.3 473.02h9.04v2.08h-9.04zM523.7 475.07h9.04v2.08h-9.04zM541.8 475.07h9.04v2.08h-9.04zM659.3 475.07h9.04v2.08h-9.04zM596.1 477.12h9.04v2.08h-9.04zM641.3 477.12h9.04v2.08h-9.04zM514.7 479.18h9.04v2.08h-9.04zM623.2 485.34h9.04v2.08h-9.04zM587.0 487.40h9.04v2.08h-9.04zM487.6 489.45h9.04v2.08h-9.04zM496.6 489.45h9.04v2.08h-9.04zM496.6 491.50h9.04v2.08h-9.04zM614.1 491.50h9.04v2.08h-9.04zM641.3 495.61h9.04v2.08h-9.04zM487.6 497.67h9.04v2.08h-9.04zM523.7 497.67h9.04v2.08h-9.04zM487.6 499.72h9.04v2.08h-9.04zM641.3 499.72h9.04v2.08h-9.04zM523.7 503.83h9.04v2.08h-9.04zM550.9 503.83h9.04v2.08h-9.04zM578.0 503.83h9.04v2.08h-9.04zM550.9 505.88h9.04v2.08h-9.04zM478.5 507.94h9.04v2.08h-9.04zM496.6 512.05h9.04v2.08h-9.04zM650.3 512.05h9.04v2.08h-9.04zM478.5 514.10h9.04v2.08h-9.04zM487.6 514.10h9.04v2.08h-9.04zM487.6 520.26h9.04v2.08h-9.04zM559.9 520.26h9.04v2.08h-9.04zM487.6 522.32h9.04v2.08h-9.04zM668.4 522.32h9.04v2.08h-9.04zM668.4 528.48h9.04v2.08h-9.04zM568.9 530.53h9.04v2.08h-9.04zM596.1 538.75h9.04v2.08h-9.04zM514.7 540.80h9.04v2.08h-9.04zM578.0 540.80h9.04v2.08h-9.04zM641.3 540.80h9.04v2.08h-9.04zM469.5 542.86h9.04v2.08h-9.04zM523.7 542.86h9.04v2.08h-9.04zM623.2 549.02h9.04v2.08h-9.04zM605.1 553.13h9.04v2.08h-9.04zM605.1 555.18h9.04v2.08h-9.04zM605.1 557.24h9.04v2.08h-9.04zM614.1 559.29h9.04v2.08h-9.04zM623.2 559.29h9.04v2.08h-9.04zM523.7 565.45h9.04v2.08h-9.04zM605.1 565.45h9.04v2.08h-9.04zM632.2 565.45h9.04v2.08h-9.04zM568.9 569.56h9.04v2.08h-9.04zM668.4 569.56h9.04v2.08h-9.04zM632.2 571.62h9.04v2.08h-9.04zM532.8 575.73h9.04v2.08h-9.04zM541.8 577.78h9.04v2.08h-9.04zM659.3 577.78h9.04v2.08h-9.04zM587.0 581.89h9.04v2.08h-9.04zM677.4 581.89h9.04v2.08h-9.04zM677.4 583.94h9.04v2.08h-9.04zM587.0 586.00h9.04v2.08h-9.04zM677.4 586.00h9.04v2.08h-9.04zM587.0 588.05h9.04v2.08h-9.04zM650.3 594.21h9.04v2.08h-9.04zM596.1 596.27h9.04v2.08h-9.04zM632.2 600.38h9.04v2.08h-9.04zM632.2 604.48h9.04v2.08h-9.04zM596.1 608.59h9.04v2.08h-9.04zM641.3 612.70h9.04v2.08h-9.04zM514.7 614.75h9.04v2.08h-9.04zM568.9 614.75h9.04v2.08h-9.04zM659.3 614.75h9.04v2.08h-9.04zM523.7 618.86h9.04v2.08h-9.04zM532.8 618.86h9.04v2.08h-9.04zM532.8 620.92h9.04v2.08h-9.04zM677.4 620.92h9.04v2.08h-9.04zM496.6 622.97h9.04v2.08h-9.04zM641.3 625.02h9.04v2.08h-9.04zM532.8 627.08h9.04v2.08h-9.04zM578.0 629.13h9.04v2.08h-9.04zM496.6 631.19h9.04v2.08h-9.04zM514.7 635.30h9.04v2.08h-9.04zM532.8 635.30h9.04v2.08h-9.04zM550.9 637.35h9.04v2.08h-9.04zM596.1 637.35h9.04v2.08h-9.04zM614.1 637.35h9.04v2.08h-9.04zM668.4 637.35h9.04v2.08h-9.04zM587.0 639.40h9.04v2.08h-9.04zM596.1 639.40h9.04v2.08h-9.04zM641.3 645.57h9.04v2.08h-9.04zM668.4 649.67h9.04v2.08h-9.04zM668.4 651.73h9.04v2.08h-9.04zM668.4 653.78h9.04v2.08h-9.04zM587.0 655.84h9.04v2.08h-9.04zM596.1 655.84h9.04v2.08h-9.04zM487.6 657.89h9.04v2.08h-9.04zM568.9 657.89h9.04v2.08h-9.04zM596.1 659.95h9.04v2.08h-9.04zM677.4 666.11h9.04v2.08h-9.04zM623.2 670.22h9.04v2.08h-9.04zM614.1 678.43h9.04v2.08h-9.04zM641.3 680.49h9.04v2.08h-9.04zM505.7 684.60h9.04v2.08h-9.04zM650.3 686.65h9.04v2.08h-9.04zM677.4 688.70h9.04v2.08h-9.04zM469.5 692.81h9.04v2.08h-9.04zM677.4 692.81h9.04v2.08h-9.04zM677.4 694.87h9.04v2.08h-9.04zM469.5 696.92h9.04v2.08h-9.04zM668.4 696.92h9.04v2.08h-9.04zM523.7 703.08h9.04v2.08h-9.04zM605.1 705.14h9.04v2.08h-9.04z" fill="#0d0000"/>
<path d="M668.4 466.85h9.04v2.08h-9.04zM505.7 468.91h9.04v2.08h-9.04zM605.1 470.96h9.04v2.08h-9.04zM496.6 473.02h9.04v2.08h-9.04zM469.5 477.12h9.04v2.08h-9.04zM541.8 477.12h9.04v2.08h-9.04zM668.4 479.18h9.04v2.08h-9.04zM677.4 479.18h9.04v2.08h-9.04zM487.6 481.23h9.04v2.08h-9.04zM514.7 481.23h9.04v2.08h-9.04zM523.7 481.23h9.04v2.08h-9.04zM677.4 481.23h9.04v2.08h-9.04zM487.6 483.29h9.04v2.08h-9.04zM523.7 483.29h9.04v2.08h-9.04zM559.9 485.34h9.04v2.08h-9.04zM532.8 487.40h9.04v2.08h-9.04zM514.7 489.45h9.04v2.08h-9.04zM650.3 491.50h9.04v2.08h-9.04zM541.8 493.56h9.04v2.08h-9.04zM541.8 495.61h9.04v2.08h-9.04zM587.0 495.61h9.04v2.08h-9.04zM587.0 497.67h9.04v2.08h-9.04zM641.3 497.67h9.04v2.08h-9.04zM496.6 501.77h9.04v2.08h-9.04zM523.7 501.77h9.04v2.08h-9.04zM541.8 501.77h9.04v2.08h-9.04zM568.9 503.83h9.04v2.08h-9.04zM496.6 507.94h9.04v2.08h-9.04zM532.8 507.94h9.04v2.08h-9.04zM478.5 509.99h9.04v2.08h-9.04zM587.0 509.99h9.04v2.08h-9.04zM614.1 509.99h9.04v2.08h-9.04zM478.5 512.05h9.04v2.08h-9.04zM559.9 512.05h9.04v2.08h-9.04zM523.7 514.10h9.04v2.08h-9.04zM532.8 514.10h9.04v2.08h-9.04zM650.3 514.10h9.04v2.08h-9.04zM487.6 518.21h9.04v2.08h-9.04zM614.1 518.21h9.04v2.08h-9.04zM523.7 522.32h9.04v2.08h-9.04zM587.0 522.32h9.04v2.08h-9.04zM596.1 522.32h9.04v2.08h-9.04zM469.5 524.37h9.04v2.08h-9.04zM487.6 524.37h9.04v2.08h-9.04zM532.8 524.37h9.04v2.08h-9.04zM550.9 524.37h9.04v2.08h-9.04zM559.9 524.37h9.04v2.08h-9.04zM578.0 524.37h9.04v2.08h-9.04zM677.4 524.37h9.04v2.08h-9.04zM677.4 526.42h9.04v2.08h-9.04zM568.9 528.48h9.04v2.08h-9.04zM596.1 530.53h9.04v2.08h-9.04zM496.6 532.59h9.04v2.08h-9.04zM541.8 532.59h9.04v2.08h-9.04zM568.9 532.59h9.04v2.08h-9.04zM641.3 532.59h9.04v2.08h-9.04zM514.7 534.64h9.04v2.08h-9.04zM568.9 534.64h9.04v2.08h-9.04zM578.0 534.64h9.04v2.08h-9.04zM587.0 534.64h9.04v2.08h-9.04zM614.1 534.64h9.04v2.08h-9.04zM487.6 536.70h9.04v2.08h-9.04zM559.9 536.70h9.04v2.08h-9.04zM578.0 536.70h9.04v2.08h-9.04zM541.8 538.75h9.04v2.08h-9.04zM469.5 540.80h9.04v2.08h-9.04zM532.8 540.80h9.04v2.08h-9.04zM650.3 540.80h9.04v2.08h-9.04zM505.7 542.86h9.04v2.08h-9.04zM623.2 542.86h9.04v2.08h-9.04zM532.8 546.97h9.04v2.08h-9.04zM550.9 546.97h9.04v2.08h-9.04zM478.5 551.08h9.04v2.08h-9.04zM523.7 551.08h9.04v2.08h-9.04zM659.3 553.13h9.04v2.08h-9.04zM650.3 559.29h9.04v2.08h-9.04zM605.1 567.51h9.04v2.08h-9.04zM668.4 567.51h9.04v2.08h-9.04zM532.8 569.56h9.04v2.08h-9.04zM541.8 569.56h9.04v2.08h-9.04zM596.1 569.56h9.04v2.08h-9.04zM541.8 571.62h9.04v2.08h-9.04zM541.8 573.67h9.04v2.08h-9.04zM596.1 573.67h9.04v2.08h-9.04zM541.8 575.73h9.04v2.08h-9.04zM559.9 581.89h9.04v2.08h-9.04zM587.0 583.94h9.04v2.08h-9.04zM596.1 583.94h9.04v2.08h-9.04zM668.4 583.94h9.04v2.08h-9.04zM650.3 588.05h9.04v2.08h-9.04zM659.3 588.05h9.04v2.08h-9.04zM623.2 590.10h9.04v2.08h-9.04zM596.1 592.16h9.04v2.08h-9.04zM614.1 592.16h9.04v2.08h-9.04zM650.3 592.16h9.04v2.08h-9.04zM677.4 592.16h9.04v2.08h-9.04zM677.4 596.27h9.04v2.08h-9.04zM505.7 598.32h9.04v2.08h-9.04zM587.0 598.32h9.04v2.08h-9.04zM650.3 598.32h9.04v2.08h-9.04zM668.4 598.32h9.04v2.08h-9.04zM550.9 600.38h9.04v2.08h-9.04zM614.1 600.38h9.04v2.08h-9.04zM541.8 602.43h9.04v2.08h-9.04zM587.0 602.43h9.04v2.08h-9.04zM632.2 602.43h9.04v2.08h-9.04zM587.0 604.48h9.04v2.08h-9.04zM623.2 604.48h9.04v2.08h-9.04zM568.9 606.54h9.04v2.08h-9.04zM614.1 606.54h9.04v2.08h-9.04zM641.3 606.54h9.04v2.08h-9.04zM641.3 608.59h9.04v2.08h-9.04zM677.4 608.59h9.04v2.08h-9.04zM650.3 610.65h9.04v2.08h-9.04zM677.4 610.65h9.04v2.08h-9.04zM587.0 612.70h9.04v2.08h-9.04zM677.4 614.75h9.04v2.08h-9.04zM578.0 616.81h9.04v2.08h-9.04zM677.4 616.81h9.04v2.08h-9.04zM596.1 618.86h9.04v2.08h-9.04zM632.2 618.86h9.04v2.08h-9.04zM487.6 620.92h9.04v2.08h-9.04zM587.0 622.97h9.04v2.08h-9.04zM532.8 625.02h9.04v2.08h-9.04zM632.2 625.02h9.04v2.08h-9.04zM487.6 627.08h9.04v2.08h-9.04zM632.2 627.08h9.04v2.08h-9.04zM641.3 627.08h9.04v2.08h-9.04zM532.8 629.13h9.04v2.08h-9.04zM578.0 631.19h9.04v2.08h-9.04zM596.1 631.19h9.04v2.08h-9.04zM677.4 633.24h9.04v2.08h-9.04zM487.6 635.30h9.04v2.08h-9.04zM496.6 635.30h9.04v2.08h-9.04zM541.8 637.35h9.04v2.08h-9.04zM559.9 637.35h9.04v2.08h-9.04zM469.5 639.40h9.04v2.08h-9.04zM578.0 643.51h9.04v2.08h-9.04zM587.0 643.51h9.04v2.08h-9.04zM559.9 645.57h9.04v2.08h-9.04zM659.3 647.62h9.04v2.08h-9.04zM487.6 653.78h9.04v2.08h-9.04zM514.7 653.78h9.04v2.08h-9.04zM596.1 653.78h9.04v2.08h-9.04zM487.6 655.84h9.04v2.08h-9.04zM505.7 655.84h9.04v2.08h-9.04zM523.7 655.84h9.04v2.08h-9.04zM596.1 657.89h9.04v2.08h-9.04zM496.6 659.95h9.04v2.08h-9.04zM623.2 659.95h9.04v2.08h-9.04zM623.2 662.00h9.04v2.08h-9.04zM659.3 668.16h9.04v2.08h-9.04zM596.1 670.22h9.04v2.08h-9.04zM550.9 672.27h9.04v2.08h-9.04zM605.1 672.27h9.04v2.08h-9.04zM614.1 672.27h9.04v2.08h-9.04zM632.2 672.27h9.04v2.08h-9.04zM587.0 674.32h9.04v2.08h-9.04zM605.1 674.32h9.04v2.08h-9.04zM650.3 676.38h9.04v2.08h-9.04zM677.4 676.38h9.04v2.08h-9.04zM505.7 678.43h9.04v2.08h-9.04zM568.9 680.49h9.04v2.08h-9.04zM650.3 684.60h9.04v2.08h-9.04zM496.6 686.65h9.04v2.08h-9.04zM505.7 686.65h9.04v2.08h-9.04zM514.7 686.65h9.04v2.08h-9.04zM623.2 686.65h9.04v2.08h-9.04zM568.9 690.76h9.04v2.08h-9.04zM587.0 696.92h9.04v2.08h-9.04zM605.1 698.97h9.04v2.08h-9.04zM677.4 703.08h9.04v2.08h-9.04zM614.1 705.14h9.04v2.08h-9.04zM659.3 705.14h9.04v2.08h-9.04zM623.2 707.19h9.04v2.08h-9.04zM677.4 707.19h9.04v2.08h-9.04z" fill="#1a0000"/>
<path d="M487.6 464.80h9.04v2.08h-9.04zM605.1 466.85h9.04v2.08h-9.04zM487.6 470.96h9.04v2.08h-9.04zM541.8 470.96h9.04v2.08h-9.04zM587.0 473.02h9.04v2.08h-9.04zM587.0 477.12h9.04v2.08h-9.04zM677.4 477.12h9.04v2.08h-9.04zM641.3 479.18h9.04v2.08h-9.04zM478.5 481.23h9.04v2.08h-9.04zM596.1 481.23h9.04v2.08h-9.04zM641.3 481.23h9.04v2.08h-9.04zM596.1 483.29h9.04v2.08h-9.04zM496.6 485.34h9.04v2.08h-9.04zM568.9 485.34h9.04v2.08h-9.04zM596.1 487.40h9.04v2.08h-9.04zM559.9 489.45h9.04v2.08h-9.04zM514.7 491.50h9.04v2.08h-9.04zM541.8 491.50h9.04v2.08h-9.04zM478.5 493.56h9.04v2.08h-9.04zM587.0 493.56h9.04v2.08h-9.04zM641.3 493.56h9.04v2.08h-9.04zM532.8 495.61h9.04v2.08h-9.04zM505.7 497.67h9.04v2.08h-9.04zM514.7 497.67h9.04v2.08h-9.04zM614.1 497.67h9.04v2.08h-9.04zM478.5 501.77h9.04v2.08h-9.04zM514.7 501.77h9.04v2.08h-9.04zM641.3 501.77h9.04v2.08h-9.04zM541.8 503.83h9.04v2.08h-9.04zM505.7 505.88h9.04v2.08h-9.04zM523.7 505.88h9.04v2.08h-9.04zM559.9 505.88h9.04v2.08h-9.04zM614.1 507.94h9.04v2.08h-9.04zM496.6 509.99h9.04v2.08h-9.04zM505.7 514.10h9.04v2.08h-9.04zM614.1 514.10h9.04v2.08h-9.04zM487.6 516.15h9.04v2.08h-9.04zM478.5 518.21h9.04v2.08h-9.04zM505.7 518.21h9.04v2.08h-9.04zM532.8 518.21h9.04v2.08h-9.04zM559.9 518.21h9.04v2.08h-9.04zM659.3 518.21h9.04v2.08h-9.04zM496.6 520.26h9.04v2.08h-9.04zM514.7 520.26h9.04v2.08h-9.04zM614.1 520.26h9.04v2.08h-9.04zM568.9 524.37h9.04v2.08h-9.04zM632.2 526.42h9.04v2.08h-9.04zM496.6 528.48h9.04v2.08h-9.04zM578.0 528.48h9.04v2.08h-9.04zM641.3 528.48h9.04v2.08h-9.04zM496.6 530.53h9.04v2.08h-9.04zM587.0 530.53h9.04v2.08h-9.04zM668.4 534.64h9.04v2.08h-9.04zM496.6 536.70h9.04v2.08h-9.04zM514.7 536.70h9.04v2.08h-9.04zM478.5 538.75h9.04v2.08h-9.04zM550.9 538.75h9.04v2.08h-9.04zM478.5 542.86h9.04v2.08h-9.04zM641.3 544.91h9.04v2.08h-9.04zM541.8 546.97h9.04v2.08h-9.04zM505.7 551.08h9.04v2.08h-9.04zM478.5 553.13h9.04v2.08h-9.04zM568.9 553.13h9.04v2.08h-9.04zM578.0 553.13h9.04v2.08h-9.04zM650.3 553.13h9.04v2.08h-9.04zM641.3 555.18h9.04v2.08h-9.04zM614.1 557.24h9.04v2.08h-9.04zM677.4 557.24h9.04v2.08h-9.04zM632.2 559.29h9.04v2.08h-9.04zM641.3 559.29h9.04v2.08h-9.04zM668.4 563.40h9.04v2.08h-9.04zM578.0 565.45h9.04v2.08h-9.04zM623.2 565.45h9.04v2.08h-9.04zM650.3 565.45h9.04v2.08h-9.04zM523.7 567.51h9.04v2.08h-9.04zM668.4 573.67h9.04v2.08h-9.04zM596.1 575.73h9.04v2.08h-9.04zM596.1 577.78h9.04v2.08h-9.04zM641.3 579.83h9.04v2.08h-9.04zM596.1 581.89h9.04v2.08h-9.04zM632.2 583.94h9.04v2.08h-9.04zM632.2 586.00h9.04v2.08h-9.04zM614.1 590.10h9.04v2.08h-9.04zM487.6 592.16h9.04v2.08h-9.04zM605.1 592.16h9.04v2.08h-9.04zM632.2 592.16h9.04v2.08h-9.04zM596.1 594.21h9.04v2.08h-9.04zM614.1 594.21h9.04v2.08h-9.04zM532.8 596.27h9.04v2.08h-9.04zM605.1 598.32h9.04v2.08h-9.04zM614.1 598.32h9.04v2.08h-9.04zM623.2 598.32h9.04v2.08h-9.04zM632.2 598.32h9.04v2.08h-9.04zM559.9 600.38h9.04v2.08h-9.04zM677.4 600.38h9.04v2.08h-9.04zM641.3 604.48h9.04v2.08h-9.04zM523.7 606.54h9.04v2.08h-9.04zM541.8 606.54h9.04v2.08h-9.04zM469.5 608.59h9.04v2.08h-9.04zM650.3 608.59h9.04v2.08h-9.04zM469.5 610.65h9.04v2.08h-9.04zM677.4 612.70h9.04v2.08h-9.04zM469.5 614.75h9.04v2.08h-9.04zM487.6 614.75h9.04v2.08h-9.04zM523.7 614.75h9.04v2.08h-9.04zM614.1 614.75h9.04v2.08h-9.04zM469.5 616.81h9.04v2.08h-9.04zM587.0 620.92h9.04v2.08h-9.04zM659.3 620.92h9.04v2.08h-9.04zM496.6 629.13h9.04v2.08h-9.04zM523.7 629.13h9.04v2.08h-9.04zM668.4 631.19h9.04v2.08h-9.04zM641.3 635.30h9.04v2.08h-9.04zM605.1 637.35h9.04v2.08h-9.04zM578.0 641.46h9.04v2.08h-9.04zM614.1 641.46h9.04v2.08h-9.04zM487.6 645.57h9.04v2.08h-9.04zM487.6 647.62h9.04v2.08h-9.04zM578.0 647.62h9.04v2.08h-9.04zM623.2 647.62h9.04v2.08h-9.04zM596.1 649.67h9.04v2.08h-9.04zM523.7 653.78h9.04v2.08h-9.04zM587.0 653.78h9.04v2.08h-9.04zM478.5 657.89h9.04v2.08h-9.04zM659.3 657.89h9.04v2.08h-9.04zM578.0 659.95h9.04v2.08h-9.04zM541.8 662.00h9.04v2.08h-9.04zM614.1 662.00h9.04v2.08h-9.04zM514.7 666.11h9.04v2.08h-9.04zM659.3 670.22h9.04v2.08h-9.04zM650.3 678.43h9.04v2.08h-9.04zM668.4 678.43h9.04v2.08h-9.04zM496.6 680.49h9.04v2.08h-9.04zM505.7 680.49h9.04v2.08h-9.04zM650.3 680.49h9.04v2.08h-9.04zM659.3 682.54h9.04v2.08h-9.04zM505.7 688.70h9.04v2.08h-9.04zM677.4 690.76h9.04v2.08h-9.04zM568.9 692.81h9.04v2.08h-9.04zM632.2 692.81h9.04v2.08h-9.04zM677.4 698.97h9.04v2.08h-9.04zM587.0 701.03h9.04v2.08h-9.04zM650.3 705.14h9.04v2.08h-9.04z" fill="#280000"/>
<path d="M505.7 464.80h9.04v2.08h-9.04zM523.7 466.85h9.04v2.08h-9.04zM532.8 466.85h9.04v2.08h-9.04zM505.7 473.02h9.04v2.08h-9.04zM641.3 473.02h9.04v2.08h-9.04zM514.7 477.12h9.04v2.08h-9.04zM505.7 479.18h9.04v2.08h-9.04zM550.9 479.18h9.04v2.08h-9.04zM578.0 481.23h9.04v2.08h-9.04zM469.5 483.29h9.04v2.08h-9.04zM487.6 485.34h9.04v2.08h-9.04zM505.7 485.34h9.04v2.08h-9.04zM523.7 485.34h9.04v2.08h-9.04zM505.7 487.40h9.04v2.08h-9.04zM514.7 487.40h9.04v2.08h-9.04zM505.7 489.45h9.04v2.08h-9.04zM478.5 491.50h9.04v2.08h-9.04zM487.6 493.56h9.04v2.08h-9.04zM505.7 493.56h9.04v2.08h-9.04zM532.8 493.56h9.04v2.08h-9.04zM614.1 493.56h9.04v2.08h-9.04zM568.9 495.61h9.04v2.08h-9.04zM469.5 497.67h9.04v2.08h-9.04zM578.0 501.77h9.04v2.08h-9.04zM541.8 505.88h9.04v2.08h-9.04zM505.7 507.94h9.04v2.08h-9.04zM514.7 507.94h9.04v2.08h-9.04zM559.9 509.99h9.04v2.08h-9.04zM523.7 512.05h9.04v2.08h-9.04zM523.7 518.21h9.04v2.08h-9.04zM523.7 520.26h9.04v2.08h-9.04zM496.6 522.32h9.04v2.08h-9.04zM677.4 522.32h9.04v2.08h-9.04zM478.5 526.42h9.04v2.08h-9.04zM532.8 526.42h9.04v2.08h-9.04zM532.8 528.48h9.04v2.08h-9.04zM559.9 528.48h9.04v2.08h-9.04zM487.6 530.53h9.04v2.08h-9.04zM523.7 534.64h9.04v2.08h-9.04zM532.8 536.70h9.04v2.08h-9.04zM550.9 536.70h9.04v2.08h-9.04zM496.6 538.75h9.04v2.08h-9.04zM668.4 540.80h9.04v2.08h-9.04zM514.7 542.86h9.04v2.08h-9.04zM505.7 544.91h9.04v2.08h-9.04zM523.7 544.91h9.04v2.08h-9.04zM559.9 544.91h9.04v2.08h-9.04zM532.8 551.08h9.04v2.08h-9.04zM550.9 551.08h9.04v2.08h-9.04zM550.9 553.13h9.04v2.08h-9.04zM623.2 555.18h9.04v2.08h-9.04zM650.3 555.18h9.04v2.08h-9.04zM596.1 557.24h9.04v2.08h-9.04zM587.0 561.35h9.04v2.08h-9.04zM596.1 563.40h9.04v2.08h-9.04zM605.1 563.40h9.04v2.08h-9.04zM596.1 567.51h9.04v2.08h-9.04zM677.4 567.51h9.04v2.08h-9.04zM578.0 569.56h9.04v2.08h-9.04zM632.2 569.56h9.04v2.08h-9.04zM677.4 569.56h9.04v2.08h-9.04zM523.7 571.62h9.04v2.08h-9.04zM596.1 571.62h9.04v2.08h-9.04zM632.2 573.67h9.04v2.08h-9.04zM650.3 573.67h9.04v2.08h-9.04zM677.4 575.73h9.04v2.08h-9.04zM677.4 579.83h9.04v2.08h-9.04zM532.8 581.89h9.04v2.08h-9.04zM541.8 581.89h9.04v2.08h-9.04zM487.6 586.00h9.04v2.08h-9.04zM532.8 586.00h9.04v2.08h-9.04zM578.0 588.05h9.04v2.08h-9.04zM668.4 588.05h9.04v2.08h-9.04zM496.6 590.10h9.04v2.08h-9.04zM578.0 590.10h9.04v2.08h-9.04zM659.3 590.10h9.04v2.08h-9.04zM641.3 592.16h9.04v2.08h-9.04zM659.3 592.16h9.04v2.08h-9.04zM668.4 592.16h9.04v2.08h-9.04zM623.2 594.21h9.04v2.08h-9.04zM677.4 594.21h9.04v2.08h-9.04zM632.2 596.27h9.04v2.08h-9.04zM659.3 598.32h9.04v2.08h-9.04zM650.3 600.38h9.04v2.08h-9.04zM650.3 604.48h9.04v2.08h-9.04zM487.6 606.54h9.04v2.08h-9.04zM623.2 606.54h9.04v2.08h-9.04zM623.2 608.59h9.04v2.08h-9.04zM668.4 608.59h9.04v2.08h-9.04zM641.3 610.65h9.04v2.08h-9.04zM559.9 612.70h9.04v2.08h-9.04zM614.1 612.70h9.04v2.08h-9.04zM632.2 612.70h9.04v2.08h-9.04zM568.9 616.81h9.04v2.08h-9.04zM677.4 625.02h9.04v2.08h-9.04zM550.9 627.08h9.04v2.08h-9.04zM668.4 627.08h9.04v2.08h-9.04zM659.3 629.13h9.04v2.08h-9.04zM587.0 631.19h9.04v2.08h-9.04zM677.4 631.19h9.04v2.08h-9.04zM587.0 633.24h9.04v2.08h-9.04zM487.6 637.35h9.04v2.08h-9.04zM496.6 637.35h9.04v2.08h-9.04zM587.0 637.35h9.04v2.08h-9.04zM605.1 639.40h9.04v2.08h-9.04zM641.3 639.40h9.04v2.08h-9.04zM596.1 641.46h9.04v2.08h-9.04zM632.2 643.51h9.04v2.08h-9.04zM523.7 645.57h9.04v2.08h-9.04zM587.0 645.57h9.04v2.08h-9.04zM668.4 645.57h9.04v2.08h-9.04zM587.0 647.62h9.04v2.08h-9.04zM677.4 653.78h9.04v2.08h-9.04zM605.1 655.84h9.04v2.08h-9.04zM605.1 657.89h9.04v2.08h-9.04zM614.1 657.89h9.04v2.08h-9.04zM623.2 657.89h9.04v2.08h-9.04zM632.2 657.89h9.04v2.08h-9.04zM559.9 659.95h9.04v2.08h-9.04zM668.4 659.95h9.04v2.08h-9.04zM632.2 662.00h9.04v2.08h-9.04zM650.3 662.00h9.04v2.08h-9.04zM496.6 664.05h9.04v2.08h-9.04zM587.0 664.05h9.04v2.08h-9.04zM668.4 664.05h9.04v2.08h-9.04zM623.2 668.16h9.04v2.08h-9.04zM505.7 672.27h9.04v2.08h-9.04zM668.4 672.27h9.04v2.08h-9.04zM677.4 672.27h9.04v2.08h-9.04zM568.9 674.32h9.04v2.08h-9.04zM596.1 674.32h9.04v2.08h-9.04zM632.2 678.43h9.04v2.08h-9.04zM614.1 680.49h9.04v2.08h-9.04zM623.2 680.49h9.04v2.08h-9.04zM578.0 682.54h9.04v2.08h-9.04zM605.1 682.54h9.04v2.08h-9.04zM659.3 684.60h9.04v2.08h-9.04zM605.1 686.65h9.04v2.08h-9.04zM677.4 686.65h9.04v2.08h-9.04zM578.0 688.70h9.04v2.08h-9.04zM650.3 688.70h9.04v2.08h-9.04zM659.3 688.70h9.04v2.08h-9.04zM587.0 692.81h9.04v2.08h-9.04zM614.1 692.81h9.04v2.08h-9.04zM614.1 696.92h9.04v2.08h-9.04zM641.3 698.97h9.04v2.08h-9.04zM605.1 701.03h9.04v2.08h-9.04zM641.3 701.03h9.04v2.08h-9.04zM587.0 703.08h9.04v2.08h-9.04zM614.1 703.08h9.04v2.08h-9.04zM623.2 705.14h9.04v2.08h-9.04zM677.4 705.14h9.04v2.08h-9.04zM559.9 707.19h9.04v2.08h-9.04zM641.3 707.19h9.04v2.08h-9.04zM496.6 709.25h9.04v2.08h-9.04zM641.3 709.25h9.04v2.08h-9.04zM650.3 709.25h9.04v2.08h-9.04z" fill="#350000"/>
<path d="M532.8 468.91h9.04v2.08h-9.04zM668.4 468.91h9.04v2.08h-9.04zM523.7 470.96h9.04v2.08h-9.04zM578.0 470.96h9.04v2.08h-9.04zM568.9 473.02h9.04v2.08h-9.04zM596.1 473.02h9.04v2.08h-9.04zM605.1 473.02h9.04v2.08h-9.04zM578.0 479.18h9.04v2.08h-9.04zM505.7 481.23h9.04v2.08h-9.04zM677.4 483.29h9.04v2.08h-9.04zM469.5 485.34h9.04v2.08h-9.04zM532.8 485.34h9.04v2.08h-9.04zM541.8 489.45h9.04v2.08h-9.04zM478.5 495.61h9.04v2.08h-9.04zM514.7 495.61h9.04v2.08h-9.04zM532.8 497.67h9.04v2.08h-9.04zM514.7 499.72h9.04v2.08h-9.04zM578.0 499.72h9.04v2.08h-9.04zM487.6 501.77h9.04v2.08h-9.04zM559.9 501.77h9.04v2.08h-9.04zM469.5 503.83h9.04v2.08h-9.04zM568.9 505.88h9.04v2.08h-9.04zM550.9 507.94h9.04v2.08h-9.04zM550.9 509.99h9.04v2.08h-9.04zM487.6 512.05h9.04v2.08h-9.04zM632.2 522.32h9.04v2.08h-9.04zM496.6 526.42h9.04v2.08h-9.04zM550.9 528.48h9.04v2.08h-9.04zM641.3 530.53h9.04v2.08h-9.04zM478.5 532.59h9.04v2.08h-9.04zM514.7 532.59h9.04v2.08h-9.04zM496.6 534.64h9.04v2.08h-9.04zM478.5 536.70h9.04v2.08h-9.04zM469.5 538.75h9.04v2.08h-9.04zM541.8 540.80h9.04v2.08h-9.04zM659.3 540.80h9.04v2.08h-9.04zM677.4 540.80h9.04v2.08h-9.04zM578.0 542.86h9.04v2.08h-9.04zM550.9 544.91h9.04v2.08h-9.04zM568.9 544.91h9.04v2.08h-9.04zM514.7 546.97h9.04v2.08h-9.04zM559.9 546.97h9.04v2.08h-9.04zM514.7 549.02h9.04v2.08h-9.04zM541.8 549.02h9.04v2.08h-9.04zM550.9 549.02h9.04v2.08h-9.04zM650.3 551.08h9.04v2.08h-9.04zM505.7 553.13h9.04v2.08h-9.04zM523.7 553.13h9.04v2.08h-9.04zM632.2 555.18h9.04v2.08h-9.04zM659.3 555.18h9.04v2.08h-9.04zM514.7 557.24h9.04v2.08h-9.04zM659.3 557.24h9.04v2.08h-9.04zM596.1 559.29h9.04v2.08h-9.04zM596.1 561.35h9.04v2.08h-9.04zM605.1 561.35h9.04v2.08h-9.04zM632.2 561.35h9.04v2.08h-9.04zM623.2 563.40h9.04v2.08h-9.04zM668.4 565.45h9.04v2.08h-9.04zM578.0 567.51h9.04v2.08h-9.04zM623.2 567.51h9.04v2.08h-9.04zM632.2 567.51h9.04v2.08h-9.04zM605.1 569.56h9.04v2.08h-9.04zM650.3 571.62h9.04v2.08h-9.04zM659.3 571.62h9.04v2.08h-9.04zM677.4 571.62h9.04v2.08h-9.04zM614.1 575.73h9.04v2.08h-9.04zM623.2 575.73h9.04v2.08h-9.04zM532.8 577.78h9.04v2.08h-9.04zM668.4 577.78h9.04v2.08h-9.04zM614.1 579.83h9.04v2.08h-9.04zM650.3 579.83h9.04v2.08h-9.04zM614.1 581.89h9.04v2.08h-9.04zM623.2 581.89h9.04v2.08h-9.04zM668.4 581.89h9.04v2.08h-9.04zM469.5 586.00h9.04v2.08h-9.04zM578.0 586.00h9.04v2.08h-9.04zM677.4 588.05h9.04v2.08h-9.04zM496.6 592.16h9.04v2.08h-9.04zM587.0 596.27h9.04v2.08h-9.04zM650.3 596.27h9.04v2.08h-9.04zM614.1 602.43h9.04v2.08h-9.04zM623.2 602.43h9.04v2.08h-9.04zM605.1 604.48h9.04v2.08h-9.04zM677.4 606.54h9.04v2.08h-9.04zM514.7 608.59h9.04v2.08h-9.04zM605.1 608.59h9.04v2.08h-9.04zM614.1 610.65h9.04v2.08h-9.04zM659.3 610.65h9.04v2.08h-9.04zM514.7 612.70h9.04v2.08h-9.04zM587.0 614.75h9.04v2.08h-9.04zM559.9 616.81h9.04v2.08h-9.04zM659.3 616.81h9.04v2.08h-9.04zM641.3 618.86h9.04v2.08h-9.04zM677.4 618.86h9.04v2.08h-9.04zM614.1 620.92h9.04v2.08h-9.04zM632.2 622.97h9.04v2.08h-9.04zM578.0 625.02h9.04v2.08h-9.04zM587.0 627.08h9.04v2.08h-9.04zM550.9 629.13h9.04v2.08h-9.04zM641.3 629.13h9.04v2.08h-9.04zM659.3 631.19h9.04v2.08h-9.04zM614.1 633.24h9.04v2.08h-9.04zM659.3 633.24h9.04v2.08h-9.04zM668.4 633.24h9.04v2.08h-9.04zM605.1 635.30h9.04v2.08h-9.04zM623.2 637.35h9.04v2.08h-9.04zM641.3 637.35h9.04v2.08h-9.04zM487.6 639.40h9.04v2.08h-9.04zM632.2 641.46h9.04v2.08h-9.04zM605.1 643.51h9.04v2.08h-9.04zM614.1 645.57h9.04v2.08h-9.04zM614.1 647.62h9.04v2.08h-9.04zM623.2 649.67h9.04v2.08h-9.04zM605.1 653.78h9.04v2.08h-9.04zM677.4 655.84h9.04v2.08h-9.04zM614.1 659.95h9.04v2.08h-9.04zM632.2 659.95h9.04v2.08h-9.04zM641.3 659.95h9.04v2.08h-9.04zM496.6 662.00h9.04v2.08h-9.04zM614.1 666.11h9.04v2.08h-9.04zM659.3 666.11h9.04v2.08h-9.04zM650.3 672.27h9.04v2.08h-9.04zM623.2 674.32h9.04v2.08h-9.04zM677.4 674.32h9.04v2.08h-9.04zM505.7 676.38h9.04v2.08h-9.04zM578.0 680.49h9.04v2.08h-9.04zM668.4 680.49h9.04v2.08h-9.04zM587.0 682.54h9.04v2.08h-9.04zM650.3 682.54h9.04v2.08h-9.04zM623.2 684.60h9.04v2.08h-9.04zM587.0 686.65h9.04v2.08h-9.04zM641.3 686.65h9.04v2.08h-9.04zM596.1 688.70h9.04v2.08h-9.04zM605.1 688.70h9.04v2.08h-9.04zM641.3 692.81h9.04v2.08h-9.04zM650.3 692.81h9.04v2.08h-9.04zM668.4 694.87h9.04v2.08h-9.04zM659.3 696.92h9.04v2.08h-9.04zM578.0 698.97h9.04v2.08h-9.04zM587.0 698.97h9.04v2.08h-9.04zM614.1 698.97h9.04v2.08h-9.04zM659.3 703.08h9.04v2.08h-9.04zM641.3 705.14h9.04v2.08h-9.04zM614.1 707.19h9.04v2.08h-9.04zM605.1 709.25h9.04v2.08h-9.04z" fill="#430000"/>
<path d="M469.5 464.80h9.04v2.08h-9.04zM559.9 464.80h9.04v2.08h-9.04zM605.1 464.80h9.04v2.08h-9.04zM496.6 466.85h9.04v2.08h-9.04zM523.7 473.02h9.04v2.08h-9.04zM668.4 473.02h9.04v2.08h-9.04zM568.9 475.07h9.04v2.08h-9.04zM668.4 475.07h9.04v2.08h-9.04zM487.6 477.12h9.04v2.08h-9.04zM505.7 483.29h9.04v2.08h-9.04zM514.7 483.29h9.04v2.08h-9.04zM559.9 483.29h9.04v2.08h-9.04zM541.8 485.34h9.04v2.08h-9.04zM532.8 489.45h9.04v2.08h-9.04zM487.6 491.50h9.04v2.08h-9.04zM505.7 491.50h9.04v2.08h-9.04zM496.6 493.56h9.04v2.08h-9.04zM568.9 497.67h9.04v2.08h-9.04zM550.9 501.77h9.04v2.08h-9.04zM641.3 503.83h9.04v2.08h-9.04zM487.6 505.88h9.04v2.08h-9.04zM514.7 505.88h9.04v2.08h-9.04zM559.9 507.94h9.04v2.08h-9.04zM505.7 509.99h9.04v2.08h-9.04zM523.7 509.99h9.04v2.08h-9.04zM505.7 512.05h9.04v2.08h-9.04zM523.7 516.15h9.04v2.08h-9.04zM469.5 522.32h9.04v2.08h-9.04zM523.7 524.37h9.04v2.08h-9.04zM514.7 526.42h9.04v2.08h-9.04zM559.9 526.42h9.04v2.08h-9.04zM469.5 528.48h9.04v2.08h-9.04zM478.5 530.53h9.04v2.08h-9.04zM532.8 530.53h9.04v2.08h-9.04zM532.8 532.59h9.04v2.08h-9.04zM578.0 532.59h9.04v2.08h-9.04zM587.0 532.59h9.04v2.08h-9.04zM478.5 534.64h9.04v2.08h-9.04zM505.7 534.64h9.04v2.08h-9.04zM487.6 538.75h9.04v2.08h-9.04zM487.6 542.86h9.04v2.08h-9.04zM568.9 542.86h9.04v2.08h-9.04zM487.6 544.91h9.04v2.08h-9.04zM541.8 544.91h9.04v2.08h-9.04zM605.1 551.08h9.04v2.08h-9.04zM632.2 557.24h9.04v2.08h-9.04zM578.0 561.35h9.04v2.08h-9.04zM623.2 561.35h9.04v2.08h-9.04zM641.3 561.35h9.04v2.08h-9.04zM650.3 561.35h9.04v2.08h-9.04zM632.2 563.40h9.04v2.08h-9.04zM677.4 565.45h9.04v2.08h-9.04zM623.2 569.56h9.04v2.08h-9.04zM641.3 569.56h9.04v2.08h-9.04zM650.3 569.56h9.04v2.08h-9.04zM587.0 571.62h9.04v2.08h-9.04zM623.2 577.78h9.04v2.08h-9.04zM677.4 577.78h9.04v2.08h-9.04zM532.8 579.83h9.04v2.08h-9.04zM668.4 579.83h9.04v2.08h-9.04zM650.3 581.89h9.04v2.08h-9.04zM614.1 583.94h9.04v2.08h-9.04zM650.3 583.94h9.04v2.08h-9.04zM668.4 586.00h9.04v2.08h-9.04zM632.2 588.05h9.04v2.08h-9.04zM632.2 590.10h9.04v2.08h-9.04zM650.3 590.10h9.04v2.08h-9.04zM668.4 590.10h9.04v2.08h-9.04zM677.4 590.10h9.04v2.08h-9.04zM623.2 592.16h9.04v2.08h-9.04zM632.2 594.21h9.04v2.08h-9.04zM641.3 594.21h9.04v2.08h-9.04zM541.8 596.27h9.04v2.08h-9.04zM578.0 598.32h9.04v2.08h-9.04zM641.3 598.32h9.04v2.08h-9.04zM623.2 600.38h9.04v2.08h-9.04zM541.8 604.48h9.04v2.08h-9.04zM514.7 606.54h9.04v2.08h-9.04zM587.0 606.54h9.04v2.08h-9.04zM668.4 606.54h9.04v2.08h-9.04zM514.7 610.65h9.04v2.08h-9.04zM605.1 610.65h9.04v2.08h-9.04zM623.2 610.65h9.04v2.08h-9.04zM659.3 612.70h9.04v2.08h-9.04zM587.0 616.81h9.04v2.08h-9.04zM641.3 616.81h9.04v2.08h-9.04zM587.0 618.86h9.04v2.08h-9.04zM650.3 618.86h9.04v2.08h-9.04zM578.0 620.92h9.04v2.08h-9.04zM659.3 625.02h9.04v2.08h-9.04zM578.0 627.08h9.04v2.08h-9.04zM487.6 629.13h9.04v2.08h-9.04zM623.2 629.13h9.04v2.08h-9.04zM487.6 631.19h9.04v2.08h-9.04zM614.1 631.19h9.04v2.08h-9.04zM650.3 637.35h9.04v2.08h-9.04zM659.3 637.35h9.04v2.08h-9.04zM623.2 639.40h9.04v2.08h-9.04zM623.2 643.51h9.04v2.08h-9.04zM623.2 645.57h9.04v2.08h-9.04zM659.3 645.57h9.04v2.08h-9.04zM514.7 651.73h9.04v2.08h-9.04zM614.1 653.78h9.04v2.08h-9.04zM505.7 657.89h9.04v2.08h-9.04zM578.0 657.89h9.04v2.08h-9.04zM532.8 662.00h9.04v2.08h-9.04zM578.0 664.05h9.04v2.08h-9.04zM605.1 664.05h9.04v2.08h-9.04zM596.1 666.11h9.04v2.08h-9.04zM587.0 668.16h9.04v2.08h-9.04zM596.1 668.16h9.04v2.08h-9.04zM605.1 668.16h9.04v2.08h-9.04zM632.2 668.16h9.04v2.08h-9.04zM650.3 668.16h9.04v2.08h-9.04zM650.3 670.22h9.04v2.08h-9.04zM578.0 674.32h9.04v2.08h-9.04zM668.4 674.32h9.04v2.08h-9.04zM568.9 676.38h9.04v2.08h-9.04zM614.1 676.38h9.04v2.08h-9.04zM596.1 680.49h9.04v2.08h-9.04zM641.3 682.54h9.04v2.08h-9.04zM677.4 682.54h9.04v2.08h-9.04zM587.0 688.70h9.04v2.08h-9.04zM596.1 690.76h9.04v2.08h-9.04zM659.3 690.76h9.04v2.08h-9.04zM659.3 692.81h9.04v2.08h-9.04zM668.4 692.81h9.04v2.08h-9.04zM568.9 694.87h9.04v2.08h-9.04zM614.1 694.87h9.04v2.08h-9.04zM632.2 694.87h9.04v2.08h-9.04zM641.3 694.87h9.04v2.08h-9.04zM632.2 698.97h9.04v2.08h-9.04zM668.4 698.97h9.04v2.08h-9.04zM677.4 701.03h9.04v2.08h-9.04zM578.0 703.08h9.04v2.08h-9.04zM559.9 709.25h9.04v2.08h-9.04zM614.1 709.25h9.04v2.08h-9.04z" fill="#500000"/>
<path d="M514.7 464.80h9.04v2.08h-9.04zM550.9 464.80h9.04v2.08h-9.04zM514.7 466.85h9.04v2.08h-9.04zM523.7 468.91h9.04v2.08h-9.04zM514.7 473.02h9.04v2.08h-9.04zM532.8 479.18h9.04v2.08h-9.04zM541.8 479.18h9.04v2.08h-9.04zM496.6 481.23h9.04v2.08h-9.04zM514.7 485.34h9.04v2.08h-9.04zM550.9 485.34h9.04v2.08h-9.04zM496.6 487.40h9.04v2.08h-9.04zM541.8 487.40h9.04v2.08h-9.04zM487.6 495.61h9.04v2.08h-9.04zM496.6 495.61h9.04v2.08h-9.04zM478.5 497.67h9.04v2.08h-9.04zM496.6 497.67h9.04v2.08h-9.04zM550.9 497.67h9.04v2.08h-9.04zM505.7 499.72h9.04v2.08h-9.04zM532.8 499.72h9.04v2.08h-9.04zM532.8 501.77h9.04v2.08h-9.04zM505.7 503.83h9.04v2.08h-9.04zM532.8 505.88h9.04v2.08h-9.04zM541.8 512.05h9.04v2.08h-9.04zM550.9 512.05h9.04v2.08h-9.04zM514.7 514.10h9.04v2.08h-9.04zM478.5 516.15h9.04v2.08h-9.04zM505.7 516.15h9.04v2.08h-9.04zM532.8 520.26h9.04v2.08h-9.04zM478.5 522.32h9.04v2.08h-9.04zM505.7 522.32h9.04v2.08h-9.04zM532.8 522.32h9.04v2.08h-9.04zM478.5 524.37h9.04v2.08h-9.04zM469.5 526.42h9.04v2.08h-9.04zM578.0 530.53h9.04v2.08h-9.04zM487.6 532.59h9.04v2.08h-9.04zM505.7 536.70h9.04v2.08h-9.04zM523.7 536.70h9.04v2.08h-9.04zM568.9 536.70h9.04v2.08h-9.04zM478.5 540.80h9.04v2.08h-9.04zM523.7 540.80h9.04v2.08h-9.04zM568.9 540.80h9.04v2.08h-9.04zM550.9 542.86h9.04v2.08h-9.04zM478.5 544.91h9.04v2.08h-9.04zM523.7 549.02h9.04v2.08h-9.04zM532.8 549.02h9.04v2.08h-9.04zM541.8 551.08h9.04v2.08h-9.04zM568.9 551.08h9.04v2.08h-9.04zM559.9 553.13h9.04v2.08h-9.04zM614.1 555.18h9.04v2.08h-9.04zM578.0 557.24h9.04v2.08h-9.04zM578.0 563.40h9.04v2.08h-9.04zM587.0 563.40h9.04v2.08h-9.04zM641.3 567.51h9.04v2.08h-9.04zM587.0 569.56h9.04v2.08h-9.04zM578.0 571.62h9.04v2.08h-9.04zM623.2 573.67h9.04v2.08h-9.04zM650.3 575.73h9.04v2.08h-9.04zM650.3 577.78h9.04v2.08h-9.04zM587.0 579.83h9.04v2.08h-9.04zM623.2 579.83h9.04v2.08h-9.04zM641.3 590.10h9.04v2.08h-9.04zM578.0 592.16h9.04v2.08h-9.04zM578.0 594.21h9.04v2.08h-9.04zM587.0 594.21h9.04v2.08h-9.04zM623.2 596.27h9.04v2.08h-9.04zM641.3 596.27h9.04v2.08h-9.04zM668.4 596.27h9.04v2.08h-9.04zM541.8 600.38h9.04v2.08h-9.04zM578.0 600.38h9.04v2.08h-9.04zM587.0 600.38h9.04v2.08h-9.04zM514.7 604.48h9.04v2.08h-9.04zM614.1 604.48h9.04v2.08h-9.04zM605.1 606.54h9.04v2.08h-9.04zM605.1 612.70h9.04v2.08h-9.04zM605.1 614.75h9.04v2.08h-9.04zM623.2 614.75h9.04v2.08h-9.04zM623.2 616.81h9.04v2.08h-9.04zM650.3 616.81h9.04v2.08h-9.04zM668.4 618.86h9.04v2.08h-9.04zM623.2 620.92h9.04v2.08h-9.04zM659.3 627.08h9.04v2.08h-9.04zM614.1 629.13h9.04v2.08h-9.04zM659.3 635.30h9.04v2.08h-9.04zM677.4 635.30h9.04v2.08h-9.04zM650.3 643.51h9.04v2.08h-9.04zM632.2 647.62h9.04v2.08h-9.04zM605.1 651.73h9.04v2.08h-9.04zM677.4 651.73h9.04v2.08h-9.04zM659.3 653.78h9.04v2.08h-9.04zM650.3 664.05h9.04v2.08h-9.04zM659.3 664.05h9.04v2.08h-9.04zM587.0 666.11h9.04v2.08h-9.04zM632.2 666.11h9.04v2.08h-9.04zM650.3 666.11h9.04v2.08h-9.04zM668.4 670.22h9.04v2.08h-9.04zM605.1 676.38h9.04v2.08h-9.04zM578.0 678.43h9.04v2.08h-9.04zM596.1 682.54h9.04v2.08h-9.04zM632.2 682.54h9.04v2.08h-9.04zM578.0 684.60h9.04v2.08h-9.04zM578.0 686.65h9.04v2.08h-9.04zM578.0 692.81h9.04v2.08h-9.04zM596.1 692.81h9.04v2.08h-9.04zM587.0 694.87h9.04v2.08h-9.04zM568.9 696.92h9.04v2.08h-9.04zM632.2 696.92h9.04v2.08h-9.04zM632.2 701.03h9.04v2.08h-9.04zM668.4 701.03h9.04v2.08h-9.04zM641.3 703.08h9.04v2.08h-9.04zM632.2 709.25h9.04v2.08h-9.04z" fill="#5e0000"/>
<path d="M478.5 464.80h9.04v2.08h-9.04zM568.9 470.96h9.04v2.08h-9.04zM487.6 475.07h9.04v2.08h-9.04zM550.9 475.07h9.04v2.08h-9.04zM478.5 477.12h9.04v2.08h-9.04zM505.7 477.12h9.04v2.08h-9.04zM668.4 477.12h9.04v2.08h-9.04zM496.6 479.18h9.04v2.08h-9.04zM532.8 481.23h9.04v2.08h-9.04zM550.9 487.40h9.04v2.08h-9.04zM469.5 493.56h9.04v2.08h-9.04zM505.7 495.61h9.04v2.08h-9.04zM469.5 499.72h9.04v2.08h-9.04zM478.5 499.72h9.04v2.08h-9.04zM550.9 499.72h9.04v2.08h-9.04zM568.9 499.72h9.04v2.08h-9.04zM568.9 507.94h9.04v2.08h-9.04zM514.7 509.99h9.04v2.08h-9.04zM514.7 512.05h9.04v2.08h-9.04zM514.7 518.21h9.04v2.08h-9.04zM541.8 522.32h9.04v2.08h-9.04zM550.9 522.32h9.04v2.08h-9.04zM541.8 526.42h9.04v2.08h-9.04zM550.9 526.42h9.04v2.08h-9.04zM505.7 530.53h9.04v2.08h-9.04zM514.7 530.53h9.04v2.08h-9.04zM505.7 538.75h9.04v2.08h-9.04zM496.6 540.80h9.04v2.08h-9.04zM532.8 542.86h9.04v2.08h-9.04zM514.7 544.91h9.04v2.08h-9.04zM487.6 546.97h9.04v2.08h-9.04zM523.7 546.97h9.04v2.08h-9.04zM541.8 553.13h9.04v2.08h-9.04zM677.4 555.18h9.04v2.08h-9.04zM668.4 557.24h9.04v2.08h-9.04zM668.4 559.29h9.04v2.08h-9.04zM614.1 561.35h9.04v2.08h-9.04zM596.1 565.45h9.04v2.08h-9.04zM587.0 567.51h9.04v2.08h-9.04zM641.3 571.62h9.04v2.08h-9.04zM578.0 573.67h9.04v2.08h-9.04zM578.0 575.73h9.04v2.08h-9.04zM632.2 581.89h9.04v2.08h-9.04zM641.3 581.89h9.04v2.08h-9.04zM614.1 586.00h9.04v2.08h-9.04zM659.3 594.21h9.04v2.08h-9.04zM541.8 598.32h9.04v2.08h-9.04zM641.3 600.38h9.04v2.08h-9.04zM605.1 602.43h9.04v2.08h-9.04zM668.4 602.43h9.04v2.08h-9.04zM668.4 604.48h9.04v2.08h-9.04zM487.6 608.59h9.04v2.08h-9.04zM596.1 610.65h9.04v2.08h-9.04zM559.9 614.75h9.04v2.08h-9.04zM668.4 620.92h9.04v2.08h-9.04zM605.1 629.13h9.04v2.08h-9.04zM605.1 631.19h9.04v2.08h-9.04zM641.3 633.24h9.04v2.08h-9.04zM650.3 635.30h9.04v2.08h-9.04zM650.3 639.40h9.04v2.08h-9.04zM659.3 639.40h9.04v2.08h-9.04zM641.3 641.46h9.04v2.08h-9.04zM632.2 645.57h9.04v2.08h-9.04zM605.1 647.62h9.04v2.08h-9.04zM641.3 647.62h9.04v2.08h-9.04zM587.0 649.67h9.04v2.08h-9.04zM605.1 649.67h9.04v2.08h-9.04zM614.1 649.67h9.04v2.08h-9.04zM614.1 651.73h9.04v2.08h-9.04zM578.0 668.16h9.04v2.08h-9.04zM614.1 668.16h9.04v2.08h-9.04zM668.4 668.16h9.04v2.08h-9.04zM623.2 672.27h9.04v2.08h-9.04zM505.7 674.32h9.04v2.08h-9.04zM668.4 676.38h9.04v2.08h-9.04zM614.1 682.54h9.04v2.08h-9.04zM677.4 684.60h9.04v2.08h-9.04zM641.3 688.70h9.04v2.08h-9.04zM587.0 690.76h9.04v2.08h-9.04zM632.2 690.76h9.04v2.08h-9.04zM659.3 694.87h9.04v2.08h-9.04zM596.1 696.92h9.04v2.08h-9.04zM578.0 701.03h9.04v2.08h-9.04zM614.1 701.03h9.04v2.08h-9.04zM596.1 705.14h9.04v2.08h-9.04zM632.2 707.19h9.04v2.08h-9.04zM578.0 709.25h9.04v2.08h-9.04z" fill="#6b0000"/>
<path d="M523.7 464.80h9.04v2.08h-9.04zM550.9 466.85h9.04v2.08h-9.04zM514.7 470.96h9.04v2.08h-9.04zM550.9 473.02h9.04v2.08h-9.04zM469.5 475.07h9.04v2.08h-9.04zM487.6 479.18h9.04v2.08h-9.04zM541.8 481.23h9.04v2.08h-9.04zM550.9 481.23h9.04v2.08h-9.04zM532.8 483.29h9.04v2.08h-9.04zM523.7 487.40h9.04v2.08h-9.04zM559.9 495.61h9.04v2.08h-9.04zM559.9 503.83h9.04v2.08h-9.04zM614.1 512.05h9.04v2.08h-9.04zM514.7 516.15h9.04v2.08h-9.04zM550.9 516.15h9.04v2.08h-9.04zM568.9 518.21h9.04v2.08h-9.04zM469.5 520.26h9.04v2.08h-9.04zM568.9 520.26h9.04v2.08h-9.04zM505.7 528.48h9.04v2.08h-9.04zM469.5 530.53h9.04v2.08h-9.04zM505.7 532.59h9.04v2.08h-9.04zM487.6 540.80h9.04v2.08h-9.04zM559.9 542.86h9.04v2.08h-9.04zM641.3 542.86h9.04v2.08h-9.04zM532.8 544.91h9.04v2.08h-9.04zM623.2 557.24h9.04v2.08h-9.04zM587.0 559.29h9.04v2.08h-9.04zM650.3 563.40h9.04v2.08h-9.04zM650.3 567.51h9.04v2.08h-9.04zM614.1 571.62h9.04v2.08h-9.04zM587.0 573.67h9.04v2.08h-9.04zM632.2 575.73h9.04v2.08h-9.04zM641.3 575.73h9.04v2.08h-9.04zM614.1 577.78h9.04v2.08h-9.04zM641.3 583.94h9.04v2.08h-9.04zM668.4 594.21h9.04v2.08h-9.04zM578.0 596.27h9.04v2.08h-9.04zM614.1 596.27h9.04v2.08h-9.04zM659.3 596.27h9.04v2.08h-9.04zM650.3 602.43h9.04v2.08h-9.04zM659.3 604.48h9.04v2.08h-9.04zM614.1 608.59h9.04v2.08h-9.04zM623.2 612.70h9.04v2.08h-9.04zM614.1 618.86h9.04v2.08h-9.04zM578.0 622.97h9.04v2.08h-9.04zM668.4 622.97h9.04v2.08h-9.04zM605.1 627.08h9.04v2.08h-9.04zM632.2 631.19h9.04v2.08h-9.04zM641.3 631.19h9.04v2.08h-9.04zM632.2 637.35h9.04v2.08h-9.04zM605.1 641.46h9.04v2.08h-9.04zM650.3 641.46h9.04v2.08h-9.04zM677.4 641.46h9.04v2.08h-9.04zM578.0 655.84h9.04v2.08h-9.04zM614.1 655.84h9.04v2.08h-9.04zM650.3 655.84h9.04v2.08h-9.04zM641.3 657.89h9.04v2.08h-9.04zM578.0 662.00h9.04v2.08h-9.04zM641.3 662.00h9.04v2.08h-9.04zM605.1 666.11h9.04v2.08h-9.04zM668.4 666.11h9.04v2.08h-9.04zM578.0 670.22h9.04v2.08h-9.04zM614.1 670.22h9.04v2.08h-9.04zM578.0 672.27h9.04v2.08h-9.04zM587.0 672.27h9.04v2.08h-9.04zM641.3 678.43h9.04v2.08h-9.04zM587.0 680.49h9.04v2.08h-9.04zM596.1 684.60h9.04v2.08h-9.04zM596.1 686.65h9.04v2.08h-9.04zM614.1 690.76h9.04v2.08h-9.04zM641.3 690.76h9.04v2.08h-9.04zM668.4 690.76h9.04v2.08h-9.04zM578.0 694.87h9.04v2.08h-9.04zM596.1 694.87h9.04v2.08h-9.04zM650.3 694.87h9.04v2.08h-9.04zM605.1 703.08h9.04v2.08h-9.04zM668.4 707.19h9.04v2.08h-9.04zM677.4 709.25h9.04v2.08h-9.04z" fill="#780000"/>
<path d="M568.9 464.80h9.04v2.08h-9.04zM478.5 466.85h9.04v2.08h-9.04zM568.9 466.85h9.04v2.08h-9.04zM469.5 468.91h9.04v2.08h-9.04zM496.6 468.91h9.04v2.08h-9.04zM505.7 475.07h9.04v2.08h-9.04zM514.7 475.07h9.04v2.08h-9.04zM578.0 477.12h9.04v2.08h-9.04zM478.5 479.18h9.04v2.08h-9.04zM559.9 481.23h9.04v2.08h-9.04zM541.8 483.29h9.04v2.08h-9.04zM469.5 489.45h9.04v2.08h-9.04zM532.8 491.50h9.04v2.08h-9.04zM550.9 493.56h9.04v2.08h-9.04zM578.0 497.67h9.04v2.08h-9.04zM487.6 503.83h9.04v2.08h-9.04zM514.7 503.83h9.04v2.08h-9.04zM487.6 509.99h9.04v2.08h-9.04zM469.5 518.21h9.04v2.08h-9.04zM541.8 520.26h9.04v2.08h-9.04zM505.7 524.37h9.04v2.08h-9.04zM505.7 526.42h9.04v2.08h-9.04zM523.7 526.42h9.04v2.08h-9.04zM550.9 534.64h9.04v2.08h-9.04zM523.7 538.75h9.04v2.08h-9.04zM541.8 542.86h9.04v2.08h-9.04zM496.6 551.08h9.04v2.08h-9.04zM559.9 551.08h9.04v2.08h-9.04zM659.3 559.29h9.04v2.08h-9.04zM668.4 561.35h9.04v2.08h-9.04zM614.1 563.40h9.04v2.08h-9.04zM614.1 567.51h9.04v2.08h-9.04zM659.3 567.51h9.04v2.08h-9.04zM605.1 571.62h9.04v2.08h-9.04zM641.3 573.67h9.04v2.08h-9.04zM659.3 573.67h9.04v2.08h-9.04zM587.0 575.73h9.04v2.08h-9.04zM632.2 577.78h9.04v2.08h-9.04zM578.0 581.89h9.04v2.08h-9.04zM641.3 588.05h9.04v2.08h-9.04zM596.1 590.10h9.04v2.08h-9.04zM659.3 600.38h9.04v2.08h-9.04zM641.3 602.43h9.04v2.08h-9.04zM659.3 602.43h9.04v2.08h-9.04zM578.0 614.75h9.04v2.08h-9.04zM596.1 614.75h9.04v2.08h-9.04zM596.1 616.81h9.04v2.08h-9.04zM578.0 618.86h9.04v2.08h-9.04zM623.2 618.86h9.04v2.08h-9.04zM659.3 618.86h9.04v2.08h-9.04zM668.4 625.02h9.04v2.08h-9.04zM623.2 633.24h9.04v2.08h-9.04zM659.3 643.51h9.04v2.08h-9.04zM677.4 643.51h9.04v2.08h-9.04zM632.2 651.73h9.04v2.08h-9.04zM659.3 655.84h9.04v2.08h-9.04zM578.0 676.38h9.04v2.08h-9.04zM605.1 678.43h9.04v2.08h-9.04zM632.2 680.49h9.04v2.08h-9.04zM587.0 684.60h9.04v2.08h-9.04zM641.3 684.60h9.04v2.08h-9.04zM605.1 690.76h9.04v2.08h-9.04zM605.1 696.92h9.04v2.08h-9.04zM596.1 703.08h9.04v2.08h-9.04zM632.2 703.08h9.04v2.08h-9.04zM668.4 709.25h9.04v2.08h-9.04z" fill="#860000"/>
<path d="M550.9 468.91h9.04v2.08h-9.04zM505.7 470.96h9.04v2.08h-9.04zM469.5 473.02h9.04v2.08h-9.04zM478.5 475.07h9.04v2.08h-9.04zM496.6 475.07h9.04v2.08h-9.04zM532.8 475.07h9.04v2.08h-9.04zM559.9 477.12h9.04v2.08h-9.04zM478.5 489.45h9.04v2.08h-9.04zM469.5 491.50h9.04v2.08h-9.04zM469.5 495.61h9.04v2.08h-9.04zM523.7 495.61h9.04v2.08h-9.04zM568.9 501.77h9.04v2.08h-9.04zM487.6 507.94h9.04v2.08h-9.04zM550.9 518.21h9.04v2.08h-9.04zM505.7 520.26h9.04v2.08h-9.04zM550.9 520.26h9.04v2.08h-9.04zM478.5 528.48h9.04v2.08h-9.04zM523.7 530.53h9.04v2.08h-9.04zM523.7 532.59h9.04v2.08h-9.04zM469.5 534.64h9.04v2.08h-9.04zM568.9 538.75h9.04v2.08h-9.04zM505.7 540.80h9.04v2.08h-9.04zM550.9 540.80h9.04v2.08h-9.04zM514.7 551.08h9.04v2.08h-9.04zM532.8 553.13h9.04v2.08h-9.04zM578.0 555.18h9.04v2.08h-9.04zM596.1 555.18h9.04v2.08h-9.04zM587.0 557.24h9.04v2.08h-9.04zM578.0 559.29h9.04v2.08h-9.04zM587.0 565.45h9.04v2.08h-9.04zM614.1 565.45h9.04v2.08h-9.04zM614.1 569.56h9.04v2.08h-9.04zM677.4 573.67h9.04v2.08h-9.04zM578.0 577.78h9.04v2.08h-9.04zM641.3 577.78h9.04v2.08h-9.04zM632.2 579.83h9.04v2.08h-9.04zM641.3 586.00h9.04v2.08h-9.04zM605.1 588.05h9.04v2.08h-9.04zM614.1 588.05h9.04v2.08h-9.04zM587.0 592.16h9.04v2.08h-9.04zM605.1 600.38h9.04v2.08h-9.04zM578.0 602.43h9.04v2.08h-9.04zM659.3 606.54h9.04v2.08h-9.04zM659.3 608.59h9.04v2.08h-9.04zM596.1 612.70h9.04v2.08h-9.04zM668.4 614.75h9.04v2.08h-9.04zM614.1 616.81h9.04v2.08h-9.04zM668.4 616.81h9.04v2.08h-9.04zM605.1 620.92h9.04v2.08h-9.04zM659.3 622.97h9.04v2.08h-9.04zM632.2 635.30h9.04v2.08h-9.04zM605.1 645.57h9.04v2.08h-9.04zM632.2 649.67h9.04v2.08h-9.04zM578.0 653.78h9.04v2.08h-9.04zM632.2 653.78h9.04v2.08h-9.04zM650.3 659.95h9.04v2.08h-9.04zM659.3 662.00h9.04v2.08h-9.04zM596.1 676.38h9.04v2.08h-9.04zM668.4 682.54h9.04v2.08h-9.04zM668.4 684.60h9.04v2.08h-9.04zM614.1 686.65h9.04v2.08h-9.04zM668.4 686.65h9.04v2.08h-9.04zM632.2 688.70h9.04v2.08h-9.04zM578.0 696.92h9.04v2.08h-9.04zM650.3 696.92h9.04v2.08h-9.04zM596.1 701.03h9.04v2.08h-9.04zM650.3 703.08h9.04v2.08h-9.04zM668.4 703.08h9.04v2.08h-9.04z" fill="#930000"/>
<path d="M469.5 466.85h9.04v2.08h-9.04zM478.5 468.91h9.04v2.08h-9.04zM514.7 468.91h9.04v2.08h-9.04zM469.5 470.96h9.04v2.08h-9.04zM496.6 470.96h9.04v2.08h-9.04zM550.9 489.45h9.04v2.08h-9.04zM505.7 501.77h9.04v2.08h-9.04zM469.5 512.05h9.04v2.08h-9.04zM469.5 514.10h9.04v2.08h-9.04zM568.9 514.10h9.04v2.08h-9.04zM469.5 516.15h9.04v2.08h-9.04zM568.9 516.15h9.04v2.08h-9.04zM568.9 522.32h9.04v2.08h-9.04zM541.8 524.37h9.04v2.08h-9.04zM532.8 538.75h9.04v2.08h-9.04zM496.6 544.91h9.04v2.08h-9.04zM668.4 555.18h9.04v2.08h-9.04zM659.3 563.40h9.04v2.08h-9.04zM659.3 569.56h9.04v2.08h-9.04zM605.1 573.67h9.04v2.08h-9.04zM614.1 573.67h9.04v2.08h-9.04zM605.1 575.73h9.04v2.08h-9.04zM578.0 583.94h9.04v2.08h-9.04zM587.0 590.10h9.04v2.08h-9.04zM578.0 608.59h9.04v2.08h-9.04zM605.1 616.81h9.04v2.08h-9.04zM605.1 618.86h9.04v2.08h-9.04zM614.1 625.02h9.04v2.08h-9.04zM623.2 625.02h9.04v2.08h-9.04zM677.4 637.35h9.04v2.08h-9.04zM659.3 641.46h9.04v2.08h-9.04zM641.3 649.67h9.04v2.08h-9.04zM578.0 651.73h9.04v2.08h-9.04zM641.3 653.78h9.04v2.08h-9.04zM659.3 659.95h9.04v2.08h-9.04zM578.0 666.11h9.04v2.08h-9.04zM641.3 674.32h9.04v2.08h-9.04zM587.0 678.43h9.04v2.08h-9.04zM605.1 680.49h9.04v2.08h-9.04zM605.1 684.60h9.04v2.08h-9.04zM632.2 686.65h9.04v2.08h-9.04zM614.1 688.70h9.04v2.08h-9.04zM668.4 688.70h9.04v2.08h-9.04zM605.1 692.81h9.04v2.08h-9.04zM596.1 698.97h9.04v2.08h-9.04zM659.3 698.97h9.04v2.08h-9.04zM659.3 701.03h9.04v2.08h-9.04zM587.0 705.14h9.04v2.08h-9.04z" fill="#a10000"/>
<path d="M478.5 470.96h9.04v2.08h-9.04zM532.8 470.96h9.04v2.08h-9.04zM550.9 470.96h9.04v2.08h-9.04zM478.5 473.02h9.04v2.08h-9.04zM532.8 477.12h9.04v2.08h-9.04zM550.9 483.29h9.04v2.08h-9.04zM523.7 491.50h9.04v2.08h-9.04zM523.7 493.56h9.04v2.08h-9.04zM559.9 499.72h9.04v2.08h-9.04zM469.5 501.77h9.04v2.08h-9.04zM541.8 507.94h9.04v2.08h-9.04zM568.9 512.05h9.04v2.08h-9.04zM550.9 514.10h9.04v2.08h-9.04zM487.6 526.42h9.04v2.08h-9.04zM523.7 528.48h9.04v2.08h-9.04zM469.5 532.59h9.04v2.08h-9.04zM487.6 549.02h9.04v2.08h-9.04zM487.6 551.08h9.04v2.08h-9.04zM514.7 553.13h9.04v2.08h-9.04zM659.3 561.35h9.04v2.08h-9.04zM587.0 577.78h9.04v2.08h-9.04zM578.0 579.83h9.04v2.08h-9.04zM605.1 586.00h9.04v2.08h-9.04zM578.0 606.54h9.04v2.08h-9.04zM623.2 622.97h9.04v2.08h-9.04zM605.1 633.24h9.04v2.08h-9.04zM632.2 639.40h9.04v2.08h-9.04zM641.3 643.51h9.04v2.08h-9.04zM650.3 645.57h9.04v2.08h-9.04zM650.3 651.73h9.04v2.08h-9.04zM641.3 655.84h9.04v2.08h-9.04zM587.0 676.38h9.04v2.08h-9.04zM596.1 678.43h9.04v2.08h-9.04zM605.1 694.87h9.04v2.08h-9.04zM578.0 707.19h9.04v2.08h-9.04z" fill="#ae0000"/>
<path d="M559.9 473.02h9.04v2.08h-9.04zM559.9 497.67h9.04v2.08h-9.04zM541.8 516.15h9.04v2.08h-9.04zM487.6 528.48h9.04v2.08h-9.04zM469.5 536.70h9.04v2.08h-9.04zM496.6 546.97h9.04v2.08h-9.04zM496.6 549.02h9.04v2.08h-9.04zM559.9 549.02h9.04v2.08h-9.04zM659.3 565.45h9.04v2.08h-9.04zM605.1 577.78h9.04v2.08h-9.04zM578.0 604.48h9.04v2.08h-9.04zM605.1 625.02h9.04v2.08h-9.04zM677.4 639.40h9.04v2.08h-9.04zM623.2 641.46h9.04v2.08h-9.04zM650.3 653.78h9.04v2.08h-9.04zM632.2 655.84h9.04v2.08h-9.04zM650.3 657.89h9.04v2.08h-9.04zM614.1 684.60h9.04v2.08h-9.04zM650.3 701.03h9.04v2.08h-9.04zM578.0 705.14h9.04v2.08h-9.04zM587.0 707.19h9.04v2.08h-9.04zM587.0 709.25h9.04v2.08h-9.04z" fill="#bc0000"/>
<path d="M568.9 468.91h9.04v2.08h-9.04zM532.8 473.02h9.04v2.08h-9.04zM550.9 491.50h9.04v2.08h-9.04zM550.9 495.61h9.04v2.08h-9.04zM469.5 505.88h9.04v2.08h-9.04zM541.8 509.99h9.04v2.08h-9.04zM514.7 528.48h9.04v2.08h-9.04zM587.0 555.18h9.04v2.08h-9.04zM605.1 583.94h9.04v2.08h-9.04zM668.4 610.65h9.04v2.08h-9.04zM614.1 627.08h9.04v2.08h-9.04zM623.2 627.08h9.04v2.08h-9.04zM623.2 631.19h9.04v2.08h-9.04zM578.0 649.67h9.04v2.08h-9.04zM641.3 664.05h9.04v2.08h-9.04zM641.3 676.38h9.04v2.08h-9.04zM632.2 684.60h9.04v2.08h-9.04zM650.3 698.97h9.04v2.08h-9.04z" fill="#c90000"/>
<path d="M559.9 466.85h9.04v2.08h-9.04zM559.9 468.91h9.04v2.08h-9.04zM559.9 470.96h9.04v2.08h-9.04zM559.9 475.07h9.04v2.08h-9.04zM496.6 477.12h9.04v2.08h-9.04zM559.9 479.18h9.04v2.08h-9.04zM523.7 489.45h9.04v2.08h-9.04zM469.5 507.94h9.04v2.08h-9.04zM469.5 509.99h9.04v2.08h-9.04zM568.9 509.99h9.04v2.08h-9.04zM541.8 514.10h9.04v2.08h-9.04zM541.8 518.21h9.04v2.08h-9.04zM496.6 542.86h9.04v2.08h-9.04zM487.6 553.13h9.04v2.08h-9.04zM641.3 563.40h9.04v2.08h-9.04zM641.3 565.45h9.04v2.08h-9.04zM605.1 579.83h9.04v2.08h-9.04zM605.1 581.89h9.04v2.08h-9.04zM578.0 610.65h9.04v2.08h-9.04zM578.0 612.70h9.04v2.08h-9.04zM668.4 612.70h9.04v2.08h-9.04zM605.1 622.97h9.04v2.08h-9.04zM614.1 622.97h9.04v2.08h-9.04zM632.2 633.24h9.04v2.08h-9.04zM677.4 645.57h9.04v2.08h-9.04zM650.3 647.62h9.04v2.08h-9.04zM677.4 647.62h9.04v2.08h-9.04zM650.3 649.67h9.04v2.08h-9.04zM677.4 649.67h9.04v2.08h-9.04zM641.3 651.73h9.04v2.08h-9.04zM641.3 666.11h9.04v2.08h-9.04zM641.3 668.16h9.04v2.08h-9.04zM641.3 670.22h9.04v2.08h-9.04zM641.3 672.27h9.04v2.08h-9.04zM632.2 705.14h9.04v2.08h-9.04zM668.4 705.14h9.04v2.08h-9.04z" fill="#d70000"/>
</g></g>
<path d="M444.8 465.5H434.7M444.8 467.6H434.7M434.7 465.5V467.6M434.7 466.6H429.9M444.8 469.7H429.9M429.9 466.6V469.7M444.8 473.9H435.5M444.8 476.1H435.5M435.5 473.9V476.1M444.8 471.8H431.2M435.5 475.0H431.2M431.2 471.8V475.0M444.8 478.2H435.3M444.8 480.3H435.3M435.3 478.2V480.3M431.2 473.4H427.6M435.3 479.2H427.6M427.6 473.4V479.2M429.9 468.1H423.4M427.6 476.3H423.4M423.4 468.1V476.3M444.8 482.4H433.6M444.8 484.5H433.6M433.6 482.4V484.5M444.8 486.6H435.1M444.8 488.7H435.1M435.1 486.6V488.7M444.8 490.8H433.6M444.8 492.9H433.6M433.6 490.8V492.9M435.1 487.7H429.8M433.6 491.9H429.8M429.8 487.7V491.9M433.6 483.4H425.6M429.8 489.8H425.6M425.6 483.4V489.8M423.4 472.2H416.4M425.6 486.6H416.4M416.4 472.2V486.6M416.4 479.4H412.2M444.8 495.0H412.2M412.2 479.4V495.0M444.8 497.2H435.4M444.8 499.3H435.4M435.4 497.2V499.3M435.4 498.2H432.3M444.8 501.4H432.3M432.3 498.2V501.4M444.8 505.6H434.5M444.8 507.7H434.5M434.5 505.6V507.7M444.8 503.5H433.1M434.5 506.6H433.1M433.1 503.5V506.6M444.8 511.9H434.6M444.8 514.0H434.6M434.6 511.9V514.0M444.8 509.8H432.6M434.6 513.0H432.6M432.6 509.8V513.0M433.1 505.1H427.7M432.6 511.4H427.7M427.7 505.1V511.4M432.3 499.8H423.5M427.7 508.2H423.5M423.5 499.8V508.2M444.8 516.1H434.2M444.8 518.3H434.2M434.2 516.1V518.3M444.8 520.4H434.7M444.8 522.5H434.7M434.7 520.4V522.5M444.8 524.6H435.8M444.8 526.7H435.8M435.8 524.6V526.7M434.7 521.4H429.6M435.8 525.6H429.6M429.6 521.4V525.6M444.8 528.8H435.7M444.8 530.9H435.7M435.7 528.8V530.9M435.7 529.9H430.1M444.8 533.0H430.1M430.1 529.9V533.0M429.6 523.5H425.7M430.1 531.4H425.7M425.7 523.5V531.4M434.2 517.2H421.9M425.7 527.5H421.9M421.9 517.2V527.5M423.5 504.0H420.2M421.9 522.3H420.2M420.2 504.0V522.3M444.8 535.1H434.2M444.8 537.2H434.2M434.2 535.1V537.2M444.8 539.4H433.9M444.8 541.5H433.9M433.9 539.4V541.5M434.2 536.2H427.6M433.9 540.4H427.6M427.6 536.2V540.4M444.8 543.6H434.9M444.8 545.7H434.9M434.9 543.6V545.7M444.8 549.9H435.8M444.8 552.0H435.8M435.8 549.9V552.0M444.8 547.8H431.5M435.8 551.0H431.5M431.5 547.8V551.0M434.9 544.6H429.0M431.5 549.4H429.0M429.0 544.6V549.4M427.6 538.3H423.5M429.0 547.0H423.5M423.5 538.3V547.0M420.2 513.2H410.0M423.5 542.6H410.0M410.0 513.2V542.6M412.2 487.2H407.1M410.0 527.9H407.1M407.1 487.2V527.9M444.8 554.1H433.9M444.8 556.2H433.9M433.9 554.1V556.2M444.8 560.5H435.9M444.8 562.6H435.9M435.9 560.5V562.6M435.9 561.5H432.3M444.8 564.7H432.3M432.3 561.5V564.7M444.8 558.3H428.9M432.3 563.1H428.9M428.9 558.3V563.1M433.9 555.2H425.0M428.9 560.7H425.0M425.0 555.2V560.7M444.8 566.8H434.2M444.8 568.9H434.2M434.2 566.8V568.9M425.0 557.9H422.6M434.2 567.8H422.6M422.6 557.9V567.8M444.8 573.1H434.4M444.8 575.2H434.4M434.4 573.1V575.2M444.8 571.0H430.6M434.4 574.2H430.6M430.6 571.0V574.2M430.6 572.6H429.4M444.8 577.3H429.4M429.4 572.6V577.3M444.8 579.4H435.0M444.8 581.6H435.0M435.0 579.4V581.6M429.4 575.0H424.0M435.0 580.5H424.0M424.0 575.0V580.5M444.8 583.7H434.7M444.8 585.8H434.7M434.7 583.7V585.8M444.8 587.9H434.8M444.8 590.0H434.8M434.8 587.9V590.0M434.7 584.7H429.7M434.8 588.9H429.7M429.7 584.7V588.9M424.0 577.7H421.7M429.7 586.8H421.7M421.7 577.7V586.8M422.6 562.9H415.1M421.7 582.3H415.1M415.1 562.9V582.3M415.1 572.6H411.5M444.8 592.1H411.5M411.5 572.6V592.1M444.8 596.3H435.3M444.8 598.4H435.3M435.3 596.3V598.4M435.3 597.4H431.1M444.8 600.5H431.1M431.1 597.4V600.5M444.8 594.2H429.1M431.1 599.0H429.1M429.1 594.2V599.0M444.8 604.8H434.5M444.8 606.9H434.5M434.5 604.8V606.9M444.8 602.7H430.2M434.5 605.8H430.2M430.2 602.7V605.8M430.2 604.2H429.0M444.8 609.0H429.0M429.0 604.2V609.0M444.8 611.1H434.7M444.8 613.2H434.7M434.7 611.1V613.2M429.0 606.6H426.8M434.7 612.2H426.8M426.8 606.6V612.2M429.1 596.6H418.9M426.8 609.4H418.9M418.9 596.6V609.4M444.8 615.3H434.3M444.8 617.4H434.3M434.3 615.3V617.4M434.3 616.4H430.7M444.8 619.5H430.7M430.7 616.4V619.5M444.8 623.8H436.0M444.8 625.9H436.0M436.0 623.8V625.9M444.8 621.6H429.8M436.0 624.8H429.8M429.8 621.6V624.8M429.8 623.2H427.6M444.8 628.0H427.6M427.6 623.2V628.0M430.7 618.0H423.5M427.6 625.6H423.5M423.5 618.0V625.6M444.8 630.1H433.6M444.8 632.2H433.6M433.6 630.1V632.2M433.6 631.1H431.2M444.8 634.3H431.2M431.2 631.1V634.3M444.8 638.5H434.5M444.8 640.6H434.5M434.5 638.5V640.6M434.5 639.6H431.9M444.8 642.7H431.9M431.9 639.6V642.7M444.8 636.4H427.4M431.9 641.2H427.4M427.4 636.4V641.2M431.2 632.7H426.0M427.4 638.8H426.0M426.0 632.7V638.8M444.8 647.0H435.3M444.8 649.1H435.3M435.3 647.0V649.1M444.8 644.9H431.5M435.3 648.0H431.5M431.5 644.9V648.0M431.5 646.4H429.6M444.8 651.2H429.6M429.6 646.4V651.2M444.8 653.3H435.5M444.8 655.4H435.5M435.5 653.3V655.4M429.6 648.8H424.9M435.5 654.4H424.9M424.9 648.8V654.4M444.8 657.5H434.9M444.8 659.6H434.9M434.9 657.5V659.6M444.8 663.8H433.6M444.8 666.0H433.6M433.6 663.8V666.0M444.8 661.7H430.9M433.6 664.9H430.9M430.9 661.7V664.9M444.8 670.2H435.4M444.8 672.3H435.4M435.4 670.2V672.3M444.8 668.1H431.4M435.4 671.2H431.4M431.4 668.1V671.2M430.9 663.3H426.8M431.4 669.7H426.8M426.8 663.3V669.7M434.9 658.6H423.9M426.8 666.5H423.9M423.9 658.6V666.5M444.8 676.5H435.7M444.8 678.6H435.7M435.7 676.5V678.6M435.7 677.6H431.0M444.8 680.7H431.0M431.0 677.6V680.7M444.8 674.4H429.0M431.0 679.1H429.0M429.0 674.4V679.1M444.8 682.8H434.3M444.8 684.9H434.3M434.3 682.8V684.9M434.3 683.9H432.8M444.8 687.1H432.8M432.8 683.9V687.1M432.8 685.5H428.3M444.8 689.2H428.3M428.3 685.5V689.2M429.0 676.8H425.0M428.3 687.3H425.0M425.0 676.8V687.3M444.8 691.3H435.2M444.8 693.4H435.2M435.2 691.3V693.4M444.8 695.5H435.6M444.8 697.6H435.6M435.6 695.5V697.6M435.2 692.3H429.1M435.6 696.6H429.1M429.1 692.3V696.6M444.8 699.7H434.1M444.8 701.8H434.1M434.1 699.7V701.8M434.1 700.8H432.0M444.8 703.9H432.0M432.0 700.8V703.9M429.1 694.4H425.6M432.0 702.4H425.6M425.6 694.4V702.4M444.8 706.0H436.0M444.8 708.2H436.0M436.0 706.0V708.2M436.0 707.1H431.4M444.8 710.3H431.4M431.4 707.1V710.3M444.8 714.5H434.8M444.8 716.6H434.8M434.8 714.5V716.6M444.8 712.4H432.5M434.8 715.5H432.5M432.5 712.4V715.5M431.4 708.7H426.4M432.5 714.0H426.4M426.4 708.7V714.0M425.6 698.4H423.2M426.4 711.3H423.2M423.2 698.4V711.3M425.0 682.0H421.0M423.2 704.9H421.0M421.0 682.0V704.9M423.9 662.5H419.2M421.0 693.5H419.2M419.2 662.5V693.5M424.9 651.6H416.6M419.2 678.0H416.6M416.6 651.6V678.0M426.0 635.8H414.1M416.6 664.8H414.1M414.1 635.8V664.8M423.5 621.8H412.2M414.1 650.3H412.2M412.2 621.8V650.3M418.9 603.0H410.1M412.2 636.0H410.1M410.1 603.0V636.0M411.5 582.3H405.3M410.1 619.5H405.3M405.3 582.3V619.5M407.1 507.6H375.5M405.3 600.9H375.5M375.5 507.6V600.9" stroke="#000" stroke-width="0.95" fill="none"/>
</svg>
</body></html>
